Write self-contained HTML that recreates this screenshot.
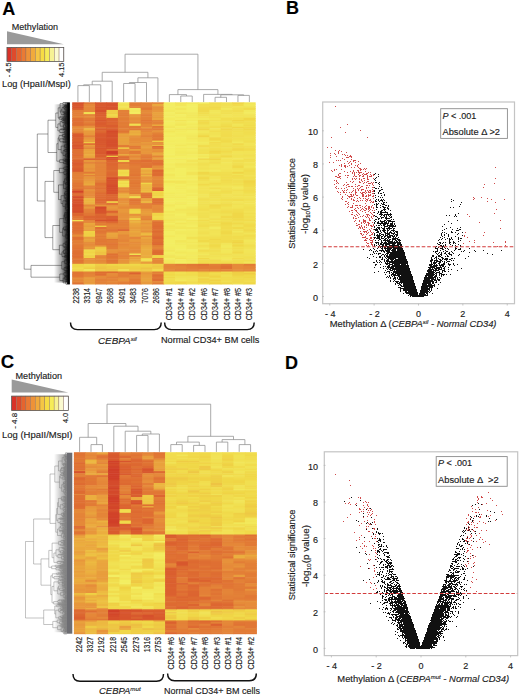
<!DOCTYPE html>
<html><head><meta charset="utf-8"><style>
html,body{margin:0;padding:0;background:#fff;}
svg{display:block;font-family:"Liberation Sans", sans-serif;}
text{stroke:#1a1a1a;stroke-width:0.14px;}

</style></head><body>
<svg width="520" height="696" viewBox="0 0 520 696">
<rect width="520" height="696" fill="#fff"/>
<text x="2.2" y="15.2" font-size="18" font-weight="bold" fill="#000">A</text>
<text x="286" y="13.9" font-size="18" font-weight="bold" fill="#000">B</text>
<text x="0.8" y="367.7" font-size="18.5" font-weight="bold" fill="#000">C</text>
<text x="284.9" y="369" font-size="18" font-weight="bold" fill="#000">D</text>
<text x="11.75" y="29.6" font-size="9.1" fill="#222" textLength="46.3" lengthAdjust="spacingAndGlyphs">Methylation</text>
<polygon points="7,31.3 7,44.3 63.8,44.3" fill="#9a9a9a"/>
<rect x="7" y="47.4" width="4.73" height="14" fill="#d93228" stroke="#8a6a5a" stroke-width="0.4"/>
<rect x="11.73" y="47.4" width="4.73" height="14" fill="#df4a2c" stroke="#8a6a5a" stroke-width="0.4"/>
<rect x="16.47" y="47.4" width="4.73" height="14" fill="#e6642e" stroke="#8a6a5a" stroke-width="0.4"/>
<rect x="21.2" y="47.4" width="4.73" height="14" fill="#ea7a34" stroke="#8a6a5a" stroke-width="0.4"/>
<rect x="25.93" y="47.4" width="4.73" height="14" fill="#ee9238" stroke="#8a6a5a" stroke-width="0.4"/>
<rect x="30.67" y="47.4" width="4.73" height="14" fill="#f1aa3c" stroke="#8a6a5a" stroke-width="0.4"/>
<rect x="35.4" y="47.4" width="4.73" height="14" fill="#f5c644" stroke="#8a6a5a" stroke-width="0.4"/>
<rect x="40.13" y="47.4" width="4.73" height="14" fill="#f7dc44" stroke="#8a6a5a" stroke-width="0.4"/>
<rect x="44.87" y="47.4" width="4.73" height="14" fill="#f6ec58" stroke="#8a6a5a" stroke-width="0.4"/>
<rect x="49.6" y="47.4" width="4.73" height="14" fill="#f7f294" stroke="#8a6a5a" stroke-width="0.4"/>
<rect x="54.33" y="47.4" width="4.73" height="14" fill="#fbfad0" stroke="#8a6a5a" stroke-width="0.4"/>
<rect x="59.07" y="47.4" width="4.73" height="14" fill="#ffffff" stroke="#8a6a5a" stroke-width="0.4"/>
<rect x="7" y="47.4" width="56.8" height="14" fill="none" stroke="#555" stroke-width="0.7"/>
<text x="11.4" y="62.5" font-size="7.8" text-anchor="end" fill="#222" transform="rotate(-90 11.4 62.5)" textLength="14.8" lengthAdjust="spacingAndGlyphs">- 4.5</text>
<text x="64.4" y="62.5" font-size="7.8" text-anchor="end" fill="#222" transform="rotate(-90 64.4 62.5)" textLength="14.5" lengthAdjust="spacingAndGlyphs">4.15</text>
<text x="2" y="86.7" font-size="9.3" fill="#222" textLength="68.8" lengthAdjust="spacingAndGlyphs">Log (HpaII/MspI)</text>
<text x="15.5" y="378.5" font-size="9.1" fill="#222" textLength="46.5" lengthAdjust="spacingAndGlyphs">Methylation</text>
<polygon points="11.7,379.5 11.7,392.6 68.3,392.6" fill="#9a9a9a"/>
<rect x="11.7" y="396.1" width="4.72" height="14.4" fill="#d93228" stroke="#8a6a5a" stroke-width="0.4"/>
<rect x="16.42" y="396.1" width="4.72" height="14.4" fill="#df4a2c" stroke="#8a6a5a" stroke-width="0.4"/>
<rect x="21.13" y="396.1" width="4.72" height="14.4" fill="#e6642e" stroke="#8a6a5a" stroke-width="0.4"/>
<rect x="25.85" y="396.1" width="4.72" height="14.4" fill="#ea7a34" stroke="#8a6a5a" stroke-width="0.4"/>
<rect x="30.57" y="396.1" width="4.72" height="14.4" fill="#ee9238" stroke="#8a6a5a" stroke-width="0.4"/>
<rect x="35.28" y="396.1" width="4.72" height="14.4" fill="#f1aa3c" stroke="#8a6a5a" stroke-width="0.4"/>
<rect x="40" y="396.1" width="4.72" height="14.4" fill="#f5c644" stroke="#8a6a5a" stroke-width="0.4"/>
<rect x="44.72" y="396.1" width="4.72" height="14.4" fill="#f7dc44" stroke="#8a6a5a" stroke-width="0.4"/>
<rect x="49.43" y="396.1" width="4.72" height="14.4" fill="#f6ec58" stroke="#8a6a5a" stroke-width="0.4"/>
<rect x="54.15" y="396.1" width="4.72" height="14.4" fill="#f7f294" stroke="#8a6a5a" stroke-width="0.4"/>
<rect x="58.87" y="396.1" width="4.72" height="14.4" fill="#fbfad0" stroke="#8a6a5a" stroke-width="0.4"/>
<rect x="63.58" y="396.1" width="4.72" height="14.4" fill="#ffffff" stroke="#8a6a5a" stroke-width="0.4"/>
<rect x="11.7" y="396.1" width="56.6" height="14.4" fill="none" stroke="#555" stroke-width="0.7"/>
<text x="16.6" y="412.8" font-size="7.8" text-anchor="end" fill="#222" transform="rotate(-90 16.6 412.8)" textLength="16" lengthAdjust="spacingAndGlyphs">- 4.8</text>
<text x="68.3" y="412.8" font-size="7.8" text-anchor="end" fill="#222" transform="rotate(-90 68.3 412.8)" textLength="10.3" lengthAdjust="spacingAndGlyphs">4.0</text>
<text x="2" y="438" font-size="9.5" fill="#222" textLength="70.5" lengthAdjust="spacingAndGlyphs">Log (HpaII/MspI)</text>
<g class="ha"><g transform="translate(72.2 0)"><rect y="102.3" width="12.03" height="2.2" fill="#d6502c"/><rect y="103.9" width="12.03" height="2.9" fill="#d8572d"/><rect y="106.2" width="12.03" height="2.4" fill="#d7552d"/><rect y="108" width="12.03" height="2.5" fill="#da5e2f"/><rect y="109.9" width="12.03" height="2.8" fill="#e37e37"/><rect y="112.1" width="12.03" height="2.6" fill="#e37f37"/><rect y="114.1" width="12.03" height="2.7" fill="#e37f37"/><rect y="116.2" width="12.03" height="2.4" fill="#e48438"/><rect y="117.9" width="12.03" height="2.7" fill="#df7133"/><rect y="120" width="12.03" height="1.8" fill="#df6e33"/><rect y="121.2" width="12.03" height="3" fill="#df6e33"/><rect y="123.6" width="12.03" height="1.7" fill="#de6e32"/><rect y="124.6" width="12.03" height="1.7" fill="#de6b32"/><rect y="125.8" width="12.03" height="1.9" fill="#e48538"/><rect y="127" width="12.03" height="1.7" fill="#e68b3a"/><rect y="128.2" width="12.03" height="2.7" fill="#e58839"/><rect y="130.3" width="12.03" height="2.2" fill="#e68a3a"/><rect y="131.9" width="12.03" height="2.1" fill="#e38137"/><rect y="133.4" width="12.03" height="2.6" fill="#da5c2e"/><rect y="135.4" width="12.03" height="2.5" fill="#d95b2e"/><rect y="137.3" width="12.03" height="2.9" fill="#db602f"/><rect y="139.5" width="12.03" height="1.7" fill="#dc6530"/><rect y="140.6" width="12.03" height="1.9" fill="#da5f2f"/><rect y="142" width="12.03" height="1.9" fill="#d95a2e"/><rect y="143.2" width="12.03" height="2.4" fill="#da5e2f"/><rect y="145" width="12.03" height="1.6" fill="#d7552d"/><rect y="146" width="12.03" height="1.9" fill="#d8582e"/><rect y="147.4" width="12.03" height="2.1" fill="#d7542d"/><rect y="148.9" width="12.03" height="2.5" fill="#df7133"/><rect y="150.8" width="12.03" height="2.2" fill="#df7133"/><rect y="152.4" width="12.03" height="2.3" fill="#df7133"/><rect y="154.1" width="12.03" height="2.2" fill="#de6b32"/><rect y="155.7" width="12.03" height="1.9" fill="#e07334"/><rect y="156.9" width="12.03" height="1.9" fill="#e07334"/><rect y="158.3" width="12.03" height="2.3" fill="#df6f33"/><rect y="160" width="12.03" height="2.7" fill="#dc6330"/><rect y="162.1" width="12.03" height="2" fill="#da5c2e"/><rect y="163.5" width="12.03" height="2.6" fill="#da5d2f"/><rect y="165.5" width="12.03" height="3" fill="#dc6430"/><rect y="167.9" width="12.03" height="2.3" fill="#da5e2f"/><rect y="169.6" width="12.03" height="2.8" fill="#d95a2e"/><rect y="171.8" width="12.03" height="2.5" fill="#e27d36"/><rect y="173.7" width="12.03" height="1.8" fill="#e38137"/><rect y="174.8" width="12.03" height="2.1" fill="#e38037"/><rect y="176.3" width="12.03" height="1.7" fill="#e27e36"/><rect y="177.4" width="12.03" height="2.4" fill="#e38137"/><rect y="179.2" width="12.03" height="2.1" fill="#e38137"/><rect y="180.6" width="12.03" height="2.7" fill="#e27e36"/><rect y="182.7" width="12.03" height="1.7" fill="#e17635"/><rect y="183.9" width="12.03" height="2.2" fill="#e17835"/><rect y="185.5" width="12.03" height="2.4" fill="#e07534"/><rect y="187.3" width="12.03" height="2.6" fill="#e17735"/><rect y="189.3" width="12.03" height="2.3" fill="#db612f"/><rect y="191" width="12.03" height="2.2" fill="#d24429"/><rect y="192.6" width="12.03" height="2.1" fill="#de6a32"/><rect y="194.1" width="12.03" height="2.7" fill="#dd6a31"/><rect y="196.2" width="12.03" height="2.6" fill="#d54d2b"/><rect y="198.2" width="12.03" height="1.9" fill="#db612f"/><rect y="199.5" width="12.03" height="2.3" fill="#d6512c"/><rect y="201.2" width="12.03" height="2.4" fill="#d7542d"/><rect y="203.1" width="12.03" height="2.1" fill="#d6512c"/><rect y="204.6" width="12.03" height="2.5" fill="#d44c2b"/><rect y="206.5" width="12.03" height="2.9" fill="#d6512c"/><rect y="208.7" width="12.03" height="2.6" fill="#d6512c"/><rect y="210.7" width="12.03" height="2.6" fill="#d44b2b"/><rect y="212.8" width="12.03" height="1.6" fill="#dd6a31"/><rect y="213.8" width="12.03" height="2.6" fill="#dc6330"/><rect y="215.8" width="12.03" height="2.9" fill="#e07434"/><rect y="218.1" width="12.03" height="2.5" fill="#e27a36"/><rect y="220" width="12.03" height="1.9" fill="#f2e355"/><rect y="221.3" width="12.03" height="2.1" fill="#e07534"/><rect y="222.8" width="12.03" height="2.2" fill="#de6e32"/><rect y="224.4" width="12.03" height="1.8" fill="#df6f33"/><rect y="225.6" width="12.03" height="1.9" fill="#e07334"/><rect y="227" width="12.03" height="2.7" fill="#df6f33"/><rect y="229.1" width="12.03" height="2.5" fill="#de6d32"/><rect y="231" width="12.03" height="2.1" fill="#df7133"/><rect y="232.5" width="12.03" height="2.5" fill="#e17635"/><rect y="234.5" width="12.03" height="1.7" fill="#e68d3a"/><rect y="235.6" width="12.03" height="1.8" fill="#e7903b"/><rect y="236.7" width="12.03" height="2.7" fill="#df7033"/><rect y="238.9" width="12.03" height="1.7" fill="#e07234"/><rect y="240" width="12.03" height="2.5" fill="#e37f37"/><rect y="241.9" width="12.03" height="2" fill="#e27d36"/><rect y="243.3" width="12.03" height="2.1" fill="#e37f37"/><rect y="244.8" width="12.03" height="2.4" fill="#e17935"/><rect y="246.6" width="12.03" height="1.7" fill="#e17935"/><rect y="247.7" width="12.03" height="2.2" fill="#e07534"/><rect y="249.4" width="12.03" height="2.9" fill="#e07234"/><rect y="251.7" width="12.03" height="2.4" fill="#df6f33"/><rect y="253.5" width="12.03" height="2.2" fill="#df7133"/><rect y="255.1" width="12.03" height="2" fill="#de6d32"/><rect y="256.5" width="12.03" height="2.1" fill="#df7033"/><rect y="258" width="12.03" height="1.7" fill="#e17935"/><rect y="259.2" width="12.03" height="2.9" fill="#e07434"/><rect y="261.5" width="12.03" height="2.9" fill="#e17835"/><rect y="263.8" width="12.03" height="2.5" fill="#f0d848"/><rect y="265.7" width="12.03" height="2.4" fill="#f0d748"/><rect y="267.5" width="12.03" height="2.3" fill="#f1dd4e"/><rect y="269.2" width="12.03" height="1.7" fill="#f0d546"/><rect y="270.3" width="12.03" height="1.8" fill="#f0d94a"/><rect y="271.5" width="12.03" height="1.8" fill="#e17735"/><rect y="272.7" width="12.03" height="2.3" fill="#e07534"/><rect y="274.4" width="12.03" height="1.9" fill="#e17735"/><rect y="275.6" width="12.03" height="1.7" fill="#e17635"/><rect y="276.8" width="12.03" height="2.1" fill="#e48438"/><rect y="278.3" width="12.03" height="1.9" fill="#e68e3a"/><rect y="279.5" width="12.03" height="2.4" fill="#e48638"/><rect y="281.3" width="12.03" height="1.8" fill="#e58739"/><rect y="282.6" width="12.03" height="1.9" fill="#df7233"/></g>
<g transform="translate(83.63 0)"><rect y="102.3" width="12.03" height="2.2" fill="#e07534"/><rect y="103.9" width="12.03" height="2.9" fill="#e58739"/><rect y="106.2" width="12.03" height="2.4" fill="#e58839"/><rect y="108" width="12.03" height="2.5" fill="#e58739"/><rect y="109.9" width="12.03" height="2.8" fill="#e58739"/><rect y="112.1" width="12.03" height="2.6" fill="#f1e052"/><rect y="114.1" width="12.03" height="2.7" fill="#e48438"/><rect y="116.2" width="12.03" height="2.4" fill="#e68c3a"/><rect y="117.9" width="12.03" height="2.7" fill="#e27b36"/><rect y="120" width="12.03" height="1.8" fill="#e17835"/><rect y="121.2" width="12.03" height="3" fill="#e37f37"/><rect y="123.6" width="12.03" height="1.7" fill="#e07434"/><rect y="124.6" width="12.03" height="1.7" fill="#e17835"/><rect y="125.8" width="12.03" height="1.9" fill="#e78f3b"/><rect y="127" width="12.03" height="1.7" fill="#e7943b"/><rect y="128.2" width="12.03" height="2.7" fill="#ecb540"/><rect y="130.3" width="12.03" height="2.2" fill="#e89a3c"/><rect y="131.9" width="12.03" height="2.1" fill="#e89a3c"/><rect y="133.4" width="12.03" height="2.6" fill="#e8963c"/><rect y="135.4" width="12.03" height="2.5" fill="#e38037"/><rect y="137.3" width="12.03" height="2.9" fill="#e7953b"/><rect y="139.5" width="12.03" height="1.7" fill="#e9a03d"/><rect y="140.6" width="12.03" height="1.9" fill="#e99e3d"/><rect y="142" width="12.03" height="1.9" fill="#efc944"/><rect y="143.2" width="12.03" height="2.4" fill="#e07234"/><rect y="145" width="12.03" height="1.6" fill="#e99e3d"/><rect y="146" width="12.03" height="1.9" fill="#e7943b"/><rect y="147.4" width="12.03" height="2.1" fill="#e48538"/><rect y="148.9" width="12.03" height="2.5" fill="#e9a23d"/><rect y="150.8" width="12.03" height="2.2" fill="#eaa73e"/><rect y="152.4" width="12.03" height="2.3" fill="#e9a33d"/><rect y="154.1" width="12.03" height="2.2" fill="#ebab3f"/><rect y="155.7" width="12.03" height="1.9" fill="#eaa53e"/><rect y="156.9" width="12.03" height="1.9" fill="#e9a13d"/><rect y="158.3" width="12.03" height="2.3" fill="#dc6430"/><rect y="160" width="12.03" height="2.7" fill="#e8973c"/><rect y="162.1" width="12.03" height="2" fill="#e38037"/><rect y="163.5" width="12.03" height="2.6" fill="#e8973c"/><rect y="165.5" width="12.03" height="3" fill="#e8993c"/><rect y="167.9" width="12.03" height="2.3" fill="#e7923b"/><rect y="169.6" width="12.03" height="2.8" fill="#e8973c"/><rect y="171.8" width="12.03" height="2.5" fill="#e27a36"/><rect y="173.7" width="12.03" height="1.8" fill="#eaa73e"/><rect y="174.8" width="12.03" height="2.1" fill="#e38137"/><rect y="176.3" width="12.03" height="1.7" fill="#e7953b"/><rect y="177.4" width="12.03" height="2.4" fill="#e7963b"/><rect y="179.2" width="12.03" height="2.1" fill="#e8963c"/><rect y="180.6" width="12.03" height="2.7" fill="#e9a13d"/><rect y="182.7" width="12.03" height="1.7" fill="#eaa53e"/><rect y="183.9" width="12.03" height="2.2" fill="#eaa93e"/><rect y="185.5" width="12.03" height="2.4" fill="#e48238"/><rect y="187.3" width="12.03" height="2.6" fill="#e37e37"/><rect y="189.3" width="12.03" height="2.3" fill="#e7933b"/><rect y="191" width="12.03" height="2.2" fill="#e68b3a"/><rect y="192.6" width="12.03" height="2.1" fill="#e68b3a"/><rect y="194.1" width="12.03" height="2.7" fill="#e68a3a"/><rect y="196.2" width="12.03" height="2.6" fill="#e7913b"/><rect y="198.2" width="12.03" height="1.9" fill="#edba41"/><rect y="199.5" width="12.03" height="2.3" fill="#ecb340"/><rect y="201.2" width="12.03" height="2.4" fill="#ecb340"/><rect y="203.1" width="12.03" height="2.1" fill="#ebac3f"/><rect y="204.6" width="12.03" height="2.5" fill="#e58739"/><rect y="206.5" width="12.03" height="2.9" fill="#e8993c"/><rect y="208.7" width="12.03" height="2.6" fill="#e48238"/><rect y="210.7" width="12.03" height="2.6" fill="#e38037"/><rect y="212.8" width="12.03" height="1.6" fill="#e17835"/><rect y="213.8" width="12.03" height="2.6" fill="#e17635"/><rect y="215.8" width="12.03" height="2.9" fill="#dc6530"/><rect y="218.1" width="12.03" height="2.5" fill="#dd6831"/><rect y="220" width="12.03" height="1.9" fill="#e48438"/><rect y="221.3" width="12.03" height="2.1" fill="#e48438"/><rect y="222.8" width="12.03" height="2.2" fill="#eaa73e"/><rect y="224.4" width="12.03" height="1.8" fill="#e9a33d"/><rect y="225.6" width="12.03" height="1.9" fill="#e89c3c"/><rect y="227" width="12.03" height="2.7" fill="#eaa43e"/><rect y="229.1" width="12.03" height="2.5" fill="#e99f3d"/><rect y="231" width="12.03" height="2.1" fill="#f0d345"/><rect y="232.5" width="12.03" height="2.5" fill="#efcf45"/><rect y="234.5" width="12.03" height="1.7" fill="#efcf45"/><rect y="235.6" width="12.03" height="1.8" fill="#efd145"/><rect y="236.7" width="12.03" height="2.7" fill="#e89b3c"/><rect y="238.9" width="12.03" height="1.7" fill="#eaa53e"/><rect y="240" width="12.03" height="2.5" fill="#e9a13d"/><rect y="241.9" width="12.03" height="2" fill="#e68f3a"/><rect y="243.3" width="12.03" height="2.1" fill="#e68b3a"/><rect y="244.8" width="12.03" height="2.4" fill="#e68e3a"/><rect y="246.6" width="12.03" height="1.7" fill="#e89c3c"/><rect y="247.7" width="12.03" height="2.2" fill="#e7963b"/><rect y="249.4" width="12.03" height="2.9" fill="#f0d94a"/><rect y="251.7" width="12.03" height="2.4" fill="#f0d446"/><rect y="253.5" width="12.03" height="2.2" fill="#f1db4c"/><rect y="255.1" width="12.03" height="2" fill="#efcf45"/><rect y="256.5" width="12.03" height="2.1" fill="#f0d345"/><rect y="258" width="12.03" height="1.7" fill="#e7903b"/><rect y="259.2" width="12.03" height="2.9" fill="#e68f3a"/><rect y="261.5" width="12.03" height="2.9" fill="#e7923b"/><rect y="263.8" width="12.03" height="2.5" fill="#f1dd4f"/><rect y="265.7" width="12.03" height="2.4" fill="#f0d949"/><rect y="267.5" width="12.03" height="2.3" fill="#efd045"/><rect y="269.2" width="12.03" height="1.7" fill="#f2e85b"/><rect y="270.3" width="12.03" height="1.8" fill="#f1e153"/><rect y="271.5" width="12.03" height="1.8" fill="#e48338"/><rect y="272.7" width="12.03" height="2.3" fill="#e38037"/><rect y="274.4" width="12.03" height="1.9" fill="#e58639"/><rect y="275.6" width="12.03" height="1.7" fill="#e48338"/><rect y="276.8" width="12.03" height="2.1" fill="#e8993c"/><rect y="278.3" width="12.03" height="1.9" fill="#e89b3c"/><rect y="279.5" width="12.03" height="2.4" fill="#e89b3c"/><rect y="281.3" width="12.03" height="1.8" fill="#e8963c"/><rect y="282.6" width="12.03" height="1.9" fill="#e99d3d"/></g>
<g transform="translate(95.06 0)"><rect y="102.3" width="12.03" height="2.2" fill="#d8562d"/><rect y="103.9" width="12.03" height="2.9" fill="#d95a2e"/><rect y="106.2" width="12.03" height="2.4" fill="#d7552d"/><rect y="108" width="12.03" height="2.5" fill="#d95a2e"/><rect y="109.9" width="12.03" height="2.8" fill="#d6502c"/><rect y="112.1" width="12.03" height="2.6" fill="#da5f2f"/><rect y="114.1" width="12.03" height="2.7" fill="#db602f"/><rect y="116.2" width="12.03" height="2.4" fill="#dc6430"/><rect y="117.9" width="12.03" height="2.7" fill="#db612f"/><rect y="120" width="12.03" height="1.8" fill="#d8582e"/><rect y="121.2" width="12.03" height="3" fill="#da5d2f"/><rect y="123.6" width="12.03" height="1.7" fill="#d95b2e"/><rect y="124.6" width="12.03" height="1.7" fill="#db602f"/><rect y="125.8" width="12.03" height="1.9" fill="#da5f2f"/><rect y="127" width="12.03" height="1.7" fill="#df7033"/><rect y="128.2" width="12.03" height="2.7" fill="#da5f2f"/><rect y="130.3" width="12.03" height="2.2" fill="#dd6931"/><rect y="131.9" width="12.03" height="2.1" fill="#dc6430"/><rect y="133.4" width="12.03" height="2.6" fill="#d95a2e"/><rect y="135.4" width="12.03" height="2.5" fill="#d95a2e"/><rect y="137.3" width="12.03" height="2.9" fill="#d8592e"/><rect y="139.5" width="12.03" height="1.7" fill="#d7562d"/><rect y="140.6" width="12.03" height="1.9" fill="#d8582e"/><rect y="142" width="12.03" height="1.9" fill="#d8572d"/><rect y="143.2" width="12.03" height="2.4" fill="#d8572d"/><rect y="145" width="12.03" height="1.6" fill="#da5c2e"/><rect y="146" width="12.03" height="1.9" fill="#d95b2e"/><rect y="147.4" width="12.03" height="2.1" fill="#d8572d"/><rect y="148.9" width="12.03" height="2.5" fill="#d95b2e"/><rect y="150.8" width="12.03" height="2.2" fill="#d95a2e"/><rect y="152.4" width="12.03" height="2.3" fill="#d8582d"/><rect y="154.1" width="12.03" height="2.2" fill="#db6230"/><rect y="155.7" width="12.03" height="1.9" fill="#da5f2f"/><rect y="156.9" width="12.03" height="1.9" fill="#de6c32"/><rect y="158.3" width="12.03" height="2.3" fill="#dc6630"/><rect y="160" width="12.03" height="2.7" fill="#e68b3a"/><rect y="162.1" width="12.03" height="2" fill="#e27b36"/><rect y="163.5" width="12.03" height="2.6" fill="#e48538"/><rect y="165.5" width="12.03" height="3" fill="#e48338"/><rect y="167.9" width="12.03" height="2.3" fill="#e48438"/><rect y="169.6" width="12.03" height="2.8" fill="#e48338"/><rect y="171.8" width="12.03" height="2.5" fill="#e48338"/><rect y="173.7" width="12.03" height="1.8" fill="#e48538"/><rect y="174.8" width="12.03" height="2.1" fill="#e38137"/><rect y="176.3" width="12.03" height="1.7" fill="#e58639"/><rect y="177.4" width="12.03" height="2.4" fill="#e58739"/><rect y="179.2" width="12.03" height="2.1" fill="#e38237"/><rect y="180.6" width="12.03" height="2.7" fill="#e37f37"/><rect y="182.7" width="12.03" height="1.7" fill="#df7033"/><rect y="183.9" width="12.03" height="2.2" fill="#df7033"/><rect y="185.5" width="12.03" height="2.4" fill="#e17735"/><rect y="187.3" width="12.03" height="2.6" fill="#df7033"/><rect y="189.3" width="12.03" height="2.3" fill="#e17735"/><rect y="191" width="12.03" height="2.2" fill="#e07634"/><rect y="192.6" width="12.03" height="2.1" fill="#de6d32"/><rect y="194.1" width="12.03" height="2.7" fill="#df6e33"/><rect y="196.2" width="12.03" height="2.6" fill="#de6b32"/><rect y="198.2" width="12.03" height="1.9" fill="#de6b32"/><rect y="199.5" width="12.03" height="2.3" fill="#dd6931"/><rect y="201.2" width="12.03" height="2.4" fill="#de6c32"/><rect y="203.1" width="12.03" height="2.1" fill="#e07334"/><rect y="204.6" width="12.03" height="2.5" fill="#e7953b"/><rect y="206.5" width="12.03" height="2.9" fill="#d44a2b"/><rect y="208.7" width="12.03" height="2.6" fill="#d7532c"/><rect y="210.7" width="12.03" height="2.6" fill="#d7532c"/><rect y="212.8" width="12.03" height="1.6" fill="#d8592e"/><rect y="213.8" width="12.03" height="2.6" fill="#dd6731"/><rect y="215.8" width="12.03" height="2.9" fill="#db622f"/><rect y="218.1" width="12.03" height="2.5" fill="#dc6330"/><rect y="220" width="12.03" height="1.9" fill="#d6512c"/><rect y="221.3" width="12.03" height="2.1" fill="#df7133"/><rect y="222.8" width="12.03" height="2.2" fill="#e37f37"/><rect y="224.4" width="12.03" height="1.8" fill="#e17935"/><rect y="225.6" width="12.03" height="1.9" fill="#efcb44"/><rect y="227" width="12.03" height="2.7" fill="#df6f33"/><rect y="229.1" width="12.03" height="2.5" fill="#e17a35"/><rect y="231" width="12.03" height="2.1" fill="#e07534"/><rect y="232.5" width="12.03" height="2.5" fill="#e27b36"/><rect y="234.5" width="12.03" height="1.7" fill="#e58939"/><rect y="235.6" width="12.03" height="1.8" fill="#e17935"/><rect y="236.7" width="12.03" height="2.7" fill="#e38137"/><rect y="238.9" width="12.03" height="1.7" fill="#e17a35"/><rect y="240" width="12.03" height="2.5" fill="#e17935"/><rect y="241.9" width="12.03" height="2" fill="#e27b36"/><rect y="243.3" width="12.03" height="2.1" fill="#e07534"/><rect y="244.8" width="12.03" height="2.4" fill="#e68c3a"/><rect y="246.6" width="12.03" height="1.7" fill="#eec643"/><rect y="247.7" width="12.03" height="2.2" fill="#efcb44"/><rect y="249.4" width="12.03" height="2.9" fill="#efcc44"/><rect y="251.7" width="12.03" height="2.4" fill="#eec242"/><rect y="253.5" width="12.03" height="2.2" fill="#eec443"/><rect y="255.1" width="12.03" height="2" fill="#e58839"/><rect y="256.5" width="12.03" height="2.1" fill="#e48338"/><rect y="258" width="12.03" height="1.7" fill="#e68a3a"/><rect y="259.2" width="12.03" height="2.9" fill="#e58839"/><rect y="261.5" width="12.03" height="2.9" fill="#e68e3a"/><rect y="263.8" width="12.03" height="2.5" fill="#efd045"/><rect y="265.7" width="12.03" height="2.4" fill="#eec944"/><rect y="267.5" width="12.03" height="2.3" fill="#eec443"/><rect y="269.2" width="12.03" height="1.7" fill="#eec843"/><rect y="270.3" width="12.03" height="1.8" fill="#eec743"/><rect y="271.5" width="12.03" height="1.8" fill="#dd6a31"/><rect y="272.7" width="12.03" height="2.3" fill="#e07334"/><rect y="274.4" width="12.03" height="1.9" fill="#de6d32"/><rect y="275.6" width="12.03" height="1.7" fill="#e68b3a"/><rect y="276.8" width="12.03" height="2.1" fill="#e68b3a"/><rect y="278.3" width="12.03" height="1.9" fill="#e48338"/><rect y="279.5" width="12.03" height="2.4" fill="#e38037"/><rect y="281.3" width="12.03" height="1.8" fill="#e38037"/><rect y="282.6" width="12.03" height="1.9" fill="#e48438"/></g>
<g transform="translate(106.49 0)"><rect y="102.3" width="12.03" height="2.2" fill="#d7562d"/><rect y="103.9" width="12.03" height="2.9" fill="#d7542d"/><rect y="106.2" width="12.03" height="2.4" fill="#d7552d"/><rect y="108" width="12.03" height="2.5" fill="#d7532d"/><rect y="109.9" width="12.03" height="2.8" fill="#efce45"/><rect y="112.1" width="12.03" height="2.6" fill="#efcb44"/><rect y="114.1" width="12.03" height="2.7" fill="#f0d849"/><rect y="116.2" width="12.03" height="2.4" fill="#efcd44"/><rect y="117.9" width="12.03" height="2.7" fill="#dc6330"/><rect y="120" width="12.03" height="1.8" fill="#dc6530"/><rect y="121.2" width="12.03" height="3" fill="#dc6330"/><rect y="123.6" width="12.03" height="1.7" fill="#de6b32"/><rect y="124.6" width="12.03" height="1.7" fill="#da5e2f"/><rect y="125.8" width="12.03" height="1.9" fill="#da5d2e"/><rect y="127" width="12.03" height="1.7" fill="#dc6530"/><rect y="128.2" width="12.03" height="2.7" fill="#da5e2f"/><rect y="130.3" width="12.03" height="2.2" fill="#d44a2a"/><rect y="131.9" width="12.03" height="2.1" fill="#d54e2b"/><rect y="133.4" width="12.03" height="2.6" fill="#d6522c"/><rect y="135.4" width="12.03" height="2.5" fill="#d54f2c"/><rect y="137.3" width="12.03" height="2.9" fill="#d7552d"/><rect y="139.5" width="12.03" height="1.7" fill="#d6502c"/><rect y="140.6" width="12.03" height="1.9" fill="#d54f2c"/><rect y="142" width="12.03" height="1.9" fill="#d54e2b"/><rect y="143.2" width="12.03" height="2.4" fill="#d54e2b"/><rect y="145" width="12.03" height="1.6" fill="#d54f2b"/><rect y="146" width="12.03" height="1.9" fill="#d6512c"/><rect y="147.4" width="12.03" height="2.1" fill="#d7532c"/><rect y="148.9" width="12.03" height="2.5" fill="#e07234"/><rect y="150.8" width="12.03" height="2.2" fill="#d03e28"/><rect y="152.4" width="12.03" height="2.3" fill="#d03e28"/><rect y="154.1" width="12.03" height="2.2" fill="#d6512c"/><rect y="155.7" width="12.03" height="1.9" fill="#f0d446"/><rect y="156.9" width="12.03" height="1.9" fill="#d44c2b"/><rect y="158.3" width="12.03" height="2.3" fill="#d7532c"/><rect y="160" width="12.03" height="2.7" fill="#dc6530"/><rect y="162.1" width="12.03" height="2" fill="#dd6831"/><rect y="163.5" width="12.03" height="2.6" fill="#dd6631"/><rect y="165.5" width="12.03" height="3" fill="#dd6a31"/><rect y="167.9" width="12.03" height="2.3" fill="#dd6a31"/><rect y="169.6" width="12.03" height="2.8" fill="#df6f33"/><rect y="171.8" width="12.03" height="2.5" fill="#dd6931"/><rect y="173.7" width="12.03" height="1.8" fill="#dd6731"/><rect y="174.8" width="12.03" height="2.1" fill="#dd6931"/><rect y="176.3" width="12.03" height="1.7" fill="#dd6731"/><rect y="177.4" width="12.03" height="2.4" fill="#d44c2b"/><rect y="179.2" width="12.03" height="2.1" fill="#d6512c"/><rect y="180.6" width="12.03" height="2.7" fill="#d7542d"/><rect y="182.7" width="12.03" height="1.7" fill="#d7552d"/><rect y="183.9" width="12.03" height="2.2" fill="#d6502c"/><rect y="185.5" width="12.03" height="2.4" fill="#d44b2b"/><rect y="187.3" width="12.03" height="2.6" fill="#d54e2b"/><rect y="189.3" width="12.03" height="2.3" fill="#d54d2b"/><rect y="191" width="12.03" height="2.2" fill="#d6522c"/><rect y="192.6" width="12.03" height="2.1" fill="#d6512c"/><rect y="194.1" width="12.03" height="2.7" fill="#dc6530"/><rect y="196.2" width="12.03" height="2.6" fill="#dd6731"/><rect y="198.2" width="12.03" height="1.9" fill="#dc6330"/><rect y="199.5" width="12.03" height="2.3" fill="#dc6430"/><rect y="201.2" width="12.03" height="2.4" fill="#efca44"/><rect y="203.1" width="12.03" height="2.1" fill="#dd6731"/><rect y="204.6" width="12.03" height="2.5" fill="#e7903b"/><rect y="206.5" width="12.03" height="2.9" fill="#e8993c"/><rect y="208.7" width="12.03" height="2.6" fill="#e7913b"/><rect y="210.7" width="12.03" height="2.6" fill="#dc6330"/><rect y="212.8" width="12.03" height="1.6" fill="#e38037"/><rect y="213.8" width="12.03" height="2.6" fill="#e58639"/><rect y="215.8" width="12.03" height="2.9" fill="#da5f2f"/><rect y="218.1" width="12.03" height="2.5" fill="#d95a2e"/><rect y="220" width="12.03" height="1.9" fill="#d7532c"/><rect y="221.3" width="12.03" height="2.1" fill="#dc6630"/><rect y="222.8" width="12.03" height="2.2" fill="#e17835"/><rect y="224.4" width="12.03" height="1.8" fill="#e48238"/><rect y="225.6" width="12.03" height="1.9" fill="#e48238"/><rect y="227" width="12.03" height="2.7" fill="#e27e36"/><rect y="229.1" width="12.03" height="2.5" fill="#e07434"/><rect y="231" width="12.03" height="2.1" fill="#e27d36"/><rect y="232.5" width="12.03" height="2.5" fill="#eaa63e"/><rect y="234.5" width="12.03" height="1.7" fill="#e9a13d"/><rect y="235.6" width="12.03" height="1.8" fill="#eaa53e"/><rect y="236.7" width="12.03" height="2.7" fill="#e89c3c"/><rect y="238.9" width="12.03" height="1.7" fill="#e07634"/><rect y="240" width="12.03" height="2.5" fill="#e27d36"/><rect y="241.9" width="12.03" height="2" fill="#e27c36"/><rect y="243.3" width="12.03" height="2.1" fill="#e17635"/><rect y="244.8" width="12.03" height="2.4" fill="#e27a36"/><rect y="246.6" width="12.03" height="1.7" fill="#e27d36"/><rect y="247.7" width="12.03" height="2.2" fill="#e27d36"/><rect y="249.4" width="12.03" height="2.9" fill="#e7933b"/><rect y="251.7" width="12.03" height="2.4" fill="#e7903b"/><rect y="253.5" width="12.03" height="2.2" fill="#df7133"/><rect y="255.1" width="12.03" height="2" fill="#e07434"/><rect y="256.5" width="12.03" height="2.1" fill="#e07534"/><rect y="258" width="12.03" height="1.7" fill="#e17a35"/><rect y="259.2" width="12.03" height="2.9" fill="#e07534"/><rect y="261.5" width="12.03" height="2.9" fill="#e17a35"/><rect y="263.8" width="12.03" height="2.5" fill="#f0d848"/><rect y="265.7" width="12.03" height="2.4" fill="#efcd44"/><rect y="267.5" width="12.03" height="2.3" fill="#efcd44"/><rect y="269.2" width="12.03" height="1.7" fill="#eec443"/><rect y="270.3" width="12.03" height="1.8" fill="#efcb44"/><rect y="271.5" width="12.03" height="1.8" fill="#db602f"/><rect y="272.7" width="12.03" height="2.3" fill="#e68c3a"/><rect y="274.4" width="12.03" height="1.9" fill="#e68d3a"/><rect y="275.6" width="12.03" height="1.7" fill="#e58839"/><rect y="276.8" width="12.03" height="2.1" fill="#e38137"/><rect y="278.3" width="12.03" height="1.9" fill="#e58739"/><rect y="279.5" width="12.03" height="2.4" fill="#e48338"/><rect y="281.3" width="12.03" height="1.8" fill="#e68b3a"/><rect y="282.6" width="12.03" height="1.9" fill="#e48338"/></g>
<g transform="translate(117.92 0)"><rect y="102.3" width="12.03" height="2.2" fill="#f2e558"/><rect y="103.9" width="12.03" height="2.9" fill="#f1e153"/><rect y="106.2" width="12.03" height="2.4" fill="#f2e356"/><rect y="108" width="12.03" height="2.5" fill="#f1dc4d"/><rect y="109.9" width="12.03" height="2.8" fill="#e38137"/><rect y="112.1" width="12.03" height="2.6" fill="#e37f37"/><rect y="114.1" width="12.03" height="2.7" fill="#e27d36"/><rect y="116.2" width="12.03" height="2.4" fill="#e38237"/><rect y="117.9" width="12.03" height="2.7" fill="#e27d36"/><rect y="120" width="12.03" height="1.8" fill="#e38037"/><rect y="121.2" width="12.03" height="3" fill="#e27c36"/><rect y="123.6" width="12.03" height="1.7" fill="#e27d36"/><rect y="124.6" width="12.03" height="1.7" fill="#e37f37"/><rect y="125.8" width="12.03" height="1.9" fill="#e17a35"/><rect y="127" width="12.03" height="1.7" fill="#e27b36"/><rect y="128.2" width="12.03" height="2.7" fill="#e38037"/><rect y="130.3" width="12.03" height="2.2" fill="#e07534"/><rect y="131.9" width="12.03" height="2.1" fill="#e27d36"/><rect y="133.4" width="12.03" height="2.6" fill="#e9a23d"/><rect y="135.4" width="12.03" height="2.5" fill="#e99d3d"/><rect y="137.3" width="12.03" height="2.9" fill="#e9a13d"/><rect y="139.5" width="12.03" height="1.7" fill="#e9a33d"/><rect y="140.6" width="12.03" height="1.9" fill="#e9a03d"/><rect y="142" width="12.03" height="1.9" fill="#e9a13d"/><rect y="143.2" width="12.03" height="2.4" fill="#e99f3d"/><rect y="145" width="12.03" height="1.6" fill="#e27d36"/><rect y="146" width="12.03" height="1.9" fill="#e27b36"/><rect y="147.4" width="12.03" height="2.1" fill="#efcd44"/><rect y="148.9" width="12.03" height="2.5" fill="#e58839"/><rect y="150.8" width="12.03" height="2.2" fill="#e58839"/><rect y="152.4" width="12.03" height="2.3" fill="#e48538"/><rect y="154.1" width="12.03" height="2.2" fill="#eaa83e"/><rect y="155.7" width="12.03" height="1.9" fill="#e17835"/><rect y="156.9" width="12.03" height="1.9" fill="#df6f33"/><rect y="158.3" width="12.03" height="2.3" fill="#df6e33"/><rect y="160" width="12.03" height="2.7" fill="#f0d848"/><rect y="162.1" width="12.03" height="2" fill="#df7033"/><rect y="163.5" width="12.03" height="2.6" fill="#e58839"/><rect y="165.5" width="12.03" height="3" fill="#e58639"/><rect y="167.9" width="12.03" height="2.3" fill="#e58839"/><rect y="169.6" width="12.03" height="2.8" fill="#f1dd4e"/><rect y="171.8" width="12.03" height="2.5" fill="#f0d848"/><rect y="173.7" width="12.03" height="1.8" fill="#f1db4c"/><rect y="174.8" width="12.03" height="2.1" fill="#f1de4f"/><rect y="176.3" width="12.03" height="1.7" fill="#e27e36"/><rect y="177.4" width="12.03" height="2.4" fill="#e07534"/><rect y="179.2" width="12.03" height="2.1" fill="#eaa93e"/><rect y="180.6" width="12.03" height="2.7" fill="#f1e152"/><rect y="182.7" width="12.03" height="1.7" fill="#f1da4b"/><rect y="183.9" width="12.03" height="2.2" fill="#f1e153"/><rect y="185.5" width="12.03" height="2.4" fill="#f1dd4e"/><rect y="187.3" width="12.03" height="2.6" fill="#e68e3a"/><rect y="189.3" width="12.03" height="2.3" fill="#e7903b"/><rect y="191" width="12.03" height="2.2" fill="#e58939"/><rect y="192.6" width="12.03" height="2.1" fill="#eaa43e"/><rect y="194.1" width="12.03" height="2.7" fill="#ebb03f"/><rect y="196.2" width="12.03" height="2.6" fill="#ebaf3f"/><rect y="198.2" width="12.03" height="1.9" fill="#e68c3a"/><rect y="199.5" width="12.03" height="2.3" fill="#e7903b"/><rect y="201.2" width="12.03" height="2.4" fill="#e7933b"/><rect y="203.1" width="12.03" height="2.1" fill="#e89a3c"/><rect y="204.6" width="12.03" height="2.5" fill="#e7943b"/><rect y="206.5" width="12.03" height="2.9" fill="#e58a39"/><rect y="208.7" width="12.03" height="2.6" fill="#e8983c"/><rect y="210.7" width="12.03" height="2.6" fill="#e8983c"/><rect y="212.8" width="12.03" height="1.6" fill="#e7933b"/><rect y="213.8" width="12.03" height="2.6" fill="#e7903b"/><rect y="215.8" width="12.03" height="2.9" fill="#e7913b"/><rect y="218.1" width="12.03" height="2.5" fill="#e7933b"/><rect y="220" width="12.03" height="1.9" fill="#e38037"/><rect y="221.3" width="12.03" height="2.1" fill="#e37f37"/><rect y="222.8" width="12.03" height="2.2" fill="#e38237"/><rect y="224.4" width="12.03" height="1.8" fill="#e37f37"/><rect y="225.6" width="12.03" height="1.9" fill="#e48338"/><rect y="227" width="12.03" height="2.7" fill="#e37e37"/><rect y="229.1" width="12.03" height="2.5" fill="#de6a32"/><rect y="231" width="12.03" height="2.1" fill="#e8973c"/><rect y="232.5" width="12.03" height="2.5" fill="#e8993c"/><rect y="234.5" width="12.03" height="1.7" fill="#e58a39"/><rect y="235.6" width="12.03" height="1.8" fill="#e68b3a"/><rect y="236.7" width="12.03" height="2.7" fill="#e68b3a"/><rect y="238.9" width="12.03" height="1.7" fill="#e58839"/><rect y="240" width="12.03" height="2.5" fill="#e48538"/><rect y="241.9" width="12.03" height="2" fill="#e7903b"/><rect y="243.3" width="12.03" height="2.1" fill="#e58839"/><rect y="244.8" width="12.03" height="2.4" fill="#e68a3a"/><rect y="246.6" width="12.03" height="1.7" fill="#e68e3a"/><rect y="247.7" width="12.03" height="2.2" fill="#e68f3a"/><rect y="249.4" width="12.03" height="2.9" fill="#e7903b"/><rect y="251.7" width="12.03" height="2.4" fill="#e48438"/><rect y="253.5" width="12.03" height="2.2" fill="#e58939"/><rect y="255.1" width="12.03" height="2" fill="#e37f37"/><rect y="256.5" width="12.03" height="2.1" fill="#e58639"/><rect y="258" width="12.03" height="1.7" fill="#e48538"/><rect y="259.2" width="12.03" height="2.9" fill="#e7923b"/><rect y="261.5" width="12.03" height="2.9" fill="#e7953b"/><rect y="263.8" width="12.03" height="2.5" fill="#f0d848"/><rect y="265.7" width="12.03" height="2.4" fill="#efd145"/><rect y="267.5" width="12.03" height="2.3" fill="#efcc44"/><rect y="269.2" width="12.03" height="1.7" fill="#f2e254"/><rect y="270.3" width="12.03" height="1.8" fill="#f1dc4d"/><rect y="271.5" width="12.03" height="1.8" fill="#e17935"/><rect y="272.7" width="12.03" height="2.3" fill="#e27b36"/><rect y="274.4" width="12.03" height="1.9" fill="#e37e37"/><rect y="275.6" width="12.03" height="1.7" fill="#e27c36"/><rect y="276.8" width="12.03" height="2.1" fill="#e58639"/><rect y="278.3" width="12.03" height="1.9" fill="#e68f3a"/><rect y="279.5" width="12.03" height="2.4" fill="#e7923b"/><rect y="281.3" width="12.03" height="1.8" fill="#e48238"/><rect y="282.6" width="12.03" height="1.9" fill="#e27d36"/></g>
<g transform="translate(129.35 0)"><rect y="102.3" width="12.03" height="2.2" fill="#e27d36"/><rect y="103.9" width="12.03" height="2.9" fill="#e27d36"/><rect y="106.2" width="12.03" height="2.4" fill="#e58639"/><rect y="108" width="12.03" height="2.5" fill="#f3eb5e"/><rect y="109.9" width="12.03" height="2.8" fill="#f2e95c"/><rect y="112.1" width="12.03" height="2.6" fill="#f3eb5e"/><rect y="114.1" width="12.03" height="2.7" fill="#e8983c"/><rect y="116.2" width="12.03" height="2.4" fill="#e7953b"/><rect y="117.9" width="12.03" height="2.7" fill="#e68e3a"/><rect y="120" width="12.03" height="1.8" fill="#e7923b"/><rect y="121.2" width="12.03" height="3" fill="#e68b3a"/><rect y="123.6" width="12.03" height="1.7" fill="#f1dd4e"/><rect y="124.6" width="12.03" height="1.7" fill="#f2e355"/><rect y="125.8" width="12.03" height="1.9" fill="#e27c36"/><rect y="127" width="12.03" height="1.7" fill="#e27b36"/><rect y="128.2" width="12.03" height="2.7" fill="#e27c36"/><rect y="130.3" width="12.03" height="2.2" fill="#ebae3f"/><rect y="131.9" width="12.03" height="2.1" fill="#eaaa3e"/><rect y="133.4" width="12.03" height="2.6" fill="#ebb03f"/><rect y="135.4" width="12.03" height="2.5" fill="#e7933b"/><rect y="137.3" width="12.03" height="2.9" fill="#e68e3a"/><rect y="139.5" width="12.03" height="1.7" fill="#e68b3a"/><rect y="140.6" width="12.03" height="1.9" fill="#e7913b"/><rect y="142" width="12.03" height="1.9" fill="#e68e3a"/><rect y="143.2" width="12.03" height="2.4" fill="#e7943b"/><rect y="145" width="12.03" height="1.6" fill="#e7903b"/><rect y="146" width="12.03" height="1.9" fill="#e17935"/><rect y="147.4" width="12.03" height="2.1" fill="#e17835"/><rect y="148.9" width="12.03" height="2.5" fill="#e99d3d"/><rect y="150.8" width="12.03" height="2.2" fill="#e17935"/><rect y="152.4" width="12.03" height="2.3" fill="#e27b36"/><rect y="154.1" width="12.03" height="2.2" fill="#e8973c"/><rect y="155.7" width="12.03" height="1.9" fill="#e58739"/><rect y="156.9" width="12.03" height="1.9" fill="#e68f3a"/><rect y="158.3" width="12.03" height="2.3" fill="#e68e3a"/><rect y="160" width="12.03" height="2.7" fill="#e07434"/><rect y="162.1" width="12.03" height="2" fill="#e07334"/><rect y="163.5" width="12.03" height="2.6" fill="#e17935"/><rect y="165.5" width="12.03" height="3" fill="#e37e37"/><rect y="167.9" width="12.03" height="2.3" fill="#e27c36"/><rect y="169.6" width="12.03" height="2.8" fill="#e27b36"/><rect y="171.8" width="12.03" height="2.5" fill="#e27b36"/><rect y="173.7" width="12.03" height="1.8" fill="#e17835"/><rect y="174.8" width="12.03" height="2.1" fill="#e07534"/><rect y="176.3" width="12.03" height="1.7" fill="#e37f37"/><rect y="177.4" width="12.03" height="2.4" fill="#e27b36"/><rect y="179.2" width="12.03" height="2.1" fill="#e27d36"/><rect y="180.6" width="12.03" height="2.7" fill="#e27b36"/><rect y="182.7" width="12.03" height="1.7" fill="#e07634"/><rect y="183.9" width="12.03" height="2.2" fill="#e37e37"/><rect y="185.5" width="12.03" height="2.4" fill="#e17a35"/><rect y="187.3" width="12.03" height="2.6" fill="#e27d36"/><rect y="189.3" width="12.03" height="2.3" fill="#e37f37"/><rect y="191" width="12.03" height="2.2" fill="#e38237"/><rect y="192.6" width="12.03" height="2.1" fill="#e27d36"/><rect y="194.1" width="12.03" height="2.7" fill="#eaa73e"/><rect y="196.2" width="12.03" height="2.6" fill="#f1dd4f"/><rect y="198.2" width="12.03" height="1.9" fill="#e27e36"/><rect y="199.5" width="12.03" height="2.3" fill="#e07434"/><rect y="201.2" width="12.03" height="2.4" fill="#e27a36"/><rect y="203.1" width="12.03" height="2.1" fill="#e17735"/><rect y="204.6" width="12.03" height="2.5" fill="#e58739"/><rect y="206.5" width="12.03" height="2.9" fill="#e58739"/><rect y="208.7" width="12.03" height="2.6" fill="#efd145"/><rect y="210.7" width="12.03" height="2.6" fill="#f0d646"/><rect y="212.8" width="12.03" height="1.6" fill="#f0d446"/><rect y="213.8" width="12.03" height="2.6" fill="#e7913b"/><rect y="215.8" width="12.03" height="2.9" fill="#eaa43e"/><rect y="218.1" width="12.03" height="2.5" fill="#efcf45"/><rect y="220" width="12.03" height="1.9" fill="#ebab3f"/><rect y="221.3" width="12.03" height="2.1" fill="#ecb540"/><rect y="222.8" width="12.03" height="2.2" fill="#eaa63e"/><rect y="224.4" width="12.03" height="1.8" fill="#e9a33d"/><rect y="225.6" width="12.03" height="1.9" fill="#e9a13d"/><rect y="227" width="12.03" height="2.7" fill="#e89c3c"/><rect y="229.1" width="12.03" height="2.5" fill="#e9a13d"/><rect y="231" width="12.03" height="2.1" fill="#eaa93e"/><rect y="232.5" width="12.03" height="2.5" fill="#e9a13d"/><rect y="234.5" width="12.03" height="1.7" fill="#e9a23d"/><rect y="235.6" width="12.03" height="1.8" fill="#eaa73e"/><rect y="236.7" width="12.03" height="2.7" fill="#e58639"/><rect y="238.9" width="12.03" height="1.7" fill="#e7953b"/><rect y="240" width="12.03" height="2.5" fill="#e8963c"/><rect y="241.9" width="12.03" height="2" fill="#e68c3a"/><rect y="243.3" width="12.03" height="2.1" fill="#e78f3b"/><rect y="244.8" width="12.03" height="2.4" fill="#e7913b"/><rect y="246.6" width="12.03" height="1.7" fill="#e68d3a"/><rect y="247.7" width="12.03" height="2.2" fill="#e68c3a"/><rect y="249.4" width="12.03" height="2.9" fill="#e68b3a"/><rect y="251.7" width="12.03" height="2.4" fill="#e78f3b"/><rect y="253.5" width="12.03" height="2.2" fill="#f1e153"/><rect y="255.1" width="12.03" height="2" fill="#e07334"/><rect y="256.5" width="12.03" height="2.1" fill="#eaa53e"/><rect y="258" width="12.03" height="1.7" fill="#e99d3d"/><rect y="259.2" width="12.03" height="2.9" fill="#eaa63e"/><rect y="261.5" width="12.03" height="2.9" fill="#ecb240"/><rect y="263.8" width="12.03" height="2.5" fill="#f0d949"/><rect y="265.7" width="12.03" height="2.4" fill="#efd045"/><rect y="267.5" width="12.03" height="2.3" fill="#efcc44"/><rect y="269.2" width="12.03" height="1.7" fill="#efca44"/><rect y="270.3" width="12.03" height="1.8" fill="#efd045"/><rect y="271.5" width="12.03" height="1.8" fill="#e27d36"/><rect y="272.7" width="12.03" height="2.3" fill="#db6230"/><rect y="274.4" width="12.03" height="1.9" fill="#e58739"/><rect y="275.6" width="12.03" height="1.7" fill="#e38137"/><rect y="276.8" width="12.03" height="2.1" fill="#e48338"/><rect y="278.3" width="12.03" height="1.9" fill="#e17a35"/><rect y="279.5" width="12.03" height="2.4" fill="#e17a35"/><rect y="281.3" width="12.03" height="1.8" fill="#e17735"/><rect y="282.6" width="12.03" height="1.9" fill="#e07534"/></g>
<g transform="translate(140.78 0)"><rect y="102.3" width="12.03" height="2.2" fill="#e38137"/><rect y="103.9" width="12.03" height="2.9" fill="#e48238"/><rect y="106.2" width="12.03" height="2.4" fill="#e27e36"/><rect y="108" width="12.03" height="2.5" fill="#e17835"/><rect y="109.9" width="12.03" height="2.8" fill="#e58a39"/><rect y="112.1" width="12.03" height="2.6" fill="#e58a39"/><rect y="114.1" width="12.03" height="2.7" fill="#e37f37"/><rect y="116.2" width="12.03" height="2.4" fill="#e48338"/><rect y="117.9" width="12.03" height="2.7" fill="#e38137"/><rect y="120" width="12.03" height="1.8" fill="#e17735"/><rect y="121.2" width="12.03" height="3" fill="#e27c36"/><rect y="123.6" width="12.03" height="1.7" fill="#e48638"/><rect y="124.6" width="12.03" height="1.7" fill="#e58839"/><rect y="125.8" width="12.03" height="1.9" fill="#e58639"/><rect y="127" width="12.03" height="1.7" fill="#e8963c"/><rect y="128.2" width="12.03" height="2.7" fill="#e37f37"/><rect y="130.3" width="12.03" height="2.2" fill="#e58639"/><rect y="131.9" width="12.03" height="2.1" fill="#e68e3a"/><rect y="133.4" width="12.03" height="2.6" fill="#e68b3a"/><rect y="135.4" width="12.03" height="2.5" fill="#e38237"/><rect y="137.3" width="12.03" height="2.9" fill="#e68c3a"/><rect y="139.5" width="12.03" height="1.7" fill="#e7903b"/><rect y="140.6" width="12.03" height="1.9" fill="#e68c3a"/><rect y="142" width="12.03" height="1.9" fill="#e89b3c"/><rect y="143.2" width="12.03" height="2.4" fill="#e7943b"/><rect y="145" width="12.03" height="1.6" fill="#e89b3c"/><rect y="146" width="12.03" height="1.9" fill="#e99f3d"/><rect y="147.4" width="12.03" height="2.1" fill="#e89c3c"/><rect y="148.9" width="12.03" height="2.5" fill="#e7953b"/><rect y="150.8" width="12.03" height="2.2" fill="#e8983c"/><rect y="152.4" width="12.03" height="2.3" fill="#e8963c"/><rect y="154.1" width="12.03" height="2.2" fill="#e38237"/><rect y="155.7" width="12.03" height="1.9" fill="#e37f37"/><rect y="156.9" width="12.03" height="1.9" fill="#e27a36"/><rect y="158.3" width="12.03" height="2.3" fill="#e27e36"/><rect y="160" width="12.03" height="2.7" fill="#df6e33"/><rect y="162.1" width="12.03" height="2" fill="#e17635"/><rect y="163.5" width="12.03" height="2.6" fill="#e07534"/><rect y="165.5" width="12.03" height="3" fill="#e07334"/><rect y="167.9" width="12.03" height="2.3" fill="#edba41"/><rect y="169.6" width="12.03" height="2.8" fill="#eaa93e"/><rect y="171.8" width="12.03" height="2.5" fill="#ebb03f"/><rect y="173.7" width="12.03" height="1.8" fill="#e8973c"/><rect y="174.8" width="12.03" height="2.1" fill="#ecb240"/><rect y="176.3" width="12.03" height="1.7" fill="#e8973c"/><rect y="177.4" width="12.03" height="2.4" fill="#e8973c"/><rect y="179.2" width="12.03" height="2.1" fill="#e8973c"/><rect y="180.6" width="12.03" height="2.7" fill="#e7943b"/><rect y="182.7" width="12.03" height="1.7" fill="#f0d949"/><rect y="183.9" width="12.03" height="2.2" fill="#edbc41"/><rect y="185.5" width="12.03" height="2.4" fill="#edb941"/><rect y="187.3" width="12.03" height="2.6" fill="#ecb640"/><rect y="189.3" width="12.03" height="2.3" fill="#edb841"/><rect y="191" width="12.03" height="2.2" fill="#edbf42"/><rect y="192.6" width="12.03" height="2.1" fill="#e17835"/><rect y="194.1" width="12.03" height="2.7" fill="#e07234"/><rect y="196.2" width="12.03" height="2.6" fill="#e07434"/><rect y="198.2" width="12.03" height="1.9" fill="#eaa43e"/><rect y="199.5" width="12.03" height="2.3" fill="#e9a33d"/><rect y="201.2" width="12.03" height="2.4" fill="#ecb540"/><rect y="203.1" width="12.03" height="2.1" fill="#e37f37"/><rect y="204.6" width="12.03" height="2.5" fill="#e38237"/><rect y="206.5" width="12.03" height="2.9" fill="#e38037"/><rect y="208.7" width="12.03" height="2.6" fill="#e8973c"/><rect y="210.7" width="12.03" height="2.6" fill="#e99d3d"/><rect y="212.8" width="12.03" height="1.6" fill="#e9a23d"/><rect y="213.8" width="12.03" height="2.6" fill="#e89b3c"/><rect y="215.8" width="12.03" height="2.9" fill="#e58839"/><rect y="218.1" width="12.03" height="2.5" fill="#e38237"/><rect y="220" width="12.03" height="1.9" fill="#e8973c"/><rect y="221.3" width="12.03" height="2.1" fill="#e9a03d"/><rect y="222.8" width="12.03" height="2.2" fill="#e7933b"/><rect y="224.4" width="12.03" height="1.8" fill="#e9a03d"/><rect y="225.6" width="12.03" height="1.9" fill="#e8993c"/><rect y="227" width="12.03" height="2.7" fill="#e8963c"/><rect y="229.1" width="12.03" height="2.5" fill="#e8983c"/><rect y="231" width="12.03" height="2.1" fill="#e7913b"/><rect y="232.5" width="12.03" height="2.5" fill="#ecb640"/><rect y="234.5" width="12.03" height="1.7" fill="#edbd42"/><rect y="235.6" width="12.03" height="1.8" fill="#e58a39"/><rect y="236.7" width="12.03" height="2.7" fill="#eaa63e"/><rect y="238.9" width="12.03" height="1.7" fill="#e89d3c"/><rect y="240" width="12.03" height="2.5" fill="#e99d3d"/><rect y="241.9" width="12.03" height="2" fill="#e89a3c"/><rect y="243.3" width="12.03" height="2.1" fill="#e89a3c"/><rect y="244.8" width="12.03" height="2.4" fill="#eaa53e"/><rect y="246.6" width="12.03" height="1.7" fill="#ebaa3f"/><rect y="247.7" width="12.03" height="2.2" fill="#ebac3f"/><rect y="249.4" width="12.03" height="2.9" fill="#ebad3f"/><rect y="251.7" width="12.03" height="2.4" fill="#ebab3f"/><rect y="253.5" width="12.03" height="2.2" fill="#ebab3f"/><rect y="255.1" width="12.03" height="2" fill="#ebac3f"/><rect y="256.5" width="12.03" height="2.1" fill="#ebac3f"/><rect y="258" width="12.03" height="1.7" fill="#f0d949"/><rect y="259.2" width="12.03" height="2.9" fill="#f1df51"/><rect y="261.5" width="12.03" height="2.9" fill="#e99d3d"/><rect y="263.8" width="12.03" height="2.5" fill="#f0d546"/><rect y="265.7" width="12.03" height="2.4" fill="#efd145"/><rect y="267.5" width="12.03" height="2.3" fill="#eec343"/><rect y="269.2" width="12.03" height="1.7" fill="#eec743"/><rect y="270.3" width="12.03" height="1.8" fill="#efca44"/><rect y="271.5" width="12.03" height="1.8" fill="#e99f3d"/><rect y="272.7" width="12.03" height="2.3" fill="#e7953b"/><rect y="274.4" width="12.03" height="1.9" fill="#e99d3d"/><rect y="275.6" width="12.03" height="1.7" fill="#e99e3d"/><rect y="276.8" width="12.03" height="2.1" fill="#e9a03d"/><rect y="278.3" width="12.03" height="1.9" fill="#e9a23d"/><rect y="279.5" width="12.03" height="2.4" fill="#eaa43e"/><rect y="281.3" width="12.03" height="1.8" fill="#e89c3c"/><rect y="282.6" width="12.03" height="1.9" fill="#e8993c"/></g>
<g transform="translate(152.21 0)"><rect y="102.3" width="12.03" height="2.2" fill="#e48438"/><rect y="103.9" width="12.03" height="2.9" fill="#eaa83e"/><rect y="106.2" width="12.03" height="2.4" fill="#e78f3b"/><rect y="108" width="12.03" height="2.5" fill="#e7913b"/><rect y="109.9" width="12.03" height="2.8" fill="#e8963c"/><rect y="112.1" width="12.03" height="2.6" fill="#e9a23d"/><rect y="114.1" width="12.03" height="2.7" fill="#e9a03d"/><rect y="116.2" width="12.03" height="2.4" fill="#e89c3c"/><rect y="117.9" width="12.03" height="2.7" fill="#eaa43e"/><rect y="120" width="12.03" height="1.8" fill="#e48438"/><rect y="121.2" width="12.03" height="3" fill="#e38237"/><rect y="123.6" width="12.03" height="1.7" fill="#e48638"/><rect y="124.6" width="12.03" height="1.7" fill="#ecb540"/><rect y="125.8" width="12.03" height="1.9" fill="#e17735"/><rect y="127" width="12.03" height="1.7" fill="#e27c36"/><rect y="128.2" width="12.03" height="2.7" fill="#e27b36"/><rect y="130.3" width="12.03" height="2.2" fill="#e7953b"/><rect y="131.9" width="12.03" height="2.1" fill="#e58939"/><rect y="133.4" width="12.03" height="2.6" fill="#e27d36"/><rect y="135.4" width="12.03" height="2.5" fill="#e17835"/><rect y="137.3" width="12.03" height="2.9" fill="#e27b36"/><rect y="139.5" width="12.03" height="1.7" fill="#e17735"/><rect y="140.6" width="12.03" height="1.9" fill="#efcb44"/><rect y="142" width="12.03" height="1.9" fill="#e68f3a"/><rect y="143.2" width="12.03" height="2.4" fill="#e7923b"/><rect y="145" width="12.03" height="1.6" fill="#ecb640"/><rect y="146" width="12.03" height="1.9" fill="#de6c32"/><rect y="147.4" width="12.03" height="2.1" fill="#e07334"/><rect y="148.9" width="12.03" height="2.5" fill="#e7913b"/><rect y="150.8" width="12.03" height="2.2" fill="#e68d3a"/><rect y="152.4" width="12.03" height="2.3" fill="#eaa73e"/><rect y="154.1" width="12.03" height="2.2" fill="#eaa43e"/><rect y="155.7" width="12.03" height="1.9" fill="#e48338"/><rect y="156.9" width="12.03" height="1.9" fill="#e8983c"/><rect y="158.3" width="12.03" height="2.3" fill="#e89a3c"/><rect y="160" width="12.03" height="2.7" fill="#e07434"/><rect y="162.1" width="12.03" height="2" fill="#df6f33"/><rect y="163.5" width="12.03" height="2.6" fill="#e07234"/><rect y="165.5" width="12.03" height="3" fill="#e68e3a"/><rect y="167.9" width="12.03" height="2.3" fill="#e8963c"/><rect y="169.6" width="12.03" height="2.8" fill="#dd6831"/><rect y="171.8" width="12.03" height="2.5" fill="#df6f33"/><rect y="173.7" width="12.03" height="1.8" fill="#de6b32"/><rect y="174.8" width="12.03" height="2.1" fill="#de6d32"/><rect y="176.3" width="12.03" height="1.7" fill="#e58639"/><rect y="177.4" width="12.03" height="2.4" fill="#e58839"/><rect y="179.2" width="12.03" height="2.1" fill="#e58639"/><rect y="180.6" width="12.03" height="2.7" fill="#e48538"/><rect y="182.7" width="12.03" height="1.7" fill="#e58839"/><rect y="183.9" width="12.03" height="2.2" fill="#e37f37"/><rect y="185.5" width="12.03" height="2.4" fill="#e48438"/><rect y="187.3" width="12.03" height="2.6" fill="#dd6731"/><rect y="189.3" width="12.03" height="2.3" fill="#db612f"/><rect y="191" width="12.03" height="2.2" fill="#f0d747"/><rect y="192.6" width="12.03" height="2.1" fill="#f0d345"/><rect y="194.1" width="12.03" height="2.7" fill="#f0d245"/><rect y="196.2" width="12.03" height="2.6" fill="#f1da4b"/><rect y="198.2" width="12.03" height="1.9" fill="#de6d32"/><rect y="199.5" width="12.03" height="2.3" fill="#df7033"/><rect y="201.2" width="12.03" height="2.4" fill="#de6e32"/><rect y="203.1" width="12.03" height="2.1" fill="#df6e33"/><rect y="204.6" width="12.03" height="2.5" fill="#e68a3a"/><rect y="206.5" width="12.03" height="2.9" fill="#e68a3a"/><rect y="208.7" width="12.03" height="2.6" fill="#e58839"/><rect y="210.7" width="12.03" height="2.6" fill="#e68c3a"/><rect y="212.8" width="12.03" height="1.6" fill="#f0d646"/><rect y="213.8" width="12.03" height="2.6" fill="#f0d346"/><rect y="215.8" width="12.03" height="2.9" fill="#f1db4c"/><rect y="218.1" width="12.03" height="2.5" fill="#f0d646"/><rect y="220" width="12.03" height="1.9" fill="#e68b3a"/><rect y="221.3" width="12.03" height="2.1" fill="#df6f33"/><rect y="222.8" width="12.03" height="2.2" fill="#df7233"/><rect y="224.4" width="12.03" height="1.8" fill="#df7033"/><rect y="225.6" width="12.03" height="1.9" fill="#de6c32"/><rect y="227" width="12.03" height="2.7" fill="#df6e33"/><rect y="229.1" width="12.03" height="2.5" fill="#df7233"/><rect y="231" width="12.03" height="2.1" fill="#dd6a31"/><rect y="232.5" width="12.03" height="2.5" fill="#e07234"/><rect y="234.5" width="12.03" height="1.7" fill="#df7233"/><rect y="235.6" width="12.03" height="1.8" fill="#de6e32"/><rect y="236.7" width="12.03" height="2.7" fill="#dd6731"/><rect y="238.9" width="12.03" height="1.7" fill="#df7133"/><rect y="240" width="12.03" height="2.5" fill="#df7033"/><rect y="241.9" width="12.03" height="2" fill="#de6b32"/><rect y="243.3" width="12.03" height="2.1" fill="#dc6530"/><rect y="244.8" width="12.03" height="2.4" fill="#e27e36"/><rect y="246.6" width="12.03" height="1.7" fill="#e58739"/><rect y="247.7" width="12.03" height="2.2" fill="#e48438"/><rect y="249.4" width="12.03" height="2.9" fill="#df6f33"/><rect y="251.7" width="12.03" height="2.4" fill="#dd6a31"/><rect y="253.5" width="12.03" height="2.2" fill="#df7133"/><rect y="255.1" width="12.03" height="2" fill="#f0d646"/><rect y="256.5" width="12.03" height="2.1" fill="#f0d546"/><rect y="258" width="12.03" height="1.7" fill="#e48438"/><rect y="259.2" width="12.03" height="2.9" fill="#e58739"/><rect y="261.5" width="12.03" height="2.9" fill="#e58739"/><rect y="263.8" width="12.03" height="2.5" fill="#efd045"/><rect y="265.7" width="12.03" height="2.4" fill="#eec844"/><rect y="267.5" width="12.03" height="2.3" fill="#efcd44"/><rect y="269.2" width="12.03" height="1.7" fill="#f1db4c"/><rect y="270.3" width="12.03" height="1.8" fill="#f1da4b"/><rect y="271.5" width="12.03" height="1.8" fill="#e27c36"/><rect y="272.7" width="12.03" height="2.3" fill="#e48538"/><rect y="274.4" width="12.03" height="1.9" fill="#de6d32"/><rect y="275.6" width="12.03" height="1.7" fill="#e07234"/><rect y="276.8" width="12.03" height="2.1" fill="#e17635"/><rect y="278.3" width="12.03" height="1.9" fill="#df6f33"/><rect y="279.5" width="12.03" height="2.4" fill="#de6e32"/><rect y="281.3" width="12.03" height="1.8" fill="#e7903b"/><rect y="282.6" width="12.03" height="1.9" fill="#e27c36"/></g>
<g transform="translate(163.64 0)"><rect y="102.3" width="12.03" height="2.2" fill="#f3ed60"/><rect y="103.9" width="12.03" height="2.9" fill="#f3ed61"/><rect y="106.2" width="12.03" height="2.4" fill="#f3ec60"/><rect y="108" width="12.03" height="2.5" fill="#f3ed60"/><rect y="109.9" width="12.03" height="2.8" fill="#f2ea5d"/><rect y="112.1" width="12.03" height="2.6" fill="#f3ee62"/><rect y="114.1" width="12.03" height="2.7" fill="#f3eb5f"/><rect y="116.2" width="12.03" height="2.4" fill="#f3ee62"/><rect y="117.9" width="12.03" height="2.7" fill="#f3eb5e"/><rect y="120" width="12.03" height="1.8" fill="#f3ec60"/><rect y="121.2" width="12.03" height="3" fill="#f3ed61"/><rect y="123.6" width="12.03" height="1.7" fill="#f3ee62"/><rect y="124.6" width="12.03" height="1.7" fill="#f3eb5e"/><rect y="125.8" width="12.03" height="1.9" fill="#f2e85b"/><rect y="127" width="12.03" height="1.7" fill="#f2e75a"/><rect y="128.2" width="12.03" height="2.7" fill="#f3eb5e"/><rect y="130.3" width="12.03" height="2.2" fill="#f2e75a"/><rect y="131.9" width="12.03" height="2.1" fill="#f3eb5e"/><rect y="133.4" width="12.03" height="2.6" fill="#f3ee62"/><rect y="135.4" width="12.03" height="2.5" fill="#f3eb5e"/><rect y="137.3" width="12.03" height="2.9" fill="#f3ee62"/><rect y="139.5" width="12.03" height="1.7" fill="#f3ee62"/><rect y="140.6" width="12.03" height="1.9" fill="#f3ec5f"/><rect y="142" width="12.03" height="1.9" fill="#f3ee62"/><rect y="143.2" width="12.03" height="2.4" fill="#f3ec60"/><rect y="145" width="12.03" height="1.6" fill="#f3ee62"/><rect y="146" width="12.03" height="1.9" fill="#f3ee62"/><rect y="147.4" width="12.03" height="2.1" fill="#f3ed61"/><rect y="148.9" width="12.03" height="2.5" fill="#f3ee62"/><rect y="150.8" width="12.03" height="2.2" fill="#f3ee62"/><rect y="152.4" width="12.03" height="2.3" fill="#f3ee62"/><rect y="154.1" width="12.03" height="2.2" fill="#f3ee62"/><rect y="155.7" width="12.03" height="1.9" fill="#f3eb5e"/><rect y="156.9" width="12.03" height="1.9" fill="#f3ee62"/><rect y="158.3" width="12.03" height="2.3" fill="#f3ec60"/><rect y="160" width="12.03" height="2.7" fill="#f3ee62"/><rect y="162.1" width="12.03" height="2" fill="#f3ee62"/><rect y="163.5" width="12.03" height="2.6" fill="#f3eb5e"/><rect y="165.5" width="12.03" height="3" fill="#f3ed61"/><rect y="167.9" width="12.03" height="2.3" fill="#f2e95c"/><rect y="169.6" width="12.03" height="2.8" fill="#f3eb5f"/><rect y="171.8" width="12.03" height="2.5" fill="#f3ee62"/><rect y="173.7" width="12.03" height="1.8" fill="#f2e85b"/><rect y="174.8" width="12.03" height="2.1" fill="#f2e75a"/><rect y="176.3" width="12.03" height="1.7" fill="#f2ea5d"/><rect y="177.4" width="12.03" height="2.4" fill="#f3eb5f"/><rect y="179.2" width="12.03" height="2.1" fill="#f3ee62"/><rect y="180.6" width="12.03" height="2.7" fill="#f2e356"/><rect y="182.7" width="12.03" height="1.7" fill="#f3ec5f"/><rect y="183.9" width="12.03" height="2.2" fill="#f3ec5f"/><rect y="185.5" width="12.03" height="2.4" fill="#f3ee62"/><rect y="187.3" width="12.03" height="2.6" fill="#f3ee62"/><rect y="189.3" width="12.03" height="2.3" fill="#f3ee62"/><rect y="191" width="12.03" height="2.2" fill="#f3ee62"/><rect y="192.6" width="12.03" height="2.1" fill="#f2ea5d"/><rect y="194.1" width="12.03" height="2.7" fill="#f3eb5f"/><rect y="196.2" width="12.03" height="2.6" fill="#f3ea5e"/><rect y="198.2" width="12.03" height="1.9" fill="#f3ee62"/><rect y="199.5" width="12.03" height="2.3" fill="#f3ee62"/><rect y="201.2" width="12.03" height="2.4" fill="#f3ee62"/><rect y="203.1" width="12.03" height="2.1" fill="#f3eb5f"/><rect y="204.6" width="12.03" height="2.5" fill="#f2e85b"/><rect y="206.5" width="12.03" height="2.9" fill="#f3ec60"/><rect y="208.7" width="12.03" height="2.6" fill="#f3ee62"/><rect y="210.7" width="12.03" height="2.6" fill="#f2e659"/><rect y="212.8" width="12.03" height="1.6" fill="#f3ed60"/><rect y="213.8" width="12.03" height="2.6" fill="#f2e85c"/><rect y="215.8" width="12.03" height="2.9" fill="#f3ea5e"/><rect y="218.1" width="12.03" height="2.5" fill="#f2e85b"/><rect y="220" width="12.03" height="1.9" fill="#f2e658"/><rect y="221.3" width="12.03" height="2.1" fill="#f2e85b"/><rect y="222.8" width="12.03" height="2.2" fill="#f3ee62"/><rect y="224.4" width="12.03" height="1.8" fill="#f3ea5d"/><rect y="225.6" width="12.03" height="1.9" fill="#f2e659"/><rect y="227" width="12.03" height="2.7" fill="#f2e85b"/><rect y="229.1" width="12.03" height="2.5" fill="#f2e95c"/><rect y="231" width="12.03" height="2.1" fill="#f3ee62"/><rect y="232.5" width="12.03" height="2.5" fill="#f3ee62"/><rect y="234.5" width="12.03" height="1.7" fill="#f3ee62"/><rect y="235.6" width="12.03" height="1.8" fill="#f2e75a"/><rect y="236.7" width="12.03" height="2.7" fill="#f3ed60"/><rect y="238.9" width="12.03" height="1.7" fill="#f3ee62"/><rect y="240" width="12.03" height="2.5" fill="#f3ee62"/><rect y="241.9" width="12.03" height="2" fill="#f3ee62"/><rect y="243.3" width="12.03" height="2.1" fill="#f3ee62"/><rect y="244.8" width="12.03" height="2.4" fill="#f3ee62"/><rect y="246.6" width="12.03" height="1.7" fill="#f3ec60"/><rect y="247.7" width="12.03" height="2.2" fill="#f3eb5f"/><rect y="249.4" width="12.03" height="2.9" fill="#f2e85b"/><rect y="251.7" width="12.03" height="2.4" fill="#f3ee62"/><rect y="253.5" width="12.03" height="2.2" fill="#f3eb5f"/><rect y="255.1" width="12.03" height="2" fill="#f2e558"/><rect y="256.5" width="12.03" height="2.1" fill="#f2e75a"/><rect y="258" width="12.03" height="1.7" fill="#f3ee62"/><rect y="259.2" width="12.03" height="2.9" fill="#f2e85b"/><rect y="261.5" width="12.03" height="2.9" fill="#f2e659"/><rect y="263.8" width="12.03" height="2.5" fill="#e58739"/><rect y="265.7" width="12.03" height="2.4" fill="#e48438"/><rect y="267.5" width="12.03" height="2.3" fill="#e58739"/><rect y="269.2" width="12.03" height="1.7" fill="#e58739"/><rect y="270.3" width="12.03" height="1.8" fill="#e48338"/><rect y="271.5" width="12.03" height="1.8" fill="#f1da4b"/><rect y="272.7" width="12.03" height="2.3" fill="#f1db4c"/><rect y="274.4" width="12.03" height="1.9" fill="#f0d646"/><rect y="275.6" width="12.03" height="1.7" fill="#f1e051"/><rect y="276.8" width="12.03" height="2.1" fill="#f0d848"/><rect y="278.3" width="12.03" height="1.9" fill="#f1df50"/><rect y="279.5" width="12.03" height="2.4" fill="#f1dd4e"/><rect y="281.3" width="12.03" height="1.8" fill="#f1da4b"/><rect y="282.6" width="12.03" height="1.9" fill="#f0d94a"/></g>
<g transform="translate(175.07 0)"><rect y="102.3" width="12.03" height="2.2" fill="#f2e456"/><rect y="103.9" width="12.03" height="2.9" fill="#f2e659"/><rect y="106.2" width="12.03" height="2.4" fill="#f3ed60"/><rect y="108" width="12.03" height="2.5" fill="#f2e75a"/><rect y="109.9" width="12.03" height="2.8" fill="#f3ec60"/><rect y="112.1" width="12.03" height="2.6" fill="#f2e759"/><rect y="114.1" width="12.03" height="2.7" fill="#f3ee62"/><rect y="116.2" width="12.03" height="2.4" fill="#f3ea5e"/><rect y="117.9" width="12.03" height="2.7" fill="#f3ed61"/><rect y="120" width="12.03" height="1.8" fill="#f2e456"/><rect y="121.2" width="12.03" height="3" fill="#f3ea5e"/><rect y="123.6" width="12.03" height="1.7" fill="#f2e75a"/><rect y="124.6" width="12.03" height="1.7" fill="#f2e658"/><rect y="125.8" width="12.03" height="1.9" fill="#f3ee62"/><rect y="127" width="12.03" height="1.7" fill="#f3ec5f"/><rect y="128.2" width="12.03" height="2.7" fill="#f2e75a"/><rect y="130.3" width="12.03" height="2.2" fill="#f3eb5e"/><rect y="131.9" width="12.03" height="2.1" fill="#f3ed61"/><rect y="133.4" width="12.03" height="2.6" fill="#f3eb5e"/><rect y="135.4" width="12.03" height="2.5" fill="#f3ec60"/><rect y="137.3" width="12.03" height="2.9" fill="#f3ee62"/><rect y="139.5" width="12.03" height="1.7" fill="#f3ed61"/><rect y="140.6" width="12.03" height="1.9" fill="#f3ed61"/><rect y="142" width="12.03" height="1.9" fill="#f3ee62"/><rect y="143.2" width="12.03" height="2.4" fill="#f3eb5f"/><rect y="145" width="12.03" height="1.6" fill="#f2e85b"/><rect y="146" width="12.03" height="1.9" fill="#f3ed61"/><rect y="147.4" width="12.03" height="2.1" fill="#f3ea5d"/><rect y="148.9" width="12.03" height="2.5" fill="#f3eb5e"/><rect y="150.8" width="12.03" height="2.2" fill="#f2e95c"/><rect y="152.4" width="12.03" height="2.3" fill="#f2e95c"/><rect y="154.1" width="12.03" height="2.2" fill="#f2e85b"/><rect y="155.7" width="12.03" height="1.9" fill="#f3ee62"/><rect y="156.9" width="12.03" height="1.9" fill="#f3ee62"/><rect y="158.3" width="12.03" height="2.3" fill="#f3ea5e"/><rect y="160" width="12.03" height="2.7" fill="#f3ed61"/><rect y="162.1" width="12.03" height="2" fill="#f3eb5f"/><rect y="163.5" width="12.03" height="2.6" fill="#f2e659"/><rect y="165.5" width="12.03" height="3" fill="#f2e95c"/><rect y="167.9" width="12.03" height="2.3" fill="#f3ee62"/><rect y="169.6" width="12.03" height="2.8" fill="#f3ee62"/><rect y="171.8" width="12.03" height="2.5" fill="#f3ee62"/><rect y="173.7" width="12.03" height="1.8" fill="#f3ee62"/><rect y="174.8" width="12.03" height="2.1" fill="#f3ed61"/><rect y="176.3" width="12.03" height="1.7" fill="#f3ee62"/><rect y="177.4" width="12.03" height="2.4" fill="#f3ec5f"/><rect y="179.2" width="12.03" height="2.1" fill="#f3ee62"/><rect y="180.6" width="12.03" height="2.7" fill="#f2e457"/><rect y="182.7" width="12.03" height="1.7" fill="#f2e75a"/><rect y="183.9" width="12.03" height="2.2" fill="#f3ee62"/><rect y="185.5" width="12.03" height="2.4" fill="#f3eb5f"/><rect y="187.3" width="12.03" height="2.6" fill="#f3eb5e"/><rect y="189.3" width="12.03" height="2.3" fill="#f3ed61"/><rect y="191" width="12.03" height="2.2" fill="#f3ee62"/><rect y="192.6" width="12.03" height="2.1" fill="#f3ec60"/><rect y="194.1" width="12.03" height="2.7" fill="#f3ed61"/><rect y="196.2" width="12.03" height="2.6" fill="#f3ea5e"/><rect y="198.2" width="12.03" height="1.9" fill="#f3ed60"/><rect y="199.5" width="12.03" height="2.3" fill="#f3ee62"/><rect y="201.2" width="12.03" height="2.4" fill="#f3eb5f"/><rect y="203.1" width="12.03" height="2.1" fill="#f2e85b"/><rect y="204.6" width="12.03" height="2.5" fill="#f3ee62"/><rect y="206.5" width="12.03" height="2.9" fill="#f3ed61"/><rect y="208.7" width="12.03" height="2.6" fill="#f2e659"/><rect y="210.7" width="12.03" height="2.6" fill="#f2e95c"/><rect y="212.8" width="12.03" height="1.6" fill="#f3eb5e"/><rect y="213.8" width="12.03" height="2.6" fill="#f3ee62"/><rect y="215.8" width="12.03" height="2.9" fill="#f3eb5f"/><rect y="218.1" width="12.03" height="2.5" fill="#f2e85b"/><rect y="220" width="12.03" height="1.9" fill="#f2e95c"/><rect y="221.3" width="12.03" height="2.1" fill="#f3ed61"/><rect y="222.8" width="12.03" height="2.2" fill="#f2e558"/><rect y="224.4" width="12.03" height="1.8" fill="#f3ed60"/><rect y="225.6" width="12.03" height="1.9" fill="#f2e95c"/><rect y="227" width="12.03" height="2.7" fill="#f2e75a"/><rect y="229.1" width="12.03" height="2.5" fill="#f3ed61"/><rect y="231" width="12.03" height="2.1" fill="#f2ea5d"/><rect y="232.5" width="12.03" height="2.5" fill="#f2e95c"/><rect y="234.5" width="12.03" height="1.7" fill="#f3ee62"/><rect y="235.6" width="12.03" height="1.8" fill="#f3ec5f"/><rect y="236.7" width="12.03" height="2.7" fill="#f3ed61"/><rect y="238.9" width="12.03" height="1.7" fill="#f3ee62"/><rect y="240" width="12.03" height="2.5" fill="#f2e75a"/><rect y="241.9" width="12.03" height="2" fill="#f2e95c"/><rect y="243.3" width="12.03" height="2.1" fill="#f2ea5d"/><rect y="244.8" width="12.03" height="2.4" fill="#f3ed61"/><rect y="246.6" width="12.03" height="1.7" fill="#f3ee62"/><rect y="247.7" width="12.03" height="2.2" fill="#f3ee62"/><rect y="249.4" width="12.03" height="2.9" fill="#f3ed61"/><rect y="251.7" width="12.03" height="2.4" fill="#f2e85b"/><rect y="253.5" width="12.03" height="2.2" fill="#f3ed61"/><rect y="255.1" width="12.03" height="2" fill="#f3ea5e"/><rect y="256.5" width="12.03" height="2.1" fill="#f2e85b"/><rect y="258" width="12.03" height="1.7" fill="#f2e457"/><rect y="259.2" width="12.03" height="2.9" fill="#f3eb5f"/><rect y="261.5" width="12.03" height="2.9" fill="#f3ee62"/><rect y="263.8" width="12.03" height="2.5" fill="#e27d36"/><rect y="265.7" width="12.03" height="2.4" fill="#e48438"/><rect y="267.5" width="12.03" height="2.3" fill="#e48538"/><rect y="269.2" width="12.03" height="1.7" fill="#e27d36"/><rect y="270.3" width="12.03" height="1.8" fill="#e37f37"/><rect y="271.5" width="12.03" height="1.8" fill="#f1df51"/><rect y="272.7" width="12.03" height="2.3" fill="#f1e051"/><rect y="274.4" width="12.03" height="1.9" fill="#f1db4b"/><rect y="275.6" width="12.03" height="1.7" fill="#f1e153"/><rect y="276.8" width="12.03" height="2.1" fill="#f1e254"/><rect y="278.3" width="12.03" height="1.9" fill="#f2e356"/><rect y="279.5" width="12.03" height="2.4" fill="#f2e95c"/><rect y="281.3" width="12.03" height="1.8" fill="#f0d849"/><rect y="282.6" width="12.03" height="1.9" fill="#f0d848"/></g>
<g transform="translate(186.5 0)"><rect y="102.3" width="12.03" height="2.2" fill="#f2e75a"/><rect y="103.9" width="12.03" height="2.9" fill="#f3ee62"/><rect y="106.2" width="12.03" height="2.4" fill="#f3ee62"/><rect y="108" width="12.03" height="2.5" fill="#f3ee62"/><rect y="109.9" width="12.03" height="2.8" fill="#f3ee62"/><rect y="112.1" width="12.03" height="2.6" fill="#f2e95d"/><rect y="114.1" width="12.03" height="2.7" fill="#f2e85b"/><rect y="116.2" width="12.03" height="2.4" fill="#f2e85a"/><rect y="117.9" width="12.03" height="2.7" fill="#f3ec60"/><rect y="120" width="12.03" height="1.8" fill="#f2ea5d"/><rect y="121.2" width="12.03" height="3" fill="#f3ee62"/><rect y="123.6" width="12.03" height="1.7" fill="#f2e85b"/><rect y="124.6" width="12.03" height="1.7" fill="#f3ed61"/><rect y="125.8" width="12.03" height="1.9" fill="#f3ea5e"/><rect y="127" width="12.03" height="1.7" fill="#f2e95c"/><rect y="128.2" width="12.03" height="2.7" fill="#f2e75a"/><rect y="130.3" width="12.03" height="2.2" fill="#f3ee62"/><rect y="131.9" width="12.03" height="2.1" fill="#f3ee62"/><rect y="133.4" width="12.03" height="2.6" fill="#f3eb5e"/><rect y="135.4" width="12.03" height="2.5" fill="#f2e85b"/><rect y="137.3" width="12.03" height="2.9" fill="#f2e75a"/><rect y="139.5" width="12.03" height="1.7" fill="#f3eb5f"/><rect y="140.6" width="12.03" height="1.9" fill="#f3eb5e"/><rect y="142" width="12.03" height="1.9" fill="#f3ee62"/><rect y="143.2" width="12.03" height="2.4" fill="#f2e95c"/><rect y="145" width="12.03" height="1.6" fill="#f3ec60"/><rect y="146" width="12.03" height="1.9" fill="#f3ee62"/><rect y="147.4" width="12.03" height="2.1" fill="#f2ea5d"/><rect y="148.9" width="12.03" height="2.5" fill="#f3ed61"/><rect y="150.8" width="12.03" height="2.2" fill="#f3ea5e"/><rect y="152.4" width="12.03" height="2.3" fill="#f2e85c"/><rect y="154.1" width="12.03" height="2.2" fill="#f3ec60"/><rect y="155.7" width="12.03" height="1.9" fill="#f3ec60"/><rect y="156.9" width="12.03" height="1.9" fill="#f3ee62"/><rect y="158.3" width="12.03" height="2.3" fill="#f3eb5f"/><rect y="160" width="12.03" height="2.7" fill="#f2e558"/><rect y="162.1" width="12.03" height="2" fill="#f2e95c"/><rect y="163.5" width="12.03" height="2.6" fill="#f2e558"/><rect y="165.5" width="12.03" height="3" fill="#f2e95c"/><rect y="167.9" width="12.03" height="2.3" fill="#f2ea5d"/><rect y="169.6" width="12.03" height="2.8" fill="#f3ec5f"/><rect y="171.8" width="12.03" height="2.5" fill="#f2e457"/><rect y="173.7" width="12.03" height="1.8" fill="#f2e355"/><rect y="174.8" width="12.03" height="2.1" fill="#f3eb5f"/><rect y="176.3" width="12.03" height="1.7" fill="#f3eb5f"/><rect y="177.4" width="12.03" height="2.4" fill="#f3ec60"/><rect y="179.2" width="12.03" height="2.1" fill="#f3ed61"/><rect y="180.6" width="12.03" height="2.7" fill="#f2e95c"/><rect y="182.7" width="12.03" height="1.7" fill="#f3ec60"/><rect y="183.9" width="12.03" height="2.2" fill="#f2ea5d"/><rect y="185.5" width="12.03" height="2.4" fill="#f3ee62"/><rect y="187.3" width="12.03" height="2.6" fill="#f3ee62"/><rect y="189.3" width="12.03" height="2.3" fill="#f2ea5d"/><rect y="191" width="12.03" height="2.2" fill="#f2ea5d"/><rect y="192.6" width="12.03" height="2.1" fill="#f3ee62"/><rect y="194.1" width="12.03" height="2.7" fill="#f2ea5d"/><rect y="196.2" width="12.03" height="2.6" fill="#f3ee62"/><rect y="198.2" width="12.03" height="1.9" fill="#f3ee62"/><rect y="199.5" width="12.03" height="2.3" fill="#f3ed61"/><rect y="201.2" width="12.03" height="2.4" fill="#f3ee62"/><rect y="203.1" width="12.03" height="2.1" fill="#f3ee62"/><rect y="204.6" width="12.03" height="2.5" fill="#f3ee62"/><rect y="206.5" width="12.03" height="2.9" fill="#f2e85c"/><rect y="208.7" width="12.03" height="2.6" fill="#f2e558"/><rect y="210.7" width="12.03" height="2.6" fill="#f2e75a"/><rect y="212.8" width="12.03" height="1.6" fill="#f2e457"/><rect y="213.8" width="12.03" height="2.6" fill="#f2e658"/><rect y="215.8" width="12.03" height="2.9" fill="#f3eb5e"/><rect y="218.1" width="12.03" height="2.5" fill="#f3ee62"/><rect y="220" width="12.03" height="1.9" fill="#f2e658"/><rect y="221.3" width="12.03" height="2.1" fill="#f2e95c"/><rect y="222.8" width="12.03" height="2.2" fill="#f2e95c"/><rect y="224.4" width="12.03" height="1.8" fill="#f3ec60"/><rect y="225.6" width="12.03" height="1.9" fill="#f3ed61"/><rect y="227" width="12.03" height="2.7" fill="#f2e75a"/><rect y="229.1" width="12.03" height="2.5" fill="#f3eb5f"/><rect y="231" width="12.03" height="2.1" fill="#f2ea5d"/><rect y="232.5" width="12.03" height="2.5" fill="#f2e95c"/><rect y="234.5" width="12.03" height="1.7" fill="#f2ea5d"/><rect y="235.6" width="12.03" height="1.8" fill="#f3eb5f"/><rect y="236.7" width="12.03" height="2.7" fill="#f1e153"/><rect y="238.9" width="12.03" height="1.7" fill="#f2e85b"/><rect y="240" width="12.03" height="2.5" fill="#f3ea5e"/><rect y="241.9" width="12.03" height="2" fill="#f2e75a"/><rect y="243.3" width="12.03" height="2.1" fill="#f3ea5d"/><rect y="244.8" width="12.03" height="2.4" fill="#f2e75a"/><rect y="246.6" width="12.03" height="1.7" fill="#f2e85b"/><rect y="247.7" width="12.03" height="2.2" fill="#f2e85c"/><rect y="249.4" width="12.03" height="2.9" fill="#f3ee62"/><rect y="251.7" width="12.03" height="2.4" fill="#f3ea5d"/><rect y="253.5" width="12.03" height="2.2" fill="#f3ea5e"/><rect y="255.1" width="12.03" height="2" fill="#f2e95c"/><rect y="256.5" width="12.03" height="2.1" fill="#f3eb5f"/><rect y="258" width="12.03" height="1.7" fill="#f2e95c"/><rect y="259.2" width="12.03" height="2.9" fill="#f2e75a"/><rect y="261.5" width="12.03" height="2.9" fill="#f3eb5e"/><rect y="263.8" width="12.03" height="2.5" fill="#e17935"/><rect y="265.7" width="12.03" height="2.4" fill="#e27c36"/><rect y="267.5" width="12.03" height="2.3" fill="#e37f37"/><rect y="269.2" width="12.03" height="1.7" fill="#e37e37"/><rect y="270.3" width="12.03" height="1.8" fill="#e37e37"/><rect y="271.5" width="12.03" height="1.8" fill="#f1da4b"/><rect y="272.7" width="12.03" height="2.3" fill="#f1dc4d"/><rect y="274.4" width="12.03" height="1.9" fill="#f1db4c"/><rect y="275.6" width="12.03" height="1.7" fill="#f1e254"/><rect y="276.8" width="12.03" height="2.1" fill="#f1e254"/><rect y="278.3" width="12.03" height="1.9" fill="#f2e254"/><rect y="279.5" width="12.03" height="2.4" fill="#f2e355"/><rect y="281.3" width="12.03" height="1.8" fill="#f1dc4e"/><rect y="282.6" width="12.03" height="1.9" fill="#f1df51"/></g>
<g transform="translate(197.93 0)"><rect y="102.3" width="12.03" height="2.2" fill="#f3ea5e"/><rect y="103.9" width="12.03" height="2.9" fill="#f1de4f"/><rect y="106.2" width="12.03" height="2.4" fill="#f1db4c"/><rect y="108" width="12.03" height="2.5" fill="#f1da4b"/><rect y="109.9" width="12.03" height="2.8" fill="#f0d94a"/><rect y="112.1" width="12.03" height="2.6" fill="#f1dd4e"/><rect y="114.1" width="12.03" height="2.7" fill="#f1e153"/><rect y="116.2" width="12.03" height="2.4" fill="#f2e457"/><rect y="117.9" width="12.03" height="2.7" fill="#f2e95c"/><rect y="120" width="12.03" height="1.8" fill="#f1db4c"/><rect y="121.2" width="12.03" height="3" fill="#f1da4b"/><rect y="123.6" width="12.03" height="1.7" fill="#f1dd4e"/><rect y="124.6" width="12.03" height="1.7" fill="#f2e355"/><rect y="125.8" width="12.03" height="1.9" fill="#f1e153"/><rect y="127" width="12.03" height="1.7" fill="#f1dd4e"/><rect y="128.2" width="12.03" height="2.7" fill="#f0d849"/><rect y="130.3" width="12.03" height="2.2" fill="#f2e659"/><rect y="131.9" width="12.03" height="2.1" fill="#f2e658"/><rect y="133.4" width="12.03" height="2.6" fill="#f1e051"/><rect y="135.4" width="12.03" height="2.5" fill="#f0d646"/><rect y="137.3" width="12.03" height="2.9" fill="#f2e456"/><rect y="139.5" width="12.03" height="1.7" fill="#f2e557"/><rect y="140.6" width="12.03" height="1.9" fill="#f2e659"/><rect y="142" width="12.03" height="1.9" fill="#f2ea5d"/><rect y="143.2" width="12.03" height="2.4" fill="#f2e659"/><rect y="145" width="12.03" height="1.6" fill="#f1dd4e"/><rect y="146" width="12.03" height="1.9" fill="#f1dc4d"/><rect y="147.4" width="12.03" height="2.1" fill="#f2e356"/><rect y="148.9" width="12.03" height="2.5" fill="#f1e052"/><rect y="150.8" width="12.03" height="2.2" fill="#f1e051"/><rect y="152.4" width="12.03" height="2.3" fill="#f1de50"/><rect y="154.1" width="12.03" height="2.2" fill="#f2e95c"/><rect y="155.7" width="12.03" height="1.9" fill="#f2e659"/><rect y="156.9" width="12.03" height="1.9" fill="#f3eb5e"/><rect y="158.3" width="12.03" height="2.3" fill="#f0d94a"/><rect y="160" width="12.03" height="2.7" fill="#f2e558"/><rect y="162.1" width="12.03" height="2" fill="#f1e052"/><rect y="163.5" width="12.03" height="2.6" fill="#f1df51"/><rect y="165.5" width="12.03" height="3" fill="#f2e355"/><rect y="167.9" width="12.03" height="2.3" fill="#f1e153"/><rect y="169.6" width="12.03" height="2.8" fill="#f2e659"/><rect y="171.8" width="12.03" height="2.5" fill="#f0d748"/><rect y="173.7" width="12.03" height="1.8" fill="#f1da4b"/><rect y="174.8" width="12.03" height="2.1" fill="#f1e153"/><rect y="176.3" width="12.03" height="1.7" fill="#f1dc4d"/><rect y="177.4" width="12.03" height="2.4" fill="#f0d94a"/><rect y="179.2" width="12.03" height="2.1" fill="#f1dc4d"/><rect y="180.6" width="12.03" height="2.7" fill="#f2e355"/><rect y="182.7" width="12.03" height="1.7" fill="#f2e355"/><rect y="183.9" width="12.03" height="2.2" fill="#f1da4b"/><rect y="185.5" width="12.03" height="2.4" fill="#f2e355"/><rect y="187.3" width="12.03" height="2.6" fill="#f2e254"/><rect y="189.3" width="12.03" height="2.3" fill="#f2e355"/><rect y="191" width="12.03" height="2.2" fill="#f2e254"/><rect y="192.6" width="12.03" height="2.1" fill="#f2e355"/><rect y="194.1" width="12.03" height="2.7" fill="#f2e659"/><rect y="196.2" width="12.03" height="2.6" fill="#f2e457"/><rect y="198.2" width="12.03" height="1.9" fill="#f1dd4e"/><rect y="199.5" width="12.03" height="2.3" fill="#f1e052"/><rect y="201.2" width="12.03" height="2.4" fill="#f1e254"/><rect y="203.1" width="12.03" height="2.1" fill="#f1e052"/><rect y="204.6" width="12.03" height="2.5" fill="#f1e253"/><rect y="206.5" width="12.03" height="2.9" fill="#f1e051"/><rect y="208.7" width="12.03" height="2.6" fill="#f1dd4e"/><rect y="210.7" width="12.03" height="2.6" fill="#f2e254"/><rect y="212.8" width="12.03" height="1.6" fill="#f1e052"/><rect y="213.8" width="12.03" height="2.6" fill="#f1e052"/><rect y="215.8" width="12.03" height="2.9" fill="#f1df51"/><rect y="218.1" width="12.03" height="2.5" fill="#f2e355"/><rect y="220" width="12.03" height="1.9" fill="#f1dc4d"/><rect y="221.3" width="12.03" height="2.1" fill="#f1e153"/><rect y="222.8" width="12.03" height="2.2" fill="#f1e051"/><rect y="224.4" width="12.03" height="1.8" fill="#f1de4f"/><rect y="225.6" width="12.03" height="1.9" fill="#f1dd4e"/><rect y="227" width="12.03" height="2.7" fill="#f1e254"/><rect y="229.1" width="12.03" height="2.5" fill="#f2e355"/><rect y="231" width="12.03" height="2.1" fill="#f1e153"/><rect y="232.5" width="12.03" height="2.5" fill="#f1df51"/><rect y="234.5" width="12.03" height="1.7" fill="#f2e558"/><rect y="235.6" width="12.03" height="1.8" fill="#f2e355"/><rect y="236.7" width="12.03" height="2.7" fill="#f1de4f"/><rect y="238.9" width="12.03" height="1.7" fill="#f1df50"/><rect y="240" width="12.03" height="2.5" fill="#f0da4a"/><rect y="241.9" width="12.03" height="2" fill="#f1e153"/><rect y="243.3" width="12.03" height="2.1" fill="#f2e658"/><rect y="244.8" width="12.03" height="2.4" fill="#f1df51"/><rect y="246.6" width="12.03" height="1.7" fill="#f2e355"/><rect y="247.7" width="12.03" height="2.2" fill="#f2e85b"/><rect y="249.4" width="12.03" height="2.9" fill="#f1dc4d"/><rect y="251.7" width="12.03" height="2.4" fill="#f2e355"/><rect y="253.5" width="12.03" height="2.2" fill="#f2e85b"/><rect y="255.1" width="12.03" height="2" fill="#f1df51"/><rect y="256.5" width="12.03" height="2.1" fill="#f2e456"/><rect y="258" width="12.03" height="1.7" fill="#f0d949"/><rect y="259.2" width="12.03" height="2.9" fill="#f1dc4e"/><rect y="261.5" width="12.03" height="2.9" fill="#f1db4c"/><rect y="263.8" width="12.03" height="2.5" fill="#e07334"/><rect y="265.7" width="12.03" height="2.4" fill="#e17935"/><rect y="267.5" width="12.03" height="2.3" fill="#e27b36"/><rect y="269.2" width="12.03" height="1.7" fill="#e48438"/><rect y="270.3" width="12.03" height="1.8" fill="#e38237"/><rect y="271.5" width="12.03" height="1.8" fill="#eec944"/><rect y="272.7" width="12.03" height="2.3" fill="#f0d345"/><rect y="274.4" width="12.03" height="1.9" fill="#f0d345"/><rect y="275.6" width="12.03" height="1.7" fill="#f0d345"/><rect y="276.8" width="12.03" height="2.1" fill="#f1de4f"/><rect y="278.3" width="12.03" height="1.9" fill="#efd245"/><rect y="279.5" width="12.03" height="2.4" fill="#f0d646"/><rect y="281.3" width="12.03" height="1.8" fill="#efd045"/><rect y="282.6" width="12.03" height="1.9" fill="#f1de4f"/></g>
<g transform="translate(209.36 0)"><rect y="102.3" width="12.03" height="2.2" fill="#f1db4c"/><rect y="103.9" width="12.03" height="2.9" fill="#f1dd4e"/><rect y="106.2" width="12.03" height="2.4" fill="#f0d949"/><rect y="108" width="12.03" height="2.5" fill="#f1db4b"/><rect y="109.9" width="12.03" height="2.8" fill="#f2e659"/><rect y="112.1" width="12.03" height="2.6" fill="#f2e658"/><rect y="114.1" width="12.03" height="2.7" fill="#f2e254"/><rect y="116.2" width="12.03" height="2.4" fill="#f1e153"/><rect y="117.9" width="12.03" height="2.7" fill="#f2e658"/><rect y="120" width="12.03" height="1.8" fill="#f1e052"/><rect y="121.2" width="12.03" height="3" fill="#f2e456"/><rect y="123.6" width="12.03" height="1.7" fill="#f2e456"/><rect y="124.6" width="12.03" height="1.7" fill="#f2e457"/><rect y="125.8" width="12.03" height="1.9" fill="#f1df50"/><rect y="127" width="12.03" height="1.7" fill="#f1de4f"/><rect y="128.2" width="12.03" height="2.7" fill="#f2e456"/><rect y="130.3" width="12.03" height="2.2" fill="#f1dd4e"/><rect y="131.9" width="12.03" height="2.1" fill="#f1e254"/><rect y="133.4" width="12.03" height="2.6" fill="#f1e254"/><rect y="135.4" width="12.03" height="2.5" fill="#f2e557"/><rect y="137.3" width="12.03" height="2.9" fill="#f0d849"/><rect y="139.5" width="12.03" height="1.7" fill="#f0d849"/><rect y="140.6" width="12.03" height="1.9" fill="#f2e456"/><rect y="142" width="12.03" height="1.9" fill="#f1da4b"/><rect y="143.2" width="12.03" height="2.4" fill="#f1dd4f"/><rect y="145" width="12.03" height="1.6" fill="#f1de4f"/><rect y="146" width="12.03" height="1.9" fill="#f1df50"/><rect y="147.4" width="12.03" height="2.1" fill="#f1de50"/><rect y="148.9" width="12.03" height="2.5" fill="#f1dd4e"/><rect y="150.8" width="12.03" height="2.2" fill="#f0d646"/><rect y="152.4" width="12.03" height="2.3" fill="#f0da4a"/><rect y="154.1" width="12.03" height="2.2" fill="#f1e254"/><rect y="155.7" width="12.03" height="1.9" fill="#f1df51"/><rect y="156.9" width="12.03" height="1.9" fill="#f1dd4e"/><rect y="158.3" width="12.03" height="2.3" fill="#f0d546"/><rect y="160" width="12.03" height="2.7" fill="#f1e153"/><rect y="162.1" width="12.03" height="2" fill="#f1dc4d"/><rect y="163.5" width="12.03" height="2.6" fill="#f2e456"/><rect y="165.5" width="12.03" height="3" fill="#f2e659"/><rect y="167.9" width="12.03" height="2.3" fill="#f2e355"/><rect y="169.6" width="12.03" height="2.8" fill="#f2e95c"/><rect y="171.8" width="12.03" height="2.5" fill="#f1de4f"/><rect y="173.7" width="12.03" height="1.8" fill="#f1dc4d"/><rect y="174.8" width="12.03" height="2.1" fill="#f1de50"/><rect y="176.3" width="12.03" height="1.7" fill="#f2e355"/><rect y="177.4" width="12.03" height="2.4" fill="#f2e355"/><rect y="179.2" width="12.03" height="2.1" fill="#f2e558"/><rect y="180.6" width="12.03" height="2.7" fill="#f2e355"/><rect y="182.7" width="12.03" height="1.7" fill="#f1dc4d"/><rect y="183.9" width="12.03" height="2.2" fill="#f1df50"/><rect y="185.5" width="12.03" height="2.4" fill="#f2e658"/><rect y="187.3" width="12.03" height="2.6" fill="#f1dd4f"/><rect y="189.3" width="12.03" height="2.3" fill="#f2e658"/><rect y="191" width="12.03" height="2.2" fill="#f1e153"/><rect y="192.6" width="12.03" height="2.1" fill="#f1de4f"/><rect y="194.1" width="12.03" height="2.7" fill="#f1df50"/><rect y="196.2" width="12.03" height="2.6" fill="#f1e052"/><rect y="198.2" width="12.03" height="1.9" fill="#f1e254"/><rect y="199.5" width="12.03" height="2.3" fill="#f1e153"/><rect y="201.2" width="12.03" height="2.4" fill="#f2e456"/><rect y="203.1" width="12.03" height="2.1" fill="#f1e254"/><rect y="204.6" width="12.03" height="2.5" fill="#f0d849"/><rect y="206.5" width="12.03" height="2.9" fill="#f1db4c"/><rect y="208.7" width="12.03" height="2.6" fill="#f2e254"/><rect y="210.7" width="12.03" height="2.6" fill="#f1df51"/><rect y="212.8" width="12.03" height="1.6" fill="#f1e153"/><rect y="213.8" width="12.03" height="2.6" fill="#f2e254"/><rect y="215.8" width="12.03" height="2.9" fill="#f2e457"/><rect y="218.1" width="12.03" height="2.5" fill="#f1de50"/><rect y="220" width="12.03" height="1.9" fill="#f2e456"/><rect y="221.3" width="12.03" height="2.1" fill="#f1dc4d"/><rect y="222.8" width="12.03" height="2.2" fill="#f2e356"/><rect y="224.4" width="12.03" height="1.8" fill="#f1dd4f"/><rect y="225.6" width="12.03" height="1.9" fill="#f2e457"/><rect y="227" width="12.03" height="2.7" fill="#f3ea5e"/><rect y="229.1" width="12.03" height="2.5" fill="#f1e254"/><rect y="231" width="12.03" height="2.1" fill="#f2e355"/><rect y="232.5" width="12.03" height="2.5" fill="#f2e456"/><rect y="234.5" width="12.03" height="1.7" fill="#f2e355"/><rect y="235.6" width="12.03" height="1.8" fill="#f1e153"/><rect y="236.7" width="12.03" height="2.7" fill="#f1de4f"/><rect y="238.9" width="12.03" height="1.7" fill="#f0d748"/><rect y="240" width="12.03" height="2.5" fill="#f1dc4d"/><rect y="241.9" width="12.03" height="2" fill="#f1dc4d"/><rect y="243.3" width="12.03" height="2.1" fill="#f1dc4d"/><rect y="244.8" width="12.03" height="2.4" fill="#f0d949"/><rect y="246.6" width="12.03" height="1.7" fill="#f1dd4e"/><rect y="247.7" width="12.03" height="2.2" fill="#f1df51"/><rect y="249.4" width="12.03" height="2.9" fill="#f1de50"/><rect y="251.7" width="12.03" height="2.4" fill="#f1e254"/><rect y="253.5" width="12.03" height="2.2" fill="#f1e052"/><rect y="255.1" width="12.03" height="2" fill="#f1e153"/><rect y="256.5" width="12.03" height="2.1" fill="#f2e457"/><rect y="258" width="12.03" height="1.7" fill="#f2e557"/><rect y="259.2" width="12.03" height="2.9" fill="#f1db4c"/><rect y="261.5" width="12.03" height="2.9" fill="#f1dd4e"/><rect y="263.8" width="12.03" height="2.5" fill="#e38037"/><rect y="265.7" width="12.03" height="2.4" fill="#e27b36"/><rect y="267.5" width="12.03" height="2.3" fill="#e27c36"/><rect y="269.2" width="12.03" height="1.7" fill="#e48438"/><rect y="270.3" width="12.03" height="1.8" fill="#e27c36"/><rect y="271.5" width="12.03" height="1.8" fill="#f0d245"/><rect y="272.7" width="12.03" height="2.3" fill="#f1dc4d"/><rect y="274.4" width="12.03" height="1.9" fill="#f1da4b"/><rect y="275.6" width="12.03" height="1.7" fill="#efd245"/><rect y="276.8" width="12.03" height="2.1" fill="#f0d747"/><rect y="278.3" width="12.03" height="1.9" fill="#f1df50"/><rect y="279.5" width="12.03" height="2.4" fill="#efd145"/><rect y="281.3" width="12.03" height="1.8" fill="#f0d949"/><rect y="282.6" width="12.03" height="1.9" fill="#f0d345"/></g>
<g transform="translate(220.79 0)"><rect y="102.3" width="12.03" height="2.2" fill="#f1e052"/><rect y="103.9" width="12.03" height="2.9" fill="#f1e052"/><rect y="106.2" width="12.03" height="2.4" fill="#f1e254"/><rect y="108" width="12.03" height="2.5" fill="#f2e85b"/><rect y="109.9" width="12.03" height="2.8" fill="#f1e052"/><rect y="112.1" width="12.03" height="2.6" fill="#f1e052"/><rect y="114.1" width="12.03" height="2.7" fill="#f2e558"/><rect y="116.2" width="12.03" height="2.4" fill="#f2e456"/><rect y="117.9" width="12.03" height="2.7" fill="#f1de4f"/><rect y="120" width="12.03" height="1.8" fill="#f1df50"/><rect y="121.2" width="12.03" height="3" fill="#f1e153"/><rect y="123.6" width="12.03" height="1.7" fill="#f1de4f"/><rect y="124.6" width="12.03" height="1.7" fill="#f1dd4e"/><rect y="125.8" width="12.03" height="1.9" fill="#f0d949"/><rect y="127" width="12.03" height="1.7" fill="#f1de50"/><rect y="128.2" width="12.03" height="2.7" fill="#f0d849"/><rect y="130.3" width="12.03" height="2.2" fill="#f1dd4f"/><rect y="131.9" width="12.03" height="2.1" fill="#f1dd4e"/><rect y="133.4" width="12.03" height="2.6" fill="#f1dc4d"/><rect y="135.4" width="12.03" height="2.5" fill="#f1dc4d"/><rect y="137.3" width="12.03" height="2.9" fill="#f1de4f"/><rect y="139.5" width="12.03" height="1.7" fill="#f1dc4d"/><rect y="140.6" width="12.03" height="1.9" fill="#f0da4a"/><rect y="142" width="12.03" height="1.9" fill="#f1dd4e"/><rect y="143.2" width="12.03" height="2.4" fill="#f1e153"/><rect y="145" width="12.03" height="1.6" fill="#f1e052"/><rect y="146" width="12.03" height="1.9" fill="#f1de50"/><rect y="147.4" width="12.03" height="2.1" fill="#f1e153"/><rect y="148.9" width="12.03" height="2.5" fill="#f1df50"/><rect y="150.8" width="12.03" height="2.2" fill="#f1da4b"/><rect y="152.4" width="12.03" height="2.3" fill="#f1e052"/><rect y="154.1" width="12.03" height="2.2" fill="#f1df51"/><rect y="155.7" width="12.03" height="1.9" fill="#f0d849"/><rect y="156.9" width="12.03" height="1.9" fill="#f1e052"/><rect y="158.3" width="12.03" height="2.3" fill="#f2e456"/><rect y="160" width="12.03" height="2.7" fill="#f2e356"/><rect y="162.1" width="12.03" height="2" fill="#f2e75a"/><rect y="163.5" width="12.03" height="2.6" fill="#f2e557"/><rect y="165.5" width="12.03" height="3" fill="#f2e457"/><rect y="167.9" width="12.03" height="2.3" fill="#f2e558"/><rect y="169.6" width="12.03" height="2.8" fill="#f2e355"/><rect y="171.8" width="12.03" height="2.5" fill="#f1de4f"/><rect y="173.7" width="12.03" height="1.8" fill="#f1de4f"/><rect y="174.8" width="12.03" height="2.1" fill="#f1dd4e"/><rect y="176.3" width="12.03" height="1.7" fill="#f1dc4d"/><rect y="177.4" width="12.03" height="2.4" fill="#f1de4f"/><rect y="179.2" width="12.03" height="2.1" fill="#f1da4b"/><rect y="180.6" width="12.03" height="2.7" fill="#f1dd4e"/><rect y="182.7" width="12.03" height="1.7" fill="#f1df51"/><rect y="183.9" width="12.03" height="2.2" fill="#f1e051"/><rect y="185.5" width="12.03" height="2.4" fill="#f2e557"/><rect y="187.3" width="12.03" height="2.6" fill="#f1e153"/><rect y="189.3" width="12.03" height="2.3" fill="#f1df50"/><rect y="191" width="12.03" height="2.2" fill="#f1dc4e"/><rect y="192.6" width="12.03" height="2.1" fill="#f1e051"/><rect y="194.1" width="12.03" height="2.7" fill="#f2e356"/><rect y="196.2" width="12.03" height="2.6" fill="#f1e254"/><rect y="198.2" width="12.03" height="1.9" fill="#f1de4f"/><rect y="199.5" width="12.03" height="2.3" fill="#f1de4f"/><rect y="201.2" width="12.03" height="2.4" fill="#f1e153"/><rect y="203.1" width="12.03" height="2.1" fill="#f1dc4d"/><rect y="204.6" width="12.03" height="2.5" fill="#f1dc4d"/><rect y="206.5" width="12.03" height="2.9" fill="#f1e253"/><rect y="208.7" width="12.03" height="2.6" fill="#f1df51"/><rect y="210.7" width="12.03" height="2.6" fill="#f1db4c"/><rect y="212.8" width="12.03" height="1.6" fill="#f1de50"/><rect y="213.8" width="12.03" height="2.6" fill="#f1e153"/><rect y="215.8" width="12.03" height="2.9" fill="#f0d94a"/><rect y="218.1" width="12.03" height="2.5" fill="#f1dd4e"/><rect y="220" width="12.03" height="1.9" fill="#f1e052"/><rect y="221.3" width="12.03" height="2.1" fill="#f1db4c"/><rect y="222.8" width="12.03" height="2.2" fill="#f0d747"/><rect y="224.4" width="12.03" height="1.8" fill="#f1db4b"/><rect y="225.6" width="12.03" height="1.9" fill="#f1dc4d"/><rect y="227" width="12.03" height="2.7" fill="#f1db4c"/><rect y="229.1" width="12.03" height="2.5" fill="#f1dc4c"/><rect y="231" width="12.03" height="2.1" fill="#f0d949"/><rect y="232.5" width="12.03" height="2.5" fill="#f0d848"/><rect y="234.5" width="12.03" height="1.7" fill="#f1e052"/><rect y="235.6" width="12.03" height="1.8" fill="#f1db4c"/><rect y="236.7" width="12.03" height="2.7" fill="#f1dc4d"/><rect y="238.9" width="12.03" height="1.7" fill="#f1dc4d"/><rect y="240" width="12.03" height="2.5" fill="#f1da4b"/><rect y="241.9" width="12.03" height="2" fill="#f1dc4d"/><rect y="243.3" width="12.03" height="2.1" fill="#f2e557"/><rect y="244.8" width="12.03" height="2.4" fill="#f2e85b"/><rect y="246.6" width="12.03" height="1.7" fill="#f3ea5e"/><rect y="247.7" width="12.03" height="2.2" fill="#f2e457"/><rect y="249.4" width="12.03" height="2.9" fill="#f2e759"/><rect y="251.7" width="12.03" height="2.4" fill="#f2e658"/><rect y="253.5" width="12.03" height="2.2" fill="#f1df51"/><rect y="255.1" width="12.03" height="2" fill="#f1e153"/><rect y="256.5" width="12.03" height="2.1" fill="#f2e658"/><rect y="258" width="12.03" height="1.7" fill="#f2e759"/><rect y="259.2" width="12.03" height="2.9" fill="#f2e355"/><rect y="261.5" width="12.03" height="2.9" fill="#f1dc4e"/><rect y="263.8" width="12.03" height="2.5" fill="#e17835"/><rect y="265.7" width="12.03" height="2.4" fill="#df7133"/><rect y="267.5" width="12.03" height="2.3" fill="#df7233"/><rect y="269.2" width="12.03" height="1.7" fill="#e68b3a"/><rect y="270.3" width="12.03" height="1.8" fill="#e27a36"/><rect y="271.5" width="12.03" height="1.8" fill="#f1df51"/><rect y="272.7" width="12.03" height="2.3" fill="#f0d949"/><rect y="274.4" width="12.03" height="1.9" fill="#f1de50"/><rect y="275.6" width="12.03" height="1.7" fill="#f1e052"/><rect y="276.8" width="12.03" height="2.1" fill="#f1dc4c"/><rect y="278.3" width="12.03" height="1.9" fill="#f1da4b"/><rect y="279.5" width="12.03" height="2.4" fill="#f1dd4e"/><rect y="281.3" width="12.03" height="1.8" fill="#f1de50"/><rect y="282.6" width="12.03" height="1.9" fill="#f0d848"/></g>
<g transform="translate(232.22 0)"><rect y="102.3" width="12.03" height="2.2" fill="#f0d446"/><rect y="103.9" width="12.03" height="2.9" fill="#f1db4c"/><rect y="106.2" width="12.03" height="2.4" fill="#f2e355"/><rect y="108" width="12.03" height="2.5" fill="#f1e052"/><rect y="109.9" width="12.03" height="2.8" fill="#f1dd4f"/><rect y="112.1" width="12.03" height="2.6" fill="#f2e254"/><rect y="114.1" width="12.03" height="2.7" fill="#f2e355"/><rect y="116.2" width="12.03" height="2.4" fill="#f2e254"/><rect y="117.9" width="12.03" height="2.7" fill="#f1df50"/><rect y="120" width="12.03" height="1.8" fill="#f0d646"/><rect y="121.2" width="12.03" height="3" fill="#f1dc4d"/><rect y="123.6" width="12.03" height="1.7" fill="#f2e558"/><rect y="124.6" width="12.03" height="1.7" fill="#f2e557"/><rect y="125.8" width="12.03" height="1.9" fill="#f1e152"/><rect y="127" width="12.03" height="1.7" fill="#f0d747"/><rect y="128.2" width="12.03" height="2.7" fill="#f1dd4f"/><rect y="130.3" width="12.03" height="2.2" fill="#f1df50"/><rect y="131.9" width="12.03" height="2.1" fill="#f1e153"/><rect y="133.4" width="12.03" height="2.6" fill="#f1e052"/><rect y="135.4" width="12.03" height="2.5" fill="#f1de50"/><rect y="137.3" width="12.03" height="2.9" fill="#f1e051"/><rect y="139.5" width="12.03" height="1.7" fill="#f1e152"/><rect y="140.6" width="12.03" height="1.9" fill="#f2e456"/><rect y="142" width="12.03" height="1.9" fill="#f2e85b"/><rect y="143.2" width="12.03" height="2.4" fill="#f1da4b"/><rect y="145" width="12.03" height="1.6" fill="#f1e051"/><rect y="146" width="12.03" height="1.9" fill="#f1de4f"/><rect y="147.4" width="12.03" height="2.1" fill="#f1db4c"/><rect y="148.9" width="12.03" height="2.5" fill="#f0d849"/><rect y="150.8" width="12.03" height="2.2" fill="#f2e355"/><rect y="152.4" width="12.03" height="2.3" fill="#f2e456"/><rect y="154.1" width="12.03" height="2.2" fill="#f1e254"/><rect y="155.7" width="12.03" height="1.9" fill="#f1e254"/><rect y="156.9" width="12.03" height="1.9" fill="#f2e355"/><rect y="158.3" width="12.03" height="2.3" fill="#f2e558"/><rect y="160" width="12.03" height="2.7" fill="#f1de4f"/><rect y="162.1" width="12.03" height="2" fill="#f1e153"/><rect y="163.5" width="12.03" height="2.6" fill="#f1de50"/><rect y="165.5" width="12.03" height="3" fill="#f0d848"/><rect y="167.9" width="12.03" height="2.3" fill="#f1e152"/><rect y="169.6" width="12.03" height="2.8" fill="#f2e456"/><rect y="171.8" width="12.03" height="2.5" fill="#f0d546"/><rect y="173.7" width="12.03" height="1.8" fill="#f2e557"/><rect y="174.8" width="12.03" height="2.1" fill="#f1db4c"/><rect y="176.3" width="12.03" height="1.7" fill="#f1db4c"/><rect y="177.4" width="12.03" height="2.4" fill="#f1de4f"/><rect y="179.2" width="12.03" height="2.1" fill="#f1e052"/><rect y="180.6" width="12.03" height="2.7" fill="#f1dd4f"/><rect y="182.7" width="12.03" height="1.7" fill="#f1e153"/><rect y="183.9" width="12.03" height="2.2" fill="#f1de4f"/><rect y="185.5" width="12.03" height="2.4" fill="#f2e658"/><rect y="187.3" width="12.03" height="2.6" fill="#f2e75a"/><rect y="189.3" width="12.03" height="2.3" fill="#f1de50"/><rect y="191" width="12.03" height="2.2" fill="#f2e355"/><rect y="192.6" width="12.03" height="2.1" fill="#f2e457"/><rect y="194.1" width="12.03" height="2.7" fill="#f1e153"/><rect y="196.2" width="12.03" height="2.6" fill="#f2e355"/><rect y="198.2" width="12.03" height="1.9" fill="#f1de4f"/><rect y="199.5" width="12.03" height="2.3" fill="#f1dc4d"/><rect y="201.2" width="12.03" height="2.4" fill="#f2e558"/><rect y="203.1" width="12.03" height="2.1" fill="#f1e052"/><rect y="204.6" width="12.03" height="2.5" fill="#f2e456"/><rect y="206.5" width="12.03" height="2.9" fill="#f2e355"/><rect y="208.7" width="12.03" height="2.6" fill="#f1dd4e"/><rect y="210.7" width="12.03" height="2.6" fill="#f1db4c"/><rect y="212.8" width="12.03" height="1.6" fill="#f0d848"/><rect y="213.8" width="12.03" height="2.6" fill="#f0d748"/><rect y="215.8" width="12.03" height="2.9" fill="#f0d747"/><rect y="218.1" width="12.03" height="2.5" fill="#f0da4a"/><rect y="220" width="12.03" height="1.9" fill="#f1dc4d"/><rect y="221.3" width="12.03" height="2.1" fill="#f1df51"/><rect y="222.8" width="12.03" height="2.2" fill="#f0d94a"/><rect y="224.4" width="12.03" height="1.8" fill="#f2e255"/><rect y="225.6" width="12.03" height="1.9" fill="#f1e254"/><rect y="227" width="12.03" height="2.7" fill="#f0da4a"/><rect y="229.1" width="12.03" height="2.5" fill="#f1e153"/><rect y="231" width="12.03" height="2.1" fill="#f2e75a"/><rect y="232.5" width="12.03" height="2.5" fill="#f1df51"/><rect y="234.5" width="12.03" height="1.7" fill="#f2e355"/><rect y="235.6" width="12.03" height="1.8" fill="#f1dc4d"/><rect y="236.7" width="12.03" height="2.7" fill="#f1dc4d"/><rect y="238.9" width="12.03" height="1.7" fill="#f1df51"/><rect y="240" width="12.03" height="2.5" fill="#f0d848"/><rect y="241.9" width="12.03" height="2" fill="#f0d345"/><rect y="243.3" width="12.03" height="2.1" fill="#f1dc4d"/><rect y="244.8" width="12.03" height="2.4" fill="#f0d747"/><rect y="246.6" width="12.03" height="1.7" fill="#f1e153"/><rect y="247.7" width="12.03" height="2.2" fill="#f1dd4e"/><rect y="249.4" width="12.03" height="2.9" fill="#f1df50"/><rect y="251.7" width="12.03" height="2.4" fill="#f0d949"/><rect y="253.5" width="12.03" height="2.2" fill="#f1e254"/><rect y="255.1" width="12.03" height="2" fill="#f1e051"/><rect y="256.5" width="12.03" height="2.1" fill="#f2e254"/><rect y="258" width="12.03" height="1.7" fill="#f1db4c"/><rect y="259.2" width="12.03" height="2.9" fill="#f1de4f"/><rect y="261.5" width="12.03" height="2.9" fill="#f1de4f"/><rect y="263.8" width="12.03" height="2.5" fill="#e68a3a"/><rect y="265.7" width="12.03" height="2.4" fill="#e68a3a"/><rect y="267.5" width="12.03" height="2.3" fill="#e68a3a"/><rect y="269.2" width="12.03" height="1.7" fill="#e68c3a"/><rect y="270.3" width="12.03" height="1.8" fill="#e58939"/><rect y="271.5" width="12.03" height="1.8" fill="#efcd44"/><rect y="272.7" width="12.03" height="2.3" fill="#efd045"/><rect y="274.4" width="12.03" height="1.9" fill="#efd245"/><rect y="275.6" width="12.03" height="1.7" fill="#f0d849"/><rect y="276.8" width="12.03" height="2.1" fill="#f0da4a"/><rect y="278.3" width="12.03" height="1.9" fill="#f0da4a"/><rect y="279.5" width="12.03" height="2.4" fill="#f1da4b"/><rect y="281.3" width="12.03" height="1.8" fill="#f0d848"/><rect y="282.6" width="12.03" height="1.9" fill="#f1df50"/></g>
<g transform="translate(243.65 0)"><rect y="102.3" width="12.03" height="2.2" fill="#f2e557"/><rect y="103.9" width="12.03" height="2.9" fill="#f2e85b"/><rect y="106.2" width="12.03" height="2.4" fill="#f1e253"/><rect y="108" width="12.03" height="2.5" fill="#f1db4c"/><rect y="109.9" width="12.03" height="2.8" fill="#f2e95c"/><rect y="112.1" width="12.03" height="2.6" fill="#f3ea5e"/><rect y="114.1" width="12.03" height="2.7" fill="#f2e457"/><rect y="116.2" width="12.03" height="2.4" fill="#f1e254"/><rect y="117.9" width="12.03" height="2.7" fill="#f0d747"/><rect y="120" width="12.03" height="1.8" fill="#f1db4b"/><rect y="121.2" width="12.03" height="3" fill="#f1de4f"/><rect y="123.6" width="12.03" height="1.7" fill="#f1e152"/><rect y="124.6" width="12.03" height="1.7" fill="#f1da4b"/><rect y="125.8" width="12.03" height="1.9" fill="#f1df50"/><rect y="127" width="12.03" height="1.7" fill="#f1da4b"/><rect y="128.2" width="12.03" height="2.7" fill="#f0d848"/><rect y="130.3" width="12.03" height="2.2" fill="#f1de50"/><rect y="131.9" width="12.03" height="2.1" fill="#f1dd4e"/><rect y="133.4" width="12.03" height="2.6" fill="#f1de4f"/><rect y="135.4" width="12.03" height="2.5" fill="#f1e153"/><rect y="137.3" width="12.03" height="2.9" fill="#f1e052"/><rect y="139.5" width="12.03" height="1.7" fill="#f1e153"/><rect y="140.6" width="12.03" height="1.9" fill="#f1de4f"/><rect y="142" width="12.03" height="1.9" fill="#f1e052"/><rect y="143.2" width="12.03" height="2.4" fill="#f2e456"/><rect y="145" width="12.03" height="1.6" fill="#f2e356"/><rect y="146" width="12.03" height="1.9" fill="#f1df51"/><rect y="147.4" width="12.03" height="2.1" fill="#f1dd4e"/><rect y="148.9" width="12.03" height="2.5" fill="#f1db4c"/><rect y="150.8" width="12.03" height="2.2" fill="#f2e355"/><rect y="152.4" width="12.03" height="2.3" fill="#f2e355"/><rect y="154.1" width="12.03" height="2.2" fill="#f1df51"/><rect y="155.7" width="12.03" height="1.9" fill="#f1e153"/><rect y="156.9" width="12.03" height="1.9" fill="#f2e356"/><rect y="158.3" width="12.03" height="2.3" fill="#f1de4f"/><rect y="160" width="12.03" height="2.7" fill="#f1df51"/><rect y="162.1" width="12.03" height="2" fill="#f2e558"/><rect y="163.5" width="12.03" height="2.6" fill="#f1e253"/><rect y="165.5" width="12.03" height="3" fill="#f2e659"/><rect y="167.9" width="12.03" height="2.3" fill="#f1e052"/><rect y="169.6" width="12.03" height="2.8" fill="#f1db4c"/><rect y="171.8" width="12.03" height="2.5" fill="#f1de4f"/><rect y="173.7" width="12.03" height="1.8" fill="#f1de50"/><rect y="174.8" width="12.03" height="2.1" fill="#f2e255"/><rect y="176.3" width="12.03" height="1.7" fill="#f1dd4e"/><rect y="177.4" width="12.03" height="2.4" fill="#f1de4f"/><rect y="179.2" width="12.03" height="2.1" fill="#f1db4c"/><rect y="180.6" width="12.03" height="2.7" fill="#f0d446"/><rect y="182.7" width="12.03" height="1.7" fill="#f0d949"/><rect y="183.9" width="12.03" height="2.2" fill="#f0d949"/><rect y="185.5" width="12.03" height="2.4" fill="#f1db4c"/><rect y="187.3" width="12.03" height="2.6" fill="#f1de4f"/><rect y="189.3" width="12.03" height="2.3" fill="#f1db4c"/><rect y="191" width="12.03" height="2.2" fill="#f1dc4c"/><rect y="192.6" width="12.03" height="2.1" fill="#f1e051"/><rect y="194.1" width="12.03" height="2.7" fill="#f1e051"/><rect y="196.2" width="12.03" height="2.6" fill="#f2e456"/><rect y="198.2" width="12.03" height="1.9" fill="#f1df50"/><rect y="199.5" width="12.03" height="2.3" fill="#f1e153"/><rect y="201.2" width="12.03" height="2.4" fill="#f2e355"/><rect y="203.1" width="12.03" height="2.1" fill="#f2e558"/><rect y="204.6" width="12.03" height="2.5" fill="#f1e254"/><rect y="206.5" width="12.03" height="2.9" fill="#f1df51"/><rect y="208.7" width="12.03" height="2.6" fill="#f1e052"/><rect y="210.7" width="12.03" height="2.6" fill="#f2e255"/><rect y="212.8" width="12.03" height="1.6" fill="#f1de4f"/><rect y="213.8" width="12.03" height="2.6" fill="#f1e153"/><rect y="215.8" width="12.03" height="2.9" fill="#f1de4f"/><rect y="218.1" width="12.03" height="2.5" fill="#f1de4f"/><rect y="220" width="12.03" height="1.9" fill="#f1dc4d"/><rect y="221.3" width="12.03" height="2.1" fill="#f1e254"/><rect y="222.8" width="12.03" height="2.2" fill="#f1de4f"/><rect y="224.4" width="12.03" height="1.8" fill="#f1da4b"/><rect y="225.6" width="12.03" height="1.9" fill="#f1da4b"/><rect y="227" width="12.03" height="2.7" fill="#f1de4f"/><rect y="229.1" width="12.03" height="2.5" fill="#f0d94a"/><rect y="231" width="12.03" height="2.1" fill="#f1dd4e"/><rect y="232.5" width="12.03" height="2.5" fill="#f2e456"/><rect y="234.5" width="12.03" height="1.7" fill="#f1dc4d"/><rect y="235.6" width="12.03" height="1.8" fill="#f1dc4d"/><rect y="236.7" width="12.03" height="2.7" fill="#f1df51"/><rect y="238.9" width="12.03" height="1.7" fill="#f2e355"/><rect y="240" width="12.03" height="2.5" fill="#f2e659"/><rect y="241.9" width="12.03" height="2" fill="#f2e457"/><rect y="243.3" width="12.03" height="2.1" fill="#f2e254"/><rect y="244.8" width="12.03" height="2.4" fill="#f1de4f"/><rect y="246.6" width="12.03" height="1.7" fill="#f1e153"/><rect y="247.7" width="12.03" height="2.2" fill="#f1e254"/><rect y="249.4" width="12.03" height="2.9" fill="#f2e557"/><rect y="251.7" width="12.03" height="2.4" fill="#f2e457"/><rect y="253.5" width="12.03" height="2.2" fill="#f2e254"/><rect y="255.1" width="12.03" height="2" fill="#f1e254"/><rect y="256.5" width="12.03" height="2.1" fill="#f1df51"/><rect y="258" width="12.03" height="1.7" fill="#f1e052"/><rect y="259.2" width="12.03" height="2.9" fill="#f1dd4e"/><rect y="261.5" width="12.03" height="2.9" fill="#f2e558"/><rect y="263.8" width="12.03" height="2.5" fill="#e27c36"/><rect y="265.7" width="12.03" height="2.4" fill="#e48538"/><rect y="267.5" width="12.03" height="2.3" fill="#e58639"/><rect y="269.2" width="12.03" height="1.7" fill="#e58739"/><rect y="270.3" width="12.03" height="1.8" fill="#e48538"/><rect y="271.5" width="12.03" height="1.8" fill="#f1dd4e"/><rect y="272.7" width="12.03" height="2.3" fill="#efcb44"/><rect y="274.4" width="12.03" height="1.9" fill="#f0d747"/><rect y="275.6" width="12.03" height="1.7" fill="#f0d94a"/><rect y="276.8" width="12.03" height="2.1" fill="#f0d747"/><rect y="278.3" width="12.03" height="1.9" fill="#f1db4c"/><rect y="279.5" width="12.03" height="2.4" fill="#f1dc4d"/><rect y="281.3" width="12.03" height="1.8" fill="#f1dc4d"/><rect y="282.6" width="12.03" height="1.9" fill="#f0d848"/></g></g>
<g class="hc"><g transform="translate(73.9 0)"><rect y="452.2" width="12" height="2.9" fill="#e07434"/><rect y="454.5" width="12" height="2" fill="#e07434"/><rect y="455.9" width="12" height="2.7" fill="#e17735"/><rect y="458.1" width="12" height="2" fill="#e07634"/><rect y="459.5" width="12" height="2" fill="#e17a35"/><rect y="460.9" width="12" height="1.9" fill="#e17935"/><rect y="462.2" width="12" height="2.3" fill="#de6d32"/><rect y="463.9" width="12" height="2.6" fill="#e07534"/><rect y="465.9" width="12" height="2.9" fill="#df7133"/><rect y="468.2" width="12" height="2.2" fill="#de6d32"/><rect y="469.8" width="12" height="2" fill="#e38137"/><rect y="471.1" width="12" height="2.6" fill="#d7542d"/><rect y="473.2" width="12" height="2.5" fill="#e38037"/><rect y="475.1" width="12" height="2.8" fill="#e37f37"/><rect y="477.2" width="12" height="2.9" fill="#dd6831"/><rect y="479.6" width="12" height="1.9" fill="#df6f33"/><rect y="480.9" width="12" height="2.7" fill="#df7233"/><rect y="483" width="12" height="2.8" fill="#de6c32"/><rect y="485.2" width="12" height="2.5" fill="#e17935"/><rect y="487.1" width="12" height="2.4" fill="#e17735"/><rect y="488.9" width="12" height="1.9" fill="#e17635"/><rect y="490.2" width="12" height="2.8" fill="#de6b32"/><rect y="492.5" width="12" height="2.3" fill="#de6e32"/><rect y="494.2" width="12" height="1.4" fill="#e48438"/><rect y="495" width="12" height="2.6" fill="#df7133"/><rect y="497" width="12" height="2.3" fill="#df7133"/><rect y="498.6" width="12" height="2.1" fill="#df6f33"/><rect y="500.1" width="12" height="2.7" fill="#df6f33"/><rect y="502.2" width="12" height="2.8" fill="#df7133"/><rect y="504.4" width="12" height="2.2" fill="#de6c32"/><rect y="506" width="12" height="2.1" fill="#de6c32"/><rect y="507.5" width="12" height="2.3" fill="#df7133"/><rect y="509.1" width="12" height="2.9" fill="#e58839"/><rect y="511.5" width="12" height="1.9" fill="#e68b3a"/><rect y="512.8" width="12" height="2.3" fill="#e48538"/><rect y="514.5" width="12" height="2.9" fill="#e48438"/><rect y="516.8" width="12" height="2.1" fill="#e48438"/><rect y="518.3" width="12" height="2.8" fill="#e48438"/><rect y="520.5" width="12" height="2.6" fill="#e58839"/><rect y="522.4" width="12" height="1.9" fill="#e58a39"/><rect y="523.8" width="12" height="2.9" fill="#e58839"/><rect y="526.1" width="12" height="1.7" fill="#dd6931"/><rect y="527.2" width="12" height="2" fill="#de6c32"/><rect y="528.6" width="12" height="2.2" fill="#e48638"/><rect y="530.2" width="12" height="1.8" fill="#e48538"/><rect y="531.4" width="12" height="3.7" fill="#e07434"/><rect y="534.5" width="12" height="2.1" fill="#e8983c"/><rect y="536" width="12" height="2.7" fill="#e9a33d"/><rect y="538.1" width="12" height="2.5" fill="#ebb03f"/><rect y="539.9" width="12" height="1.8" fill="#eaa73e"/><rect y="541.1" width="12" height="2.1" fill="#eaa93e"/><rect y="542.6" width="12" height="2.5" fill="#ebac3f"/><rect y="544.5" width="12" height="2.3" fill="#ebae3f"/><rect y="546.2" width="12" height="2.2" fill="#eaa93e"/><rect y="547.8" width="12" height="3" fill="#eaa83e"/><rect y="550.2" width="12" height="2" fill="#eaa63e"/><rect y="551.6" width="12" height="2.3" fill="#e99f3d"/><rect y="553.3" width="12" height="1.9" fill="#e9a23d"/><rect y="554.7" width="12" height="2.5" fill="#ebad3f"/><rect y="556.5" width="12" height="2.5" fill="#ecb240"/><rect y="558.4" width="12" height="1.7" fill="#ebac3f"/><rect y="559.5" width="12" height="2.5" fill="#e8963c"/><rect y="561.4" width="12" height="2.6" fill="#e99f3d"/><rect y="563.3" width="12" height="2.9" fill="#e99e3d"/><rect y="565.6" width="12" height="2.6" fill="#eaa53e"/><rect y="567.6" width="12" height="1.8" fill="#e9a23d"/><rect y="568.8" width="12" height="2.1" fill="#eaa53e"/><rect y="570.3" width="12" height="1.7" fill="#e9a23d"/><rect y="571.4" width="12" height="1.7" fill="#e89c3c"/><rect y="572.5" width="12" height="2.8" fill="#eaa53e"/><rect y="574.7" width="12" height="2.9" fill="#e9a03d"/><rect y="577.1" width="12" height="2.2" fill="#eaa43e"/><rect y="578.6" width="12" height="1.8" fill="#ebae3f"/><rect y="579.8" width="12" height="2.6" fill="#ebac3f"/><rect y="581.8" width="12" height="1.9" fill="#eaa83e"/><rect y="583.1" width="12" height="1.9" fill="#eaa83e"/><rect y="584.4" width="12" height="2.8" fill="#e8983c"/><rect y="586.6" width="12" height="2.8" fill="#e89a3c"/><rect y="588.8" width="12" height="2.6" fill="#e7953b"/><rect y="590.7" width="12" height="2.8" fill="#e8993c"/><rect y="593" width="12" height="2.5" fill="#edb941"/><rect y="594.9" width="12" height="2.3" fill="#ebab3f"/><rect y="596.6" width="12" height="1.7" fill="#e8963c"/><rect y="597.7" width="12" height="2.6" fill="#e8983c"/><rect y="599.7" width="12" height="2" fill="#e9a23d"/><rect y="601.1" width="12" height="2.2" fill="#e9a33d"/><rect y="602.7" width="12" height="1.8" fill="#e8983c"/><rect y="603.9" width="12" height="2.8" fill="#e8973c"/><rect y="606.1" width="12" height="2.8" fill="#e8973c"/><rect y="608.3" width="12" height="1.6" fill="#e8983c"/><rect y="609.3" width="12" height="2" fill="#dd6831"/><rect y="610.7" width="12" height="2.1" fill="#de6b32"/><rect y="612.2" width="12" height="1.7" fill="#dd6831"/><rect y="613.3" width="12" height="2.1" fill="#dd6931"/><rect y="614.8" width="12" height="2.5" fill="#dc6530"/><rect y="616.8" width="12" height="2.7" fill="#da5f2f"/><rect y="618.9" width="12" height="2.1" fill="#dd6931"/><rect y="620.4" width="12" height="2" fill="#e89c3c"/><rect y="621.8" width="12" height="2.5" fill="#e9a03d"/><rect y="623.7" width="12" height="2.7" fill="#e8993c"/><rect y="625.8" width="12" height="2.9" fill="#e99e3d"/><rect y="628.1" width="12" height="2.4" fill="#e9a03d"/><rect y="629.9" width="12" height="2.9" fill="#eaa43e"/><rect y="632.2" width="12" height="2" fill="#e7943b"/></g>
<g transform="translate(85.3 0)"><rect y="452.2" width="12" height="2.9" fill="#e68b3a"/><rect y="454.5" width="12" height="2" fill="#e48538"/><rect y="455.9" width="12" height="2.7" fill="#e58a39"/><rect y="458.1" width="12" height="2" fill="#e38237"/><rect y="459.5" width="12" height="2" fill="#ecb640"/><rect y="460.9" width="12" height="1.9" fill="#edb941"/><rect y="462.2" width="12" height="2.3" fill="#ecb340"/><rect y="463.9" width="12" height="2.6" fill="#e8963c"/><rect y="465.9" width="12" height="2.9" fill="#e68e3a"/><rect y="468.2" width="12" height="2.2" fill="#e89a3c"/><rect y="469.8" width="12" height="2" fill="#e8983c"/><rect y="471.1" width="12" height="2.6" fill="#e9a13d"/><rect y="473.2" width="12" height="2.5" fill="#eaa93e"/><rect y="475.1" width="12" height="2.8" fill="#e17a35"/><rect y="477.2" width="12" height="2.9" fill="#e17735"/><rect y="479.6" width="12" height="1.9" fill="#e17a35"/><rect y="480.9" width="12" height="2.7" fill="#e17635"/><rect y="483" width="12" height="2.8" fill="#e17635"/><rect y="485.2" width="12" height="2.5" fill="#e68a3a"/><rect y="487.1" width="12" height="2.4" fill="#e58a39"/><rect y="488.9" width="12" height="1.9" fill="#e38137"/><rect y="490.2" width="12" height="2.8" fill="#e38137"/><rect y="492.5" width="12" height="2.3" fill="#e37f37"/><rect y="494.2" width="12" height="1.4" fill="#e17935"/><rect y="495" width="12" height="2.6" fill="#ebae3f"/><rect y="497" width="12" height="2.3" fill="#ebae3f"/><rect y="498.6" width="12" height="2.1" fill="#ebb03f"/><rect y="500.1" width="12" height="2.7" fill="#e17835"/><rect y="502.2" width="12" height="2.8" fill="#e27d36"/><rect y="504.4" width="12" height="2.2" fill="#e27b36"/><rect y="506" width="12" height="2.1" fill="#e7943b"/><rect y="507.5" width="12" height="2.3" fill="#e89a3c"/><rect y="509.1" width="12" height="2.9" fill="#e8993c"/><rect y="511.5" width="12" height="1.9" fill="#e9a03d"/><rect y="512.8" width="12" height="2.3" fill="#e9a23d"/><rect y="514.5" width="12" height="2.9" fill="#e8993c"/><rect y="516.8" width="12" height="2.1" fill="#e68f3a"/><rect y="518.3" width="12" height="2.8" fill="#eaa53e"/><rect y="520.5" width="12" height="2.6" fill="#eaa63e"/><rect y="522.4" width="12" height="1.9" fill="#e9a03d"/><rect y="523.8" width="12" height="2.9" fill="#ebab3f"/><rect y="526.1" width="12" height="1.7" fill="#ebac3f"/><rect y="527.2" width="12" height="2" fill="#e9a13d"/><rect y="528.6" width="12" height="2.2" fill="#e89a3c"/><rect y="530.2" width="12" height="1.8" fill="#e8993c"/><rect y="531.4" width="12" height="3.7" fill="#e8973c"/><rect y="534.5" width="12" height="2.1" fill="#edbb41"/><rect y="536" width="12" height="2.7" fill="#edbc41"/><rect y="538.1" width="12" height="2.5" fill="#ebae3f"/><rect y="539.9" width="12" height="1.8" fill="#ecb640"/><rect y="541.1" width="12" height="2.1" fill="#eaa73e"/><rect y="542.6" width="12" height="2.5" fill="#ebae3f"/><rect y="544.5" width="12" height="2.3" fill="#eaa63e"/><rect y="546.2" width="12" height="2.2" fill="#eaa93e"/><rect y="547.8" width="12" height="3" fill="#ebab3f"/><rect y="550.2" width="12" height="2" fill="#edc042"/><rect y="551.6" width="12" height="2.3" fill="#ecb640"/><rect y="553.3" width="12" height="1.9" fill="#edc142"/><rect y="554.7" width="12" height="2.5" fill="#eec243"/><rect y="556.5" width="12" height="2.5" fill="#eaa83e"/><rect y="558.4" width="12" height="1.7" fill="#eaa83e"/><rect y="559.5" width="12" height="2.5" fill="#ecb140"/><rect y="561.4" width="12" height="2.6" fill="#edba41"/><rect y="563.3" width="12" height="2.9" fill="#ecb640"/><rect y="565.6" width="12" height="2.6" fill="#ebb03f"/><rect y="567.6" width="12" height="1.8" fill="#ebb13f"/><rect y="568.8" width="12" height="2.1" fill="#ebab3f"/><rect y="570.3" width="12" height="1.7" fill="#ebae3f"/><rect y="571.4" width="12" height="1.7" fill="#ecb340"/><rect y="572.5" width="12" height="2.8" fill="#ebac3f"/><rect y="574.7" width="12" height="2.9" fill="#eaa43e"/><rect y="577.1" width="12" height="2.2" fill="#ebac3f"/><rect y="578.6" width="12" height="1.8" fill="#eaa83e"/><rect y="579.8" width="12" height="2.6" fill="#e68e3a"/><rect y="581.8" width="12" height="1.9" fill="#eaa83e"/><rect y="583.1" width="12" height="1.9" fill="#eaa83e"/><rect y="584.4" width="12" height="2.8" fill="#e68d3a"/><rect y="586.6" width="12" height="2.8" fill="#e7953b"/><rect y="588.8" width="12" height="2.6" fill="#e8973c"/><rect y="590.7" width="12" height="2.8" fill="#e7933b"/><rect y="593" width="12" height="2.5" fill="#efd145"/><rect y="594.9" width="12" height="2.3" fill="#ecb841"/><rect y="596.6" width="12" height="1.7" fill="#ebad3f"/><rect y="597.7" width="12" height="2.6" fill="#edbb41"/><rect y="599.7" width="12" height="2" fill="#ebaf3f"/><rect y="601.1" width="12" height="2.2" fill="#edb941"/><rect y="602.7" width="12" height="1.8" fill="#e89c3c"/><rect y="603.9" width="12" height="2.8" fill="#e7953b"/><rect y="606.1" width="12" height="2.8" fill="#e8973c"/><rect y="608.3" width="12" height="1.6" fill="#ebb03f"/><rect y="609.3" width="12" height="2" fill="#e38137"/><rect y="610.7" width="12" height="2.1" fill="#df6f33"/><rect y="612.2" width="12" height="1.7" fill="#e37e37"/><rect y="613.3" width="12" height="2.1" fill="#e58939"/><rect y="614.8" width="12" height="2.5" fill="#e58739"/><rect y="616.8" width="12" height="2.7" fill="#e48338"/><rect y="618.9" width="12" height="2.1" fill="#e27b36"/><rect y="620.4" width="12" height="2" fill="#e99d3d"/><rect y="621.8" width="12" height="2.5" fill="#ecb340"/><rect y="623.7" width="12" height="2.7" fill="#ecb340"/><rect y="625.8" width="12" height="2.9" fill="#efcb44"/><rect y="628.1" width="12" height="2.4" fill="#edb941"/><rect y="629.9" width="12" height="2.9" fill="#edbb41"/><rect y="632.2" width="12" height="2" fill="#edbb41"/></g>
<g transform="translate(96.7 0)"><rect y="452.2" width="12" height="2.9" fill="#e9a13d"/><rect y="454.5" width="12" height="2" fill="#e27a36"/><rect y="455.9" width="12" height="2.7" fill="#e07334"/><rect y="458.1" width="12" height="2" fill="#e17735"/><rect y="459.5" width="12" height="2" fill="#e7903b"/><rect y="460.9" width="12" height="1.9" fill="#e68e3a"/><rect y="462.2" width="12" height="2.3" fill="#e48538"/><rect y="463.9" width="12" height="2.6" fill="#e89a3c"/><rect y="465.9" width="12" height="2.9" fill="#e7903b"/><rect y="468.2" width="12" height="2.2" fill="#e7933b"/><rect y="469.8" width="12" height="2" fill="#e58739"/><rect y="471.1" width="12" height="2.6" fill="#e27d36"/><rect y="473.2" width="12" height="2.5" fill="#eaa53e"/><rect y="475.1" width="12" height="2.8" fill="#e17635"/><rect y="477.2" width="12" height="2.9" fill="#e68d3a"/><rect y="479.6" width="12" height="1.9" fill="#e68a3a"/><rect y="480.9" width="12" height="2.7" fill="#e58739"/><rect y="483" width="12" height="2.8" fill="#e58639"/><rect y="485.2" width="12" height="2.5" fill="#e68b3a"/><rect y="487.1" width="12" height="2.4" fill="#e68e3a"/><rect y="488.9" width="12" height="1.9" fill="#e17a35"/><rect y="490.2" width="12" height="2.8" fill="#e38037"/><rect y="492.5" width="12" height="2.3" fill="#e48538"/><rect y="494.2" width="12" height="1.4" fill="#e58a39"/><rect y="495" width="12" height="2.6" fill="#e99d3d"/><rect y="497" width="12" height="2.3" fill="#e89b3c"/><rect y="498.6" width="12" height="2.1" fill="#e9a13d"/><rect y="500.1" width="12" height="2.7" fill="#e89c3c"/><rect y="502.2" width="12" height="2.8" fill="#eaa43e"/><rect y="504.4" width="12" height="2.2" fill="#e48338"/><rect y="506" width="12" height="2.1" fill="#e68b3a"/><rect y="507.5" width="12" height="2.3" fill="#e68f3a"/><rect y="509.1" width="12" height="2.9" fill="#e48338"/><rect y="511.5" width="12" height="1.9" fill="#e68d3a"/><rect y="512.8" width="12" height="2.3" fill="#e48438"/><rect y="514.5" width="12" height="2.9" fill="#e48538"/><rect y="516.8" width="12" height="2.1" fill="#e58839"/><rect y="518.3" width="12" height="2.8" fill="#e68d3a"/><rect y="520.5" width="12" height="2.6" fill="#ecb140"/><rect y="522.4" width="12" height="1.9" fill="#eaa53e"/><rect y="523.8" width="12" height="2.9" fill="#eaa73e"/><rect y="526.1" width="12" height="1.7" fill="#e68c3a"/><rect y="527.2" width="12" height="2" fill="#ebad3f"/><rect y="528.6" width="12" height="2.2" fill="#ebaf3f"/><rect y="530.2" width="12" height="1.8" fill="#ecb340"/><rect y="531.4" width="12" height="3.7" fill="#ebae3f"/><rect y="534.5" width="12" height="2.1" fill="#edc042"/><rect y="536" width="12" height="2.7" fill="#ecb740"/><rect y="538.1" width="12" height="2.5" fill="#ecb540"/><rect y="539.9" width="12" height="1.8" fill="#edba41"/><rect y="541.1" width="12" height="2.1" fill="#ecb440"/><rect y="542.6" width="12" height="2.5" fill="#edb941"/><rect y="544.5" width="12" height="2.3" fill="#edba41"/><rect y="546.2" width="12" height="2.2" fill="#edbe42"/><rect y="547.8" width="12" height="3" fill="#e99f3d"/><rect y="550.2" width="12" height="2" fill="#eaa43e"/><rect y="551.6" width="12" height="2.3" fill="#ecb340"/><rect y="553.3" width="12" height="1.9" fill="#eec142"/><rect y="554.7" width="12" height="2.5" fill="#ecb440"/><rect y="556.5" width="12" height="2.5" fill="#edbb41"/><rect y="558.4" width="12" height="1.7" fill="#eec443"/><rect y="559.5" width="12" height="2.5" fill="#eaa83e"/><rect y="561.4" width="12" height="2.6" fill="#eaa63e"/><rect y="563.3" width="12" height="2.9" fill="#eaa43e"/><rect y="565.6" width="12" height="2.6" fill="#eaa53e"/><rect y="567.6" width="12" height="1.8" fill="#e9a33d"/><rect y="568.8" width="12" height="2.1" fill="#eaa73e"/><rect y="570.3" width="12" height="1.7" fill="#e9a13d"/><rect y="571.4" width="12" height="1.7" fill="#e89c3c"/><rect y="572.5" width="12" height="2.8" fill="#e89d3c"/><rect y="574.7" width="12" height="2.9" fill="#e99d3d"/><rect y="577.1" width="12" height="2.2" fill="#e89c3c"/><rect y="578.6" width="12" height="1.8" fill="#e99e3d"/><rect y="579.8" width="12" height="2.6" fill="#e9a23d"/><rect y="581.8" width="12" height="1.9" fill="#ecb340"/><rect y="583.1" width="12" height="1.9" fill="#ecb841"/><rect y="584.4" width="12" height="2.8" fill="#ebaf3f"/><rect y="586.6" width="12" height="2.8" fill="#ebac3f"/><rect y="588.8" width="12" height="2.6" fill="#ebab3f"/><rect y="590.7" width="12" height="2.8" fill="#edba41"/><rect y="593" width="12" height="2.5" fill="#edc042"/><rect y="594.9" width="12" height="2.3" fill="#ebab3f"/><rect y="596.6" width="12" height="1.7" fill="#ecb740"/><rect y="597.7" width="12" height="2.6" fill="#edb941"/><rect y="599.7" width="12" height="2" fill="#edc042"/><rect y="601.1" width="12" height="2.2" fill="#edbf42"/><rect y="602.7" width="12" height="1.8" fill="#edbf42"/><rect y="603.9" width="12" height="2.8" fill="#ecb740"/><rect y="606.1" width="12" height="2.8" fill="#eec343"/><rect y="608.3" width="12" height="1.6" fill="#e58839"/><rect y="609.3" width="12" height="2" fill="#e37e37"/><rect y="610.7" width="12" height="2.1" fill="#e38037"/><rect y="612.2" width="12" height="1.7" fill="#e37f37"/><rect y="613.3" width="12" height="2.1" fill="#e37f37"/><rect y="614.8" width="12" height="2.5" fill="#e27c36"/><rect y="616.8" width="12" height="2.7" fill="#e58839"/><rect y="618.9" width="12" height="2.1" fill="#e17935"/><rect y="620.4" width="12" height="2" fill="#edbb41"/><rect y="621.8" width="12" height="2.5" fill="#ecb841"/><rect y="623.7" width="12" height="2.7" fill="#edb941"/><rect y="625.8" width="12" height="2.9" fill="#edc042"/><rect y="628.1" width="12" height="2.4" fill="#ecb240"/><rect y="629.9" width="12" height="2.9" fill="#e7943b"/><rect y="632.2" width="12" height="2" fill="#e89a3c"/></g>
<g transform="translate(108.1 0)"><rect y="452.2" width="12" height="2.9" fill="#da5e2f"/><rect y="454.5" width="12" height="2" fill="#d8582d"/><rect y="455.9" width="12" height="2.7" fill="#d8582e"/><rect y="458.1" width="12" height="2" fill="#d9592e"/><rect y="459.5" width="12" height="2" fill="#d8592e"/><rect y="460.9" width="12" height="1.9" fill="#d14028"/><rect y="462.2" width="12" height="2.3" fill="#d24529"/><rect y="463.9" width="12" height="2.6" fill="#d44a2b"/><rect y="465.9" width="12" height="2.9" fill="#d14329"/><rect y="468.2" width="12" height="2.2" fill="#d03e28"/><rect y="469.8" width="12" height="2" fill="#d03e28"/><rect y="471.1" width="12" height="2.6" fill="#d03f28"/><rect y="473.2" width="12" height="2.5" fill="#d03e28"/><rect y="475.1" width="12" height="2.8" fill="#d03e28"/><rect y="477.2" width="12" height="2.9" fill="#d03e28"/><rect y="479.6" width="12" height="1.9" fill="#d3482a"/><rect y="480.9" width="12" height="2.7" fill="#d44a2b"/><rect y="483" width="12" height="2.8" fill="#d44b2b"/><rect y="485.2" width="12" height="2.5" fill="#d44c2b"/><rect y="487.1" width="12" height="2.4" fill="#d14329"/><rect y="488.9" width="12" height="1.9" fill="#d54e2b"/><rect y="490.2" width="12" height="2.8" fill="#d3482a"/><rect y="492.5" width="12" height="2.3" fill="#d44b2b"/><rect y="494.2" width="12" height="1.4" fill="#d54d2b"/><rect y="495" width="12" height="2.6" fill="#d24529"/><rect y="497" width="12" height="2.3" fill="#d03f28"/><rect y="498.6" width="12" height="2.1" fill="#d14028"/><rect y="500.1" width="12" height="2.7" fill="#d03e28"/><rect y="502.2" width="12" height="2.8" fill="#d24429"/><rect y="504.4" width="12" height="2.2" fill="#d44b2b"/><rect y="506" width="12" height="2.1" fill="#d3462a"/><rect y="507.5" width="12" height="2.3" fill="#d24429"/><rect y="509.1" width="12" height="2.9" fill="#d6502c"/><rect y="511.5" width="12" height="1.9" fill="#d3462a"/><rect y="512.8" width="12" height="2.3" fill="#d14229"/><rect y="514.5" width="12" height="2.9" fill="#d24329"/><rect y="516.8" width="12" height="2.1" fill="#d14129"/><rect y="518.3" width="12" height="2.8" fill="#d14229"/><rect y="520.5" width="12" height="2.6" fill="#d03e28"/><rect y="522.4" width="12" height="1.9" fill="#d14129"/><rect y="523.8" width="12" height="2.9" fill="#d24529"/><rect y="526.1" width="12" height="1.7" fill="#d44b2b"/><rect y="527.2" width="12" height="2" fill="#dc6230"/><rect y="528.6" width="12" height="2.2" fill="#da5e2f"/><rect y="530.2" width="12" height="1.8" fill="#da5d2e"/><rect y="531.4" width="12" height="3.7" fill="#d95c2e"/><rect y="534.5" width="12" height="2.1" fill="#f0d245"/><rect y="536" width="12" height="2.7" fill="#f1db4c"/><rect y="538.1" width="12" height="2.5" fill="#f1da4b"/><rect y="539.9" width="12" height="1.8" fill="#f1de4f"/><rect y="541.1" width="12" height="2.1" fill="#f1df51"/><rect y="542.6" width="12" height="2.5" fill="#f2e557"/><rect y="544.5" width="12" height="2.3" fill="#f0da4b"/><rect y="546.2" width="12" height="2.2" fill="#f0d94a"/><rect y="547.8" width="12" height="3" fill="#f0d646"/><rect y="550.2" width="12" height="2" fill="#f1db4c"/><rect y="551.6" width="12" height="2.3" fill="#f0d949"/><rect y="553.3" width="12" height="1.9" fill="#f1dc4c"/><rect y="554.7" width="12" height="2.5" fill="#f0d848"/><rect y="556.5" width="12" height="2.5" fill="#f1da4b"/><rect y="558.4" width="12" height="1.7" fill="#f0d747"/><rect y="559.5" width="12" height="2.5" fill="#f1da4b"/><rect y="561.4" width="12" height="2.6" fill="#f1e051"/><rect y="563.3" width="12" height="2.9" fill="#f1e153"/><rect y="565.6" width="12" height="2.6" fill="#f1de4f"/><rect y="567.6" width="12" height="1.8" fill="#f1dc4d"/><rect y="568.8" width="12" height="2.1" fill="#f2e456"/><rect y="570.3" width="12" height="1.7" fill="#f2e557"/><rect y="571.4" width="12" height="1.7" fill="#f1e153"/><rect y="572.5" width="12" height="2.8" fill="#f0d849"/><rect y="574.7" width="12" height="2.9" fill="#f3ee62"/><rect y="577.1" width="12" height="2.2" fill="#f0d446"/><rect y="578.6" width="12" height="1.8" fill="#f1df51"/><rect y="579.8" width="12" height="2.6" fill="#f1dd4e"/><rect y="581.8" width="12" height="1.9" fill="#f2e356"/><rect y="583.1" width="12" height="1.9" fill="#f1dc4d"/><rect y="584.4" width="12" height="2.8" fill="#f0d94a"/><rect y="586.6" width="12" height="2.8" fill="#f2e254"/><rect y="588.8" width="12" height="2.6" fill="#f2e659"/><rect y="590.7" width="12" height="2.8" fill="#f1dc4d"/><rect y="593" width="12" height="2.5" fill="#f2e659"/><rect y="594.9" width="12" height="2.3" fill="#f1dc4d"/><rect y="596.6" width="12" height="1.7" fill="#f2e658"/><rect y="597.7" width="12" height="2.6" fill="#f2e75a"/><rect y="599.7" width="12" height="2" fill="#f2e557"/><rect y="601.1" width="12" height="2.2" fill="#f2e75a"/><rect y="602.7" width="12" height="1.8" fill="#efcd44"/><rect y="603.9" width="12" height="2.8" fill="#efd145"/><rect y="606.1" width="12" height="2.8" fill="#f0d646"/><rect y="608.3" width="12" height="1.6" fill="#f0d245"/><rect y="609.3" width="12" height="2" fill="#d24429"/><rect y="610.7" width="12" height="2.1" fill="#d14028"/><rect y="612.2" width="12" height="1.7" fill="#d4492a"/><rect y="613.3" width="12" height="2.1" fill="#d3472a"/><rect y="614.8" width="12" height="2.5" fill="#d44a2b"/><rect y="616.8" width="12" height="2.7" fill="#d64f2c"/><rect y="618.9" width="12" height="2.1" fill="#d54e2b"/><rect y="620.4" width="12" height="2" fill="#efcf45"/><rect y="621.8" width="12" height="2.5" fill="#f0d346"/><rect y="623.7" width="12" height="2.7" fill="#eec543"/><rect y="625.8" width="12" height="2.9" fill="#eec743"/><rect y="628.1" width="12" height="2.4" fill="#eec443"/><rect y="629.9" width="12" height="2.9" fill="#edc042"/><rect y="632.2" width="12" height="2" fill="#efd145"/></g>
<g transform="translate(119.5 0)"><rect y="452.2" width="12" height="2.9" fill="#e48338"/><rect y="454.5" width="12" height="2" fill="#e17935"/><rect y="455.9" width="12" height="2.7" fill="#dd6a31"/><rect y="458.1" width="12" height="2" fill="#e48238"/><rect y="459.5" width="12" height="2" fill="#e27b36"/><rect y="460.9" width="12" height="1.9" fill="#d7552d"/><rect y="462.2" width="12" height="2.3" fill="#df7033"/><rect y="463.9" width="12" height="2.6" fill="#dc6630"/><rect y="465.9" width="12" height="2.9" fill="#db612f"/><rect y="468.2" width="12" height="2.2" fill="#da5d2e"/><rect y="469.8" width="12" height="2" fill="#dc6430"/><rect y="471.1" width="12" height="2.6" fill="#db6230"/><rect y="473.2" width="12" height="2.5" fill="#d95c2e"/><rect y="475.1" width="12" height="2.8" fill="#e17735"/><rect y="477.2" width="12" height="2.9" fill="#e07234"/><rect y="479.6" width="12" height="1.9" fill="#de6a32"/><rect y="480.9" width="12" height="2.7" fill="#de6c32"/><rect y="483" width="12" height="2.8" fill="#dd6931"/><rect y="485.2" width="12" height="2.5" fill="#e37f37"/><rect y="487.1" width="12" height="2.4" fill="#e38137"/><rect y="488.9" width="12" height="1.9" fill="#e48438"/><rect y="490.2" width="12" height="2.8" fill="#e38037"/><rect y="492.5" width="12" height="2.3" fill="#e27d36"/><rect y="494.2" width="12" height="1.4" fill="#db5f2f"/><rect y="495" width="12" height="2.6" fill="#e68a3a"/><rect y="497" width="12" height="2.3" fill="#e58839"/><rect y="498.6" width="12" height="2.1" fill="#de6e32"/><rect y="500.1" width="12" height="2.7" fill="#df7133"/><rect y="502.2" width="12" height="2.8" fill="#e07334"/><rect y="504.4" width="12" height="2.2" fill="#dc6430"/><rect y="506" width="12" height="2.1" fill="#dd6631"/><rect y="507.5" width="12" height="2.3" fill="#dc6430"/><rect y="509.1" width="12" height="2.9" fill="#f1dc4d"/><rect y="511.5" width="12" height="1.9" fill="#f1df51"/><rect y="512.8" width="12" height="2.3" fill="#e07434"/><rect y="514.5" width="12" height="2.9" fill="#e07434"/><rect y="516.8" width="12" height="2.1" fill="#e27a36"/><rect y="518.3" width="12" height="2.8" fill="#e17635"/><rect y="520.5" width="12" height="2.6" fill="#f0d949"/><rect y="522.4" width="12" height="1.9" fill="#f1dc4d"/><rect y="523.8" width="12" height="2.9" fill="#da5f2f"/><rect y="526.1" width="12" height="1.7" fill="#da5f2f"/><rect y="527.2" width="12" height="2" fill="#da5e2f"/><rect y="528.6" width="12" height="2.2" fill="#dc6430"/><rect y="530.2" width="12" height="1.8" fill="#e07234"/><rect y="531.4" width="12" height="3.7" fill="#e38237"/><rect y="534.5" width="12" height="2.1" fill="#f3ed61"/><rect y="536" width="12" height="2.7" fill="#f2e75a"/><rect y="538.1" width="12" height="2.5" fill="#f1e052"/><rect y="539.9" width="12" height="1.8" fill="#f1e052"/><rect y="541.1" width="12" height="2.1" fill="#f2e457"/><rect y="542.6" width="12" height="2.5" fill="#f2e85a"/><rect y="544.5" width="12" height="2.3" fill="#f2e75a"/><rect y="546.2" width="12" height="2.2" fill="#f2e85b"/><rect y="547.8" width="12" height="3" fill="#f0da4a"/><rect y="550.2" width="12" height="2" fill="#efc944"/><rect y="551.6" width="12" height="2.3" fill="#f2e254"/><rect y="553.3" width="12" height="1.9" fill="#f0d446"/><rect y="554.7" width="12" height="2.5" fill="#f3ee62"/><rect y="556.5" width="12" height="2.5" fill="#f1df51"/><rect y="558.4" width="12" height="1.7" fill="#f2e254"/><rect y="559.5" width="12" height="2.5" fill="#f2e75a"/><rect y="561.4" width="12" height="2.6" fill="#f2e254"/><rect y="563.3" width="12" height="2.9" fill="#f2e558"/><rect y="565.6" width="12" height="2.6" fill="#f2e456"/><rect y="567.6" width="12" height="1.8" fill="#f2e456"/><rect y="568.8" width="12" height="2.1" fill="#f1da4b"/><rect y="570.3" width="12" height="1.7" fill="#f2e457"/><rect y="571.4" width="12" height="1.7" fill="#f1e254"/><rect y="572.5" width="12" height="2.8" fill="#f2e456"/><rect y="574.7" width="12" height="2.9" fill="#f2ea5d"/><rect y="577.1" width="12" height="2.2" fill="#f2e659"/><rect y="578.6" width="12" height="1.8" fill="#f2e75a"/><rect y="579.8" width="12" height="2.6" fill="#f3ee62"/><rect y="581.8" width="12" height="1.9" fill="#f3ee62"/><rect y="583.1" width="12" height="1.9" fill="#f3ee62"/><rect y="584.4" width="12" height="2.8" fill="#f1de4f"/><rect y="586.6" width="12" height="2.8" fill="#f0d245"/><rect y="588.8" width="12" height="2.6" fill="#f0d747"/><rect y="590.7" width="12" height="2.8" fill="#f1dc4d"/><rect y="593" width="12" height="2.5" fill="#f1de4f"/><rect y="594.9" width="12" height="2.3" fill="#f1da4b"/><rect y="596.6" width="12" height="1.7" fill="#f0d949"/><rect y="597.7" width="12" height="2.6" fill="#f0d94a"/><rect y="599.7" width="12" height="2" fill="#f0da4b"/><rect y="601.1" width="12" height="2.2" fill="#f2e557"/><rect y="602.7" width="12" height="1.8" fill="#f1df50"/><rect y="603.9" width="12" height="2.8" fill="#f2e457"/><rect y="606.1" width="12" height="2.8" fill="#f0d848"/><rect y="608.3" width="12" height="1.6" fill="#f0d949"/><rect y="609.3" width="12" height="2" fill="#d54f2c"/><rect y="610.7" width="12" height="2.1" fill="#d8572d"/><rect y="612.2" width="12" height="1.7" fill="#d6522c"/><rect y="613.3" width="12" height="2.1" fill="#d7552d"/><rect y="614.8" width="12" height="2.5" fill="#d7562d"/><rect y="616.8" width="12" height="2.7" fill="#d7542d"/><rect y="618.9" width="12" height="2.1" fill="#d8582d"/><rect y="620.4" width="12" height="2" fill="#efce45"/><rect y="621.8" width="12" height="2.5" fill="#eec843"/><rect y="623.7" width="12" height="2.7" fill="#eec343"/><rect y="625.8" width="12" height="2.9" fill="#e99e3d"/><rect y="628.1" width="12" height="2.4" fill="#eaa73e"/><rect y="629.9" width="12" height="2.9" fill="#f0d848"/><rect y="632.2" width="12" height="2" fill="#f0d446"/></g>
<g transform="translate(130.9 0)"><rect y="452.2" width="12" height="2.9" fill="#e27b36"/><rect y="454.5" width="12" height="2" fill="#e07334"/><rect y="455.9" width="12" height="2.7" fill="#e17835"/><rect y="458.1" width="12" height="2" fill="#de6c32"/><rect y="459.5" width="12" height="2" fill="#dd6731"/><rect y="460.9" width="12" height="1.9" fill="#dd6731"/><rect y="462.2" width="12" height="2.3" fill="#de6b32"/><rect y="463.9" width="12" height="2.6" fill="#dd6831"/><rect y="465.9" width="12" height="2.9" fill="#df7033"/><rect y="468.2" width="12" height="2.2" fill="#dc6630"/><rect y="469.8" width="12" height="2" fill="#df6f33"/><rect y="471.1" width="12" height="2.6" fill="#de6c32"/><rect y="473.2" width="12" height="2.5" fill="#dd6a31"/><rect y="475.1" width="12" height="2.8" fill="#dd6731"/><rect y="477.2" width="12" height="2.9" fill="#df7033"/><rect y="479.6" width="12" height="1.9" fill="#de6c32"/><rect y="480.9" width="12" height="2.7" fill="#df7133"/><rect y="483" width="12" height="2.8" fill="#de6c32"/><rect y="485.2" width="12" height="2.5" fill="#dc6530"/><rect y="487.1" width="12" height="2.4" fill="#de6b32"/><rect y="488.9" width="12" height="1.9" fill="#d8592e"/><rect y="490.2" width="12" height="2.8" fill="#d8582e"/><rect y="492.5" width="12" height="2.3" fill="#d95a2e"/><rect y="494.2" width="12" height="1.4" fill="#db612f"/><rect y="495" width="12" height="2.6" fill="#da5e2f"/><rect y="497" width="12" height="2.3" fill="#ebaa3f"/><rect y="498.6" width="12" height="2.1" fill="#ebaa3f"/><rect y="500.1" width="12" height="2.7" fill="#d8582e"/><rect y="502.2" width="12" height="2.8" fill="#d7532c"/><rect y="504.4" width="12" height="2.2" fill="#e17935"/><rect y="506" width="12" height="2.1" fill="#df7233"/><rect y="507.5" width="12" height="2.3" fill="#de6d32"/><rect y="509.1" width="12" height="2.9" fill="#df6e33"/><rect y="511.5" width="12" height="1.9" fill="#dd6931"/><rect y="512.8" width="12" height="2.3" fill="#df6f33"/><rect y="514.5" width="12" height="2.9" fill="#df6f33"/><rect y="516.8" width="12" height="2.1" fill="#de6c32"/><rect y="518.3" width="12" height="2.8" fill="#df6e33"/><rect y="520.5" width="12" height="2.6" fill="#df7033"/><rect y="522.4" width="12" height="1.9" fill="#e17735"/><rect y="523.8" width="12" height="2.9" fill="#df6f33"/><rect y="526.1" width="12" height="1.7" fill="#e07534"/><rect y="527.2" width="12" height="2" fill="#d95b2e"/><rect y="528.6" width="12" height="2.2" fill="#d7532c"/><rect y="530.2" width="12" height="1.8" fill="#d8582e"/><rect y="531.4" width="12" height="3.7" fill="#da5d2f"/><rect y="534.5" width="12" height="2.1" fill="#f0da4a"/><rect y="536" width="12" height="2.7" fill="#f0d949"/><rect y="538.1" width="12" height="2.5" fill="#f3ed61"/><rect y="539.9" width="12" height="1.8" fill="#f2e659"/><rect y="541.1" width="12" height="2.1" fill="#f2e457"/><rect y="542.6" width="12" height="2.5" fill="#f1db4c"/><rect y="544.5" width="12" height="2.3" fill="#eec844"/><rect y="546.2" width="12" height="2.2" fill="#f2e558"/><rect y="547.8" width="12" height="3" fill="#f2e456"/><rect y="550.2" width="12" height="2" fill="#f1db4c"/><rect y="551.6" width="12" height="2.3" fill="#f0d748"/><rect y="553.3" width="12" height="1.9" fill="#efd145"/><rect y="554.7" width="12" height="2.5" fill="#f2e456"/><rect y="556.5" width="12" height="2.5" fill="#f2e659"/><rect y="558.4" width="12" height="1.7" fill="#f1e152"/><rect y="559.5" width="12" height="2.5" fill="#f2e85a"/><rect y="561.4" width="12" height="2.6" fill="#f1df50"/><rect y="563.3" width="12" height="2.9" fill="#f2e85b"/><rect y="565.6" width="12" height="2.6" fill="#f1da4b"/><rect y="567.6" width="12" height="1.8" fill="#f1db4c"/><rect y="568.8" width="12" height="2.1" fill="#f2e95c"/><rect y="570.3" width="12" height="1.7" fill="#f3ee62"/><rect y="571.4" width="12" height="1.7" fill="#f2e659"/><rect y="572.5" width="12" height="2.8" fill="#efca44"/><rect y="574.7" width="12" height="2.9" fill="#efcf45"/><rect y="577.1" width="12" height="2.2" fill="#efcd44"/><rect y="578.6" width="12" height="1.8" fill="#f0d245"/><rect y="579.8" width="12" height="2.6" fill="#efca44"/><rect y="581.8" width="12" height="1.9" fill="#eec743"/><rect y="583.1" width="12" height="1.9" fill="#f0d446"/><rect y="584.4" width="12" height="2.8" fill="#f0d446"/><rect y="586.6" width="12" height="2.8" fill="#f3ee62"/><rect y="588.8" width="12" height="2.6" fill="#f2e557"/><rect y="590.7" width="12" height="2.8" fill="#f2e658"/><rect y="593" width="12" height="2.5" fill="#f1e052"/><rect y="594.9" width="12" height="2.3" fill="#f3ea5e"/><rect y="596.6" width="12" height="1.7" fill="#f2e558"/><rect y="597.7" width="12" height="2.6" fill="#f2e658"/><rect y="599.7" width="12" height="2" fill="#efd145"/><rect y="601.1" width="12" height="2.2" fill="#f0d949"/><rect y="602.7" width="12" height="1.8" fill="#f1dc4d"/><rect y="603.9" width="12" height="2.8" fill="#f1e254"/><rect y="606.1" width="12" height="2.8" fill="#f2e658"/><rect y="608.3" width="12" height="1.6" fill="#efcb44"/><rect y="609.3" width="12" height="2" fill="#d7532c"/><rect y="610.7" width="12" height="2.1" fill="#d8562d"/><rect y="612.2" width="12" height="1.7" fill="#dc6530"/><rect y="613.3" width="12" height="2.1" fill="#dd6631"/><rect y="614.8" width="12" height="2.5" fill="#d8592e"/><rect y="616.8" width="12" height="2.7" fill="#db6230"/><rect y="618.9" width="12" height="2.1" fill="#d7532c"/><rect y="620.4" width="12" height="2" fill="#f0d748"/><rect y="621.8" width="12" height="2.5" fill="#efd245"/><rect y="623.7" width="12" height="2.7" fill="#edc042"/><rect y="625.8" width="12" height="2.9" fill="#eec443"/><rect y="628.1" width="12" height="2.4" fill="#efcd44"/><rect y="629.9" width="12" height="2.9" fill="#efcf45"/><rect y="632.2" width="12" height="2" fill="#efcd44"/></g>
<g transform="translate(142.3 0)"><rect y="452.2" width="12" height="2.9" fill="#e48438"/><rect y="454.5" width="12" height="2" fill="#e68b3a"/><rect y="455.9" width="12" height="2.7" fill="#e99d3d"/><rect y="458.1" width="12" height="2" fill="#e89c3c"/><rect y="459.5" width="12" height="2" fill="#e17735"/><rect y="460.9" width="12" height="1.9" fill="#de6d32"/><rect y="462.2" width="12" height="2.3" fill="#e07434"/><rect y="463.9" width="12" height="2.6" fill="#df7133"/><rect y="465.9" width="12" height="2.9" fill="#dd6931"/><rect y="468.2" width="12" height="2.2" fill="#d7532c"/><rect y="469.8" width="12" height="2" fill="#d7552d"/><rect y="471.1" width="12" height="2.6" fill="#d8592e"/><rect y="473.2" width="12" height="2.5" fill="#e68b3a"/><rect y="475.1" width="12" height="2.8" fill="#e68e3a"/><rect y="477.2" width="12" height="2.9" fill="#e58739"/><rect y="479.6" width="12" height="1.9" fill="#e68d3a"/><rect y="480.9" width="12" height="2.7" fill="#e78f3b"/><rect y="483" width="12" height="2.8" fill="#e37e37"/><rect y="485.2" width="12" height="2.5" fill="#e58a39"/><rect y="487.1" width="12" height="2.4" fill="#e37e37"/><rect y="488.9" width="12" height="1.9" fill="#e17935"/><rect y="490.2" width="12" height="2.8" fill="#e17a35"/><rect y="492.5" width="12" height="2.3" fill="#e17735"/><rect y="494.2" width="12" height="1.4" fill="#e17935"/><rect y="495" width="12" height="2.6" fill="#efcb44"/><rect y="497" width="12" height="2.3" fill="#efca44"/><rect y="498.6" width="12" height="2.1" fill="#eec643"/><rect y="500.1" width="12" height="2.7" fill="#eec843"/><rect y="502.2" width="12" height="2.8" fill="#eec343"/><rect y="504.4" width="12" height="2.2" fill="#df6f33"/><rect y="506" width="12" height="2.1" fill="#eaa73e"/><rect y="507.5" width="12" height="2.3" fill="#de6d32"/><rect y="509.1" width="12" height="2.9" fill="#e07534"/><rect y="511.5" width="12" height="1.9" fill="#df6f33"/><rect y="512.8" width="12" height="2.3" fill="#df6f33"/><rect y="514.5" width="12" height="2.9" fill="#df6f33"/><rect y="516.8" width="12" height="2.1" fill="#e38037"/><rect y="518.3" width="12" height="2.8" fill="#dc6430"/><rect y="520.5" width="12" height="2.6" fill="#dd6631"/><rect y="522.4" width="12" height="1.9" fill="#dc6530"/><rect y="523.8" width="12" height="2.9" fill="#e17735"/><rect y="526.1" width="12" height="1.7" fill="#e27d36"/><rect y="527.2" width="12" height="2" fill="#e17935"/><rect y="528.6" width="12" height="2.2" fill="#e58a39"/><rect y="530.2" width="12" height="1.8" fill="#e48438"/><rect y="531.4" width="12" height="3.7" fill="#e07334"/><rect y="534.5" width="12" height="2.1" fill="#efcb44"/><rect y="536" width="12" height="2.7" fill="#f0d346"/><rect y="538.1" width="12" height="2.5" fill="#f0d245"/><rect y="539.9" width="12" height="1.8" fill="#efd145"/><rect y="541.1" width="12" height="2.1" fill="#f2e456"/><rect y="542.6" width="12" height="2.5" fill="#f2e355"/><rect y="544.5" width="12" height="2.3" fill="#f1df50"/><rect y="546.2" width="12" height="2.2" fill="#f1de4f"/><rect y="547.8" width="12" height="3" fill="#f0d94a"/><rect y="550.2" width="12" height="2" fill="#f0d546"/><rect y="551.6" width="12" height="2.3" fill="#f1e052"/><rect y="553.3" width="12" height="1.9" fill="#f2e456"/><rect y="554.7" width="12" height="2.5" fill="#f1e153"/><rect y="556.5" width="12" height="2.5" fill="#f2e659"/><rect y="558.4" width="12" height="1.7" fill="#efcd44"/><rect y="559.5" width="12" height="2.5" fill="#efc944"/><rect y="561.4" width="12" height="2.6" fill="#efcb44"/><rect y="563.3" width="12" height="2.9" fill="#efcd44"/><rect y="565.6" width="12" height="2.6" fill="#efcc44"/><rect y="567.6" width="12" height="1.8" fill="#f0d245"/><rect y="568.8" width="12" height="2.1" fill="#f3eb5e"/><rect y="570.3" width="12" height="1.7" fill="#f1dc4d"/><rect y="571.4" width="12" height="1.7" fill="#f0d747"/><rect y="572.5" width="12" height="2.8" fill="#efcd44"/><rect y="574.7" width="12" height="2.9" fill="#f0d949"/><rect y="577.1" width="12" height="2.2" fill="#f0da4a"/><rect y="578.6" width="12" height="1.8" fill="#f1da4b"/><rect y="579.8" width="12" height="2.6" fill="#f0d647"/><rect y="581.8" width="12" height="1.9" fill="#f0d647"/><rect y="583.1" width="12" height="1.9" fill="#f1da4b"/><rect y="584.4" width="12" height="2.8" fill="#f1dc4d"/><rect y="586.6" width="12" height="2.8" fill="#f0d849"/><rect y="588.8" width="12" height="2.6" fill="#f2e759"/><rect y="590.7" width="12" height="2.8" fill="#f2ea5d"/><rect y="593" width="12" height="2.5" fill="#f3ed61"/><rect y="594.9" width="12" height="2.3" fill="#f3ed61"/><rect y="596.6" width="12" height="1.7" fill="#f2e95c"/><rect y="597.7" width="12" height="2.6" fill="#f3ee62"/><rect y="599.7" width="12" height="2" fill="#f1df51"/><rect y="601.1" width="12" height="2.2" fill="#f1df50"/><rect y="602.7" width="12" height="1.8" fill="#f0d949"/><rect y="603.9" width="12" height="2.8" fill="#f0d747"/><rect y="606.1" width="12" height="2.8" fill="#f2e355"/><rect y="608.3" width="12" height="1.6" fill="#f1e051"/><rect y="609.3" width="12" height="2" fill="#db6230"/><rect y="610.7" width="12" height="2.1" fill="#da5c2e"/><rect y="612.2" width="12" height="1.7" fill="#dc6430"/><rect y="613.3" width="12" height="2.1" fill="#dc6330"/><rect y="614.8" width="12" height="2.5" fill="#d6502c"/><rect y="616.8" width="12" height="2.7" fill="#d7532d"/><rect y="618.9" width="12" height="2.1" fill="#d8582d"/><rect y="620.4" width="12" height="2" fill="#f0d546"/><rect y="621.8" width="12" height="2.5" fill="#f0d94a"/><rect y="623.7" width="12" height="2.7" fill="#efd045"/><rect y="625.8" width="12" height="2.9" fill="#f0d949"/><rect y="628.1" width="12" height="2.4" fill="#edc042"/><rect y="629.9" width="12" height="2.9" fill="#efcf45"/><rect y="632.2" width="12" height="2" fill="#efd045"/></g>
<g transform="translate(153.7 0)"><rect y="452.2" width="12" height="2.9" fill="#e07534"/><rect y="454.5" width="12" height="2" fill="#e17835"/><rect y="455.9" width="12" height="2.7" fill="#e17835"/><rect y="458.1" width="12" height="2" fill="#e38137"/><rect y="459.5" width="12" height="2" fill="#e89c3c"/><rect y="460.9" width="12" height="1.9" fill="#e9a03d"/><rect y="462.2" width="12" height="2.3" fill="#e9a33d"/><rect y="463.9" width="12" height="2.6" fill="#e9a13d"/><rect y="465.9" width="12" height="2.9" fill="#eaa43e"/><rect y="468.2" width="12" height="2.2" fill="#e99d3d"/><rect y="469.8" width="12" height="2" fill="#e9a23d"/><rect y="471.1" width="12" height="2.6" fill="#dd6a31"/><rect y="473.2" width="12" height="2.5" fill="#e58939"/><rect y="475.1" width="12" height="2.8" fill="#e48438"/><rect y="477.2" width="12" height="2.9" fill="#e07234"/><rect y="479.6" width="12" height="1.9" fill="#e27b36"/><rect y="480.9" width="12" height="2.7" fill="#e17935"/><rect y="483" width="12" height="2.8" fill="#ecb640"/><rect y="485.2" width="12" height="2.5" fill="#ecb540"/><rect y="487.1" width="12" height="2.4" fill="#ebae3f"/><rect y="488.9" width="12" height="1.9" fill="#e89b3c"/><rect y="490.2" width="12" height="2.8" fill="#e17935"/><rect y="492.5" width="12" height="2.3" fill="#e17735"/><rect y="494.2" width="12" height="1.4" fill="#e17735"/><rect y="495" width="12" height="2.6" fill="#dd6631"/><rect y="497" width="12" height="2.3" fill="#e38137"/><rect y="498.6" width="12" height="2.1" fill="#e27d36"/><rect y="500.1" width="12" height="2.7" fill="#e07534"/><rect y="502.2" width="12" height="2.8" fill="#e07434"/><rect y="504.4" width="12" height="2.2" fill="#e17a35"/><rect y="506" width="12" height="2.1" fill="#e27a36"/><rect y="507.5" width="12" height="2.3" fill="#e27b36"/><rect y="509.1" width="12" height="2.9" fill="#e27c36"/><rect y="511.5" width="12" height="1.9" fill="#e8963c"/><rect y="512.8" width="12" height="2.3" fill="#e8983c"/><rect y="514.5" width="12" height="2.9" fill="#e58639"/><rect y="516.8" width="12" height="2.1" fill="#e48338"/><rect y="518.3" width="12" height="2.8" fill="#e68d3a"/><rect y="520.5" width="12" height="2.6" fill="#e68f3a"/><rect y="522.4" width="12" height="1.9" fill="#e58a39"/><rect y="523.8" width="12" height="2.9" fill="#e58739"/><rect y="526.1" width="12" height="1.7" fill="#e48638"/><rect y="527.2" width="12" height="2" fill="#e48538"/><rect y="528.6" width="12" height="2.2" fill="#e58739"/><rect y="530.2" width="12" height="1.8" fill="#e68f3a"/><rect y="531.4" width="12" height="3.7" fill="#e17a35"/><rect y="534.5" width="12" height="2.1" fill="#f3eb5e"/><rect y="536" width="12" height="2.7" fill="#f2e456"/><rect y="538.1" width="12" height="2.5" fill="#f1e052"/><rect y="539.9" width="12" height="1.8" fill="#f0d748"/><rect y="541.1" width="12" height="2.1" fill="#f3ee62"/><rect y="542.6" width="12" height="2.5" fill="#efca44"/><rect y="544.5" width="12" height="2.3" fill="#eec142"/><rect y="546.2" width="12" height="2.2" fill="#eec843"/><rect y="547.8" width="12" height="3" fill="#eec944"/><rect y="550.2" width="12" height="2" fill="#efcf45"/><rect y="551.6" width="12" height="2.3" fill="#f2e558"/><rect y="553.3" width="12" height="1.9" fill="#f3eb5f"/><rect y="554.7" width="12" height="2.5" fill="#f3ed61"/><rect y="556.5" width="12" height="2.5" fill="#f3ea5e"/><rect y="558.4" width="12" height="1.7" fill="#f2ea5d"/><rect y="559.5" width="12" height="2.5" fill="#f2e254"/><rect y="561.4" width="12" height="2.6" fill="#f2e75a"/><rect y="563.3" width="12" height="2.9" fill="#f2e355"/><rect y="565.6" width="12" height="2.6" fill="#f1e254"/><rect y="567.6" width="12" height="1.8" fill="#f1de50"/><rect y="568.8" width="12" height="2.1" fill="#f1de4f"/><rect y="570.3" width="12" height="1.7" fill="#f2e355"/><rect y="571.4" width="12" height="1.7" fill="#f1dd4e"/><rect y="572.5" width="12" height="2.8" fill="#f0d747"/><rect y="574.7" width="12" height="2.9" fill="#f2e457"/><rect y="577.1" width="12" height="2.2" fill="#f2e558"/><rect y="578.6" width="12" height="1.8" fill="#f0d446"/><rect y="579.8" width="12" height="2.6" fill="#efcf45"/><rect y="581.8" width="12" height="1.9" fill="#f2e75a"/><rect y="583.1" width="12" height="1.9" fill="#f2e558"/><rect y="584.4" width="12" height="2.8" fill="#f2e456"/><rect y="586.6" width="12" height="2.8" fill="#f2e95c"/><rect y="588.8" width="12" height="2.6" fill="#f2e75a"/><rect y="590.7" width="12" height="2.8" fill="#f2e95c"/><rect y="593" width="12" height="2.5" fill="#f1df50"/><rect y="594.9" width="12" height="2.3" fill="#f2e355"/><rect y="596.6" width="12" height="1.7" fill="#f1e153"/><rect y="597.7" width="12" height="2.6" fill="#f2e456"/><rect y="599.7" width="12" height="2" fill="#f2e456"/><rect y="601.1" width="12" height="2.2" fill="#f1e254"/><rect y="602.7" width="12" height="1.8" fill="#efd145"/><rect y="603.9" width="12" height="2.8" fill="#f0d647"/><rect y="606.1" width="12" height="2.8" fill="#f0d646"/><rect y="608.3" width="12" height="1.6" fill="#efd145"/><rect y="609.3" width="12" height="2" fill="#db602f"/><rect y="610.7" width="12" height="2.1" fill="#da5d2f"/><rect y="612.2" width="12" height="1.7" fill="#da5e2f"/><rect y="613.3" width="12" height="2.1" fill="#d95c2e"/><rect y="614.8" width="12" height="2.5" fill="#da5e2f"/><rect y="616.8" width="12" height="2.7" fill="#d8592e"/><rect y="618.9" width="12" height="2.1" fill="#da5c2e"/><rect y="620.4" width="12" height="2" fill="#ecb240"/><rect y="621.8" width="12" height="2.5" fill="#efcf45"/><rect y="623.7" width="12" height="2.7" fill="#eec944"/><rect y="625.8" width="12" height="2.9" fill="#efcc44"/><rect y="628.1" width="12" height="2.4" fill="#eec543"/><rect y="629.9" width="12" height="2.9" fill="#efcd44"/><rect y="632.2" width="12" height="2" fill="#eec142"/></g>
<g transform="translate(165.1 0)"><rect y="452.2" width="12" height="2.9" fill="#f1dd4e"/><rect y="454.5" width="12" height="2" fill="#f1dc4d"/><rect y="455.9" width="12" height="2.7" fill="#f1dc4d"/><rect y="458.1" width="12" height="2" fill="#f0d849"/><rect y="459.5" width="12" height="2" fill="#f1df51"/><rect y="460.9" width="12" height="1.9" fill="#f0da4a"/><rect y="462.2" width="12" height="2.3" fill="#f1e153"/><rect y="463.9" width="12" height="2.6" fill="#f0d94a"/><rect y="465.9" width="12" height="2.9" fill="#f0d245"/><rect y="468.2" width="12" height="2.2" fill="#efce45"/><rect y="469.8" width="12" height="2" fill="#f0d747"/><rect y="471.1" width="12" height="2.6" fill="#f0d245"/><rect y="473.2" width="12" height="2.5" fill="#f0d747"/><rect y="475.1" width="12" height="2.8" fill="#f0d546"/><rect y="477.2" width="12" height="2.9" fill="#efca44"/><rect y="479.6" width="12" height="1.9" fill="#efcf45"/><rect y="480.9" width="12" height="2.7" fill="#efce45"/><rect y="483" width="12" height="2.8" fill="#efca44"/><rect y="485.2" width="12" height="2.5" fill="#efce45"/><rect y="487.1" width="12" height="2.4" fill="#f1dc4d"/><rect y="488.9" width="12" height="1.9" fill="#f0d646"/><rect y="490.2" width="12" height="2.8" fill="#f0d647"/><rect y="492.5" width="12" height="2.3" fill="#f0d346"/><rect y="494.2" width="12" height="1.4" fill="#f0d94a"/><rect y="495" width="12" height="2.6" fill="#f0d346"/><rect y="497" width="12" height="2.3" fill="#f1db4c"/><rect y="498.6" width="12" height="2.1" fill="#f1dc4d"/><rect y="500.1" width="12" height="2.7" fill="#f0d848"/><rect y="502.2" width="12" height="2.8" fill="#f0d446"/><rect y="504.4" width="12" height="2.2" fill="#f0da4b"/><rect y="506" width="12" height="2.1" fill="#f0d345"/><rect y="507.5" width="12" height="2.3" fill="#f0d646"/><rect y="509.1" width="12" height="2.9" fill="#f1db4c"/><rect y="511.5" width="12" height="1.9" fill="#f0d94a"/><rect y="512.8" width="12" height="2.3" fill="#f0d747"/><rect y="514.5" width="12" height="2.9" fill="#f0d646"/><rect y="516.8" width="12" height="2.1" fill="#f0d446"/><rect y="518.3" width="12" height="2.8" fill="#f1df50"/><rect y="520.5" width="12" height="2.6" fill="#f1dc4d"/><rect y="522.4" width="12" height="1.9" fill="#f1e052"/><rect y="523.8" width="12" height="2.9" fill="#f1da4b"/><rect y="526.1" width="12" height="1.7" fill="#f1e153"/><rect y="527.2" width="12" height="2" fill="#f1df51"/><rect y="528.6" width="12" height="2.2" fill="#f2e95d"/><rect y="530.2" width="12" height="1.8" fill="#f1e153"/><rect y="531.4" width="12" height="3.7" fill="#f1de4f"/><rect y="534.5" width="12" height="2.1" fill="#d95a2e"/><rect y="536" width="12" height="2.7" fill="#da5f2f"/><rect y="538.1" width="12" height="2.5" fill="#e17835"/><rect y="539.9" width="12" height="1.8" fill="#e27b36"/><rect y="541.1" width="12" height="2.1" fill="#dc6530"/><rect y="542.6" width="12" height="2.5" fill="#db612f"/><rect y="544.5" width="12" height="2.3" fill="#dd6731"/><rect y="546.2" width="12" height="2.2" fill="#df7133"/><rect y="547.8" width="12" height="3" fill="#e07434"/><rect y="550.2" width="12" height="2" fill="#df6e33"/><rect y="551.6" width="12" height="2.3" fill="#df7033"/><rect y="553.3" width="12" height="1.9" fill="#de6d32"/><rect y="554.7" width="12" height="2.5" fill="#df7133"/><rect y="556.5" width="12" height="2.5" fill="#e07234"/><rect y="558.4" width="12" height="1.7" fill="#df7133"/><rect y="559.5" width="12" height="2.5" fill="#de6c32"/><rect y="561.4" width="12" height="2.6" fill="#de6c32"/><rect y="563.3" width="12" height="2.9" fill="#e48638"/><rect y="565.6" width="12" height="2.6" fill="#e38037"/><rect y="567.6" width="12" height="1.8" fill="#db612f"/><rect y="568.8" width="12" height="2.1" fill="#d95b2e"/><rect y="570.3" width="12" height="1.7" fill="#da5d2e"/><rect y="571.4" width="12" height="1.7" fill="#db602f"/><rect y="572.5" width="12" height="2.8" fill="#da5e2f"/><rect y="574.7" width="12" height="2.9" fill="#db6230"/><rect y="577.1" width="12" height="2.2" fill="#da5e2f"/><rect y="578.6" width="12" height="1.8" fill="#dc6530"/><rect y="579.8" width="12" height="2.6" fill="#db612f"/><rect y="581.8" width="12" height="1.9" fill="#da5e2f"/><rect y="583.1" width="12" height="1.9" fill="#db612f"/><rect y="584.4" width="12" height="2.8" fill="#db602f"/><rect y="586.6" width="12" height="2.8" fill="#dc6330"/><rect y="588.8" width="12" height="2.6" fill="#db612f"/><rect y="590.7" width="12" height="2.8" fill="#db602f"/><rect y="593" width="12" height="2.5" fill="#db602f"/><rect y="594.9" width="12" height="2.3" fill="#dc6330"/><rect y="596.6" width="12" height="1.7" fill="#e07334"/><rect y="597.7" width="12" height="2.6" fill="#de6e32"/><rect y="599.7" width="12" height="2" fill="#de6c32"/><rect y="601.1" width="12" height="2.2" fill="#df7233"/><rect y="602.7" width="12" height="1.8" fill="#de6b32"/><rect y="603.9" width="12" height="2.8" fill="#de6a32"/><rect y="606.1" width="12" height="2.8" fill="#df6f33"/><rect y="608.3" width="12" height="1.6" fill="#dd6931"/><rect y="609.3" width="12" height="2" fill="#efca44"/><rect y="610.7" width="12" height="2.1" fill="#f1db4c"/><rect y="612.2" width="12" height="1.7" fill="#eec343"/><rect y="613.3" width="12" height="2.1" fill="#f0d949"/><rect y="614.8" width="12" height="2.5" fill="#efcb44"/><rect y="616.8" width="12" height="2.7" fill="#eec743"/><rect y="618.9" width="12" height="2.1" fill="#f0d446"/><rect y="620.4" width="12" height="2" fill="#df7233"/><rect y="621.8" width="12" height="2.5" fill="#db612f"/><rect y="623.7" width="12" height="2.7" fill="#df7233"/><rect y="625.8" width="12" height="2.9" fill="#de6a32"/><rect y="628.1" width="12" height="2.4" fill="#df6f33"/><rect y="629.9" width="12" height="2.9" fill="#e27b36"/><rect y="632.2" width="12" height="2" fill="#dd6731"/></g>
<g transform="translate(176.5 0)"><rect y="452.2" width="12" height="2.9" fill="#f1db4c"/><rect y="454.5" width="12" height="2" fill="#f2e658"/><rect y="455.9" width="12" height="2.7" fill="#f1dc4d"/><rect y="458.1" width="12" height="2" fill="#f1de50"/><rect y="459.5" width="12" height="2" fill="#f0d849"/><rect y="460.9" width="12" height="1.9" fill="#efcc44"/><rect y="462.2" width="12" height="2.3" fill="#f0d646"/><rect y="463.9" width="12" height="2.6" fill="#f0d848"/><rect y="465.9" width="12" height="2.9" fill="#f0d94a"/><rect y="468.2" width="12" height="2.2" fill="#efce45"/><rect y="469.8" width="12" height="2" fill="#f1dc4c"/><rect y="471.1" width="12" height="2.6" fill="#f1db4c"/><rect y="473.2" width="12" height="2.5" fill="#f0d446"/><rect y="475.1" width="12" height="2.8" fill="#f0d546"/><rect y="477.2" width="12" height="2.9" fill="#efca44"/><rect y="479.6" width="12" height="1.9" fill="#efd045"/><rect y="480.9" width="12" height="2.7" fill="#f0d446"/><rect y="483" width="12" height="2.8" fill="#f0d646"/><rect y="485.2" width="12" height="2.5" fill="#f1db4c"/><rect y="487.1" width="12" height="2.4" fill="#f1df51"/><rect y="488.9" width="12" height="1.9" fill="#f1db4c"/><rect y="490.2" width="12" height="2.8" fill="#f1dd4e"/><rect y="492.5" width="12" height="2.3" fill="#f0d646"/><rect y="494.2" width="12" height="1.4" fill="#f0d446"/><rect y="495" width="12" height="2.6" fill="#f0d848"/><rect y="497" width="12" height="2.3" fill="#f0da4b"/><rect y="498.6" width="12" height="2.1" fill="#f0d747"/><rect y="500.1" width="12" height="2.7" fill="#efd145"/><rect y="502.2" width="12" height="2.8" fill="#efcb44"/><rect y="504.4" width="12" height="2.2" fill="#f0d747"/><rect y="506" width="12" height="2.1" fill="#f2e355"/><rect y="507.5" width="12" height="2.3" fill="#f1dd4f"/><rect y="509.1" width="12" height="2.9" fill="#f0d94a"/><rect y="511.5" width="12" height="1.9" fill="#f1dc4d"/><rect y="512.8" width="12" height="2.3" fill="#f1df50"/><rect y="514.5" width="12" height="2.9" fill="#f1e152"/><rect y="516.8" width="12" height="2.1" fill="#f1db4c"/><rect y="518.3" width="12" height="2.8" fill="#f1dc4d"/><rect y="520.5" width="12" height="2.6" fill="#f1e153"/><rect y="522.4" width="12" height="1.9" fill="#f1de4f"/><rect y="523.8" width="12" height="2.9" fill="#f0d949"/><rect y="526.1" width="12" height="1.7" fill="#f0d747"/><rect y="527.2" width="12" height="2" fill="#f0da4a"/><rect y="528.6" width="12" height="2.2" fill="#f1e052"/><rect y="530.2" width="12" height="1.8" fill="#f1df51"/><rect y="531.4" width="12" height="3.7" fill="#f1df50"/><rect y="534.5" width="12" height="2.1" fill="#de6c32"/><rect y="536" width="12" height="2.7" fill="#dd6931"/><rect y="538.1" width="12" height="2.5" fill="#dc6330"/><rect y="539.9" width="12" height="1.8" fill="#dd6731"/><rect y="541.1" width="12" height="2.1" fill="#dc6530"/><rect y="542.6" width="12" height="2.5" fill="#dd6931"/><rect y="544.5" width="12" height="2.3" fill="#dd6931"/><rect y="546.2" width="12" height="2.2" fill="#dd6831"/><rect y="547.8" width="12" height="3" fill="#dd6831"/><rect y="550.2" width="12" height="2" fill="#df7033"/><rect y="551.6" width="12" height="2.3" fill="#e17935"/><rect y="553.3" width="12" height="1.9" fill="#df7033"/><rect y="554.7" width="12" height="2.5" fill="#df6e33"/><rect y="556.5" width="12" height="2.5" fill="#df6f33"/><rect y="558.4" width="12" height="1.7" fill="#df6f33"/><rect y="559.5" width="12" height="2.5" fill="#e07534"/><rect y="561.4" width="12" height="2.6" fill="#d8572d"/><rect y="563.3" width="12" height="2.9" fill="#d8572d"/><rect y="565.6" width="12" height="2.6" fill="#dd6931"/><rect y="567.6" width="12" height="1.8" fill="#df7033"/><rect y="568.8" width="12" height="2.1" fill="#dd6731"/><rect y="570.3" width="12" height="1.7" fill="#df7133"/><rect y="571.4" width="12" height="1.7" fill="#de6d32"/><rect y="572.5" width="12" height="2.8" fill="#e07434"/><rect y="574.7" width="12" height="2.9" fill="#df6f33"/><rect y="577.1" width="12" height="2.2" fill="#e37e37"/><rect y="578.6" width="12" height="1.8" fill="#e27d36"/><rect y="579.8" width="12" height="2.6" fill="#e27a36"/><rect y="581.8" width="12" height="1.9" fill="#e27b36"/><rect y="583.1" width="12" height="1.9" fill="#db6230"/><rect y="584.4" width="12" height="2.8" fill="#e07634"/><rect y="586.6" width="12" height="2.8" fill="#e07434"/><rect y="588.8" width="12" height="2.6" fill="#e17835"/><rect y="590.7" width="12" height="2.8" fill="#de6b32"/><rect y="593" width="12" height="2.5" fill="#e07234"/><rect y="594.9" width="12" height="2.3" fill="#df6f33"/><rect y="596.6" width="12" height="1.7" fill="#dc6330"/><rect y="597.7" width="12" height="2.6" fill="#de6b32"/><rect y="599.7" width="12" height="2" fill="#dd6831"/><rect y="601.1" width="12" height="2.2" fill="#de6c32"/><rect y="602.7" width="12" height="1.8" fill="#de6c32"/><rect y="603.9" width="12" height="2.8" fill="#de6d32"/><rect y="606.1" width="12" height="2.8" fill="#dc6430"/><rect y="608.3" width="12" height="1.6" fill="#dc6430"/><rect y="609.3" width="12" height="2" fill="#f1df51"/><rect y="610.7" width="12" height="2.1" fill="#f1dd4e"/><rect y="612.2" width="12" height="1.7" fill="#f1df50"/><rect y="613.3" width="12" height="2.1" fill="#f1dc4d"/><rect y="614.8" width="12" height="2.5" fill="#f1de50"/><rect y="616.8" width="12" height="2.7" fill="#f1dc4d"/><rect y="618.9" width="12" height="2.1" fill="#f1da4b"/><rect y="620.4" width="12" height="2" fill="#e38237"/><rect y="621.8" width="12" height="2.5" fill="#e38237"/><rect y="623.7" width="12" height="2.7" fill="#e48238"/><rect y="625.8" width="12" height="2.9" fill="#e48338"/><rect y="628.1" width="12" height="2.4" fill="#e27d36"/><rect y="629.9" width="12" height="2.9" fill="#e27c36"/><rect y="632.2" width="12" height="2" fill="#e07334"/></g>
<g transform="translate(187.9 0)"><rect y="452.2" width="12" height="2.9" fill="#f0d94a"/><rect y="454.5" width="12" height="2" fill="#f1db4c"/><rect y="455.9" width="12" height="2.7" fill="#f0d848"/><rect y="458.1" width="12" height="2" fill="#f1dc4d"/><rect y="459.5" width="12" height="2" fill="#f1db4b"/><rect y="460.9" width="12" height="1.9" fill="#efce45"/><rect y="462.2" width="12" height="2.3" fill="#f0d646"/><rect y="463.9" width="12" height="2.6" fill="#f0d949"/><rect y="465.9" width="12" height="2.9" fill="#f0d747"/><rect y="468.2" width="12" height="2.2" fill="#f0d747"/><rect y="469.8" width="12" height="2" fill="#efd245"/><rect y="471.1" width="12" height="2.6" fill="#eec844"/><rect y="473.2" width="12" height="2.5" fill="#f0d546"/><rect y="475.1" width="12" height="2.8" fill="#f0d848"/><rect y="477.2" width="12" height="2.9" fill="#efd145"/><rect y="479.6" width="12" height="1.9" fill="#f0d747"/><rect y="480.9" width="12" height="2.7" fill="#f0d245"/><rect y="483" width="12" height="2.8" fill="#f0d94a"/><rect y="485.2" width="12" height="2.5" fill="#f0d446"/><rect y="487.1" width="12" height="2.4" fill="#f1da4b"/><rect y="488.9" width="12" height="1.9" fill="#f0d747"/><rect y="490.2" width="12" height="2.8" fill="#eec944"/><rect y="492.5" width="12" height="2.3" fill="#f0d446"/><rect y="494.2" width="12" height="1.4" fill="#f0d747"/><rect y="495" width="12" height="2.6" fill="#f0d245"/><rect y="497" width="12" height="2.3" fill="#f1dd4e"/><rect y="498.6" width="12" height="2.1" fill="#f0d848"/><rect y="500.1" width="12" height="2.7" fill="#f0d94a"/><rect y="502.2" width="12" height="2.8" fill="#efd245"/><rect y="504.4" width="12" height="2.2" fill="#f0d848"/><rect y="506" width="12" height="2.1" fill="#efcf45"/><rect y="507.5" width="12" height="2.3" fill="#f0d848"/><rect y="509.1" width="12" height="2.9" fill="#efcf45"/><rect y="511.5" width="12" height="1.9" fill="#f0d747"/><rect y="512.8" width="12" height="2.3" fill="#f0d747"/><rect y="514.5" width="12" height="2.9" fill="#efce45"/><rect y="516.8" width="12" height="2.1" fill="#f0d546"/><rect y="518.3" width="12" height="2.8" fill="#f0d446"/><rect y="520.5" width="12" height="2.6" fill="#efca44"/><rect y="522.4" width="12" height="1.9" fill="#f0da4a"/><rect y="523.8" width="12" height="2.9" fill="#f1dc4d"/><rect y="526.1" width="12" height="1.7" fill="#f0d747"/><rect y="527.2" width="12" height="2" fill="#f0d245"/><rect y="528.6" width="12" height="2.2" fill="#f0d94a"/><rect y="530.2" width="12" height="1.8" fill="#f0d849"/><rect y="531.4" width="12" height="3.7" fill="#efd145"/><rect y="534.5" width="12" height="2.1" fill="#de6b32"/><rect y="536" width="12" height="2.7" fill="#df7033"/><rect y="538.1" width="12" height="2.5" fill="#de6e32"/><rect y="539.9" width="12" height="1.8" fill="#e27c36"/><rect y="541.1" width="12" height="2.1" fill="#df7233"/><rect y="542.6" width="12" height="2.5" fill="#df7233"/><rect y="544.5" width="12" height="2.3" fill="#e17835"/><rect y="546.2" width="12" height="2.2" fill="#e17935"/><rect y="547.8" width="12" height="3" fill="#e17a35"/><rect y="550.2" width="12" height="2" fill="#e38137"/><rect y="551.6" width="12" height="2.3" fill="#dc6430"/><rect y="553.3" width="12" height="1.9" fill="#e48538"/><rect y="554.7" width="12" height="2.5" fill="#e37f37"/><rect y="556.5" width="12" height="2.5" fill="#e48438"/><rect y="558.4" width="12" height="1.7" fill="#e38137"/><rect y="559.5" width="12" height="2.5" fill="#de6c32"/><rect y="561.4" width="12" height="2.6" fill="#dd6931"/><rect y="563.3" width="12" height="2.9" fill="#de6e32"/><rect y="565.6" width="12" height="2.6" fill="#de6c32"/><rect y="567.6" width="12" height="1.8" fill="#de6d32"/><rect y="568.8" width="12" height="2.1" fill="#e07434"/><rect y="570.3" width="12" height="1.7" fill="#e07534"/><rect y="571.4" width="12" height="1.7" fill="#dd6931"/><rect y="572.5" width="12" height="2.8" fill="#dd6a31"/><rect y="574.7" width="12" height="2.9" fill="#de6c32"/><rect y="577.1" width="12" height="2.2" fill="#de6c32"/><rect y="578.6" width="12" height="1.8" fill="#da5f2f"/><rect y="579.8" width="12" height="2.6" fill="#dc6330"/><rect y="581.8" width="12" height="1.9" fill="#e27b36"/><rect y="583.1" width="12" height="1.9" fill="#e27d36"/><rect y="584.4" width="12" height="2.8" fill="#dd6731"/><rect y="586.6" width="12" height="2.8" fill="#de6a32"/><rect y="588.8" width="12" height="2.6" fill="#de6d32"/><rect y="590.7" width="12" height="2.8" fill="#dc6530"/><rect y="593" width="12" height="2.5" fill="#dc6530"/><rect y="594.9" width="12" height="2.3" fill="#dc6430"/><rect y="596.6" width="12" height="1.7" fill="#de6c32"/><rect y="597.7" width="12" height="2.6" fill="#de6b32"/><rect y="599.7" width="12" height="2" fill="#dd6931"/><rect y="601.1" width="12" height="2.2" fill="#df7133"/><rect y="602.7" width="12" height="1.8" fill="#e17935"/><rect y="603.9" width="12" height="2.8" fill="#dc6530"/><rect y="606.1" width="12" height="2.8" fill="#df7033"/><rect y="608.3" width="12" height="1.6" fill="#de6d32"/><rect y="609.3" width="12" height="2" fill="#efd045"/><rect y="610.7" width="12" height="2.1" fill="#efcf45"/><rect y="612.2" width="12" height="1.7" fill="#f0d849"/><rect y="613.3" width="12" height="2.1" fill="#f0d747"/><rect y="614.8" width="12" height="2.5" fill="#f0d748"/><rect y="616.8" width="12" height="2.7" fill="#efcc44"/><rect y="618.9" width="12" height="2.1" fill="#eec643"/><rect y="620.4" width="12" height="2" fill="#de6d32"/><rect y="621.8" width="12" height="2.5" fill="#e07334"/><rect y="623.7" width="12" height="2.7" fill="#e17635"/><rect y="625.8" width="12" height="2.9" fill="#de6b32"/><rect y="628.1" width="12" height="2.4" fill="#e58839"/><rect y="629.9" width="12" height="2.9" fill="#e27a36"/><rect y="632.2" width="12" height="2" fill="#e27d36"/></g>
<g transform="translate(199.3 0)"><rect y="452.2" width="12" height="2.9" fill="#f0d848"/><rect y="454.5" width="12" height="2" fill="#f0d848"/><rect y="455.9" width="12" height="2.7" fill="#f0d446"/><rect y="458.1" width="12" height="2" fill="#f0d646"/><rect y="459.5" width="12" height="2" fill="#f0d949"/><rect y="460.9" width="12" height="1.9" fill="#f1dc4d"/><rect y="462.2" width="12" height="2.3" fill="#f0d446"/><rect y="463.9" width="12" height="2.6" fill="#f1dc4d"/><rect y="465.9" width="12" height="2.9" fill="#efca44"/><rect y="468.2" width="12" height="2.2" fill="#eec743"/><rect y="469.8" width="12" height="2" fill="#f0da4b"/><rect y="471.1" width="12" height="2.6" fill="#f1df51"/><rect y="473.2" width="12" height="2.5" fill="#f1db4c"/><rect y="475.1" width="12" height="2.8" fill="#f0d949"/><rect y="477.2" width="12" height="2.9" fill="#f0d245"/><rect y="479.6" width="12" height="1.9" fill="#efd245"/><rect y="480.9" width="12" height="2.7" fill="#f1dd4e"/><rect y="483" width="12" height="2.8" fill="#f1df50"/><rect y="485.2" width="12" height="2.5" fill="#f0d949"/><rect y="487.1" width="12" height="2.4" fill="#f0da4a"/><rect y="488.9" width="12" height="1.9" fill="#efd045"/><rect y="490.2" width="12" height="2.8" fill="#f0d848"/><rect y="492.5" width="12" height="2.3" fill="#efce45"/><rect y="494.2" width="12" height="1.4" fill="#f0d848"/><rect y="495" width="12" height="2.6" fill="#efd045"/><rect y="497" width="12" height="2.3" fill="#f0d446"/><rect y="498.6" width="12" height="2.1" fill="#f0d646"/><rect y="500.1" width="12" height="2.7" fill="#efcf45"/><rect y="502.2" width="12" height="2.8" fill="#f1db4c"/><rect y="504.4" width="12" height="2.2" fill="#efd045"/><rect y="506" width="12" height="2.1" fill="#efcf45"/><rect y="507.5" width="12" height="2.3" fill="#efcf45"/><rect y="509.1" width="12" height="2.9" fill="#efd045"/><rect y="511.5" width="12" height="1.9" fill="#f0d546"/><rect y="512.8" width="12" height="2.3" fill="#f0d345"/><rect y="514.5" width="12" height="2.9" fill="#efcb44"/><rect y="516.8" width="12" height="2.1" fill="#efd145"/><rect y="518.3" width="12" height="2.8" fill="#f0d646"/><rect y="520.5" width="12" height="2.6" fill="#f0d747"/><rect y="522.4" width="12" height="1.9" fill="#f0d245"/><rect y="523.8" width="12" height="2.9" fill="#f0d848"/><rect y="526.1" width="12" height="1.7" fill="#efd145"/><rect y="527.2" width="12" height="2" fill="#efce45"/><rect y="528.6" width="12" height="2.2" fill="#f1dc4d"/><rect y="530.2" width="12" height="1.8" fill="#efca44"/><rect y="531.4" width="12" height="3.7" fill="#f0d747"/><rect y="534.5" width="12" height="2.1" fill="#dc6530"/><rect y="536" width="12" height="2.7" fill="#df6f33"/><rect y="538.1" width="12" height="2.5" fill="#e07334"/><rect y="539.9" width="12" height="1.8" fill="#e07534"/><rect y="541.1" width="12" height="2.1" fill="#df6f33"/><rect y="542.6" width="12" height="2.5" fill="#df6f33"/><rect y="544.5" width="12" height="2.3" fill="#dd6a31"/><rect y="546.2" width="12" height="2.2" fill="#de6a32"/><rect y="547.8" width="12" height="3" fill="#de6d32"/><rect y="550.2" width="12" height="2" fill="#e27d36"/><rect y="551.6" width="12" height="2.3" fill="#e27a36"/><rect y="553.3" width="12" height="1.9" fill="#e17a35"/><rect y="554.7" width="12" height="2.5" fill="#e68a3a"/><rect y="556.5" width="12" height="2.5" fill="#e48338"/><rect y="558.4" width="12" height="1.7" fill="#e48338"/><rect y="559.5" width="12" height="2.5" fill="#df7233"/><rect y="561.4" width="12" height="2.6" fill="#de6d32"/><rect y="563.3" width="12" height="2.9" fill="#df6f33"/><rect y="565.6" width="12" height="2.6" fill="#e17735"/><rect y="567.6" width="12" height="1.8" fill="#df7033"/><rect y="568.8" width="12" height="2.1" fill="#df7133"/><rect y="570.3" width="12" height="1.7" fill="#e07634"/><rect y="571.4" width="12" height="1.7" fill="#df6f33"/><rect y="572.5" width="12" height="2.8" fill="#e07534"/><rect y="574.7" width="12" height="2.9" fill="#e07534"/><rect y="577.1" width="12" height="2.2" fill="#dd6931"/><rect y="578.6" width="12" height="1.8" fill="#df6f33"/><rect y="579.8" width="12" height="2.6" fill="#db612f"/><rect y="581.8" width="12" height="1.9" fill="#e07534"/><rect y="583.1" width="12" height="1.9" fill="#df7033"/><rect y="584.4" width="12" height="2.8" fill="#e07334"/><rect y="586.6" width="12" height="2.8" fill="#e38037"/><rect y="588.8" width="12" height="2.6" fill="#e38037"/><rect y="590.7" width="12" height="2.8" fill="#e37f37"/><rect y="593" width="12" height="2.5" fill="#e38037"/><rect y="594.9" width="12" height="2.3" fill="#e58639"/><rect y="596.6" width="12" height="1.7" fill="#dd6a31"/><rect y="597.7" width="12" height="2.6" fill="#dd6731"/><rect y="599.7" width="12" height="2" fill="#e17835"/><rect y="601.1" width="12" height="2.2" fill="#e07534"/><rect y="602.7" width="12" height="1.8" fill="#e38037"/><rect y="603.9" width="12" height="2.8" fill="#e48538"/><rect y="606.1" width="12" height="2.8" fill="#de6e32"/><rect y="608.3" width="12" height="1.6" fill="#df6f33"/><rect y="609.3" width="12" height="2" fill="#f0d646"/><rect y="610.7" width="12" height="2.1" fill="#f1de50"/><rect y="612.2" width="12" height="1.7" fill="#f1e153"/><rect y="613.3" width="12" height="2.1" fill="#f1e153"/><rect y="614.8" width="12" height="2.5" fill="#f1de4f"/><rect y="616.8" width="12" height="2.7" fill="#efd145"/><rect y="618.9" width="12" height="2.1" fill="#f0d849"/><rect y="620.4" width="12" height="2" fill="#dd6831"/><rect y="621.8" width="12" height="2.5" fill="#de6d32"/><rect y="623.7" width="12" height="2.7" fill="#e37e37"/><rect y="625.8" width="12" height="2.9" fill="#df7233"/><rect y="628.1" width="12" height="2.4" fill="#e17835"/><rect y="629.9" width="12" height="2.9" fill="#e27b36"/><rect y="632.2" width="12" height="2" fill="#e17735"/></g>
<g transform="translate(210.7 0)"><rect y="452.2" width="12" height="2.9" fill="#f1e052"/><rect y="454.5" width="12" height="2" fill="#f2e355"/><rect y="455.9" width="12" height="2.7" fill="#f2e356"/><rect y="458.1" width="12" height="2" fill="#f1e254"/><rect y="459.5" width="12" height="2" fill="#f1e153"/><rect y="460.9" width="12" height="1.9" fill="#f1e153"/><rect y="462.2" width="12" height="2.3" fill="#f1db4b"/><rect y="463.9" width="12" height="2.6" fill="#f1df51"/><rect y="465.9" width="12" height="2.9" fill="#f2e355"/><rect y="468.2" width="12" height="2.2" fill="#f0d94a"/><rect y="469.8" width="12" height="2" fill="#f0d646"/><rect y="471.1" width="12" height="2.6" fill="#f1da4b"/><rect y="473.2" width="12" height="2.5" fill="#f0d949"/><rect y="475.1" width="12" height="2.8" fill="#efd045"/><rect y="477.2" width="12" height="2.9" fill="#efcf45"/><rect y="479.6" width="12" height="1.9" fill="#efd145"/><rect y="480.9" width="12" height="2.7" fill="#efcf45"/><rect y="483" width="12" height="2.8" fill="#eec443"/><rect y="485.2" width="12" height="2.5" fill="#efcd44"/><rect y="487.1" width="12" height="2.4" fill="#f1dc4d"/><rect y="488.9" width="12" height="1.9" fill="#f0d949"/><rect y="490.2" width="12" height="2.8" fill="#f1dc4d"/><rect y="492.5" width="12" height="2.3" fill="#f1da4b"/><rect y="494.2" width="12" height="1.4" fill="#f1e152"/><rect y="495" width="12" height="2.6" fill="#efd145"/><rect y="497" width="12" height="2.3" fill="#f0d747"/><rect y="498.6" width="12" height="2.1" fill="#f0d747"/><rect y="500.1" width="12" height="2.7" fill="#f0d446"/><rect y="502.2" width="12" height="2.8" fill="#efcf45"/><rect y="504.4" width="12" height="2.2" fill="#efd245"/><rect y="506" width="12" height="2.1" fill="#f1db4c"/><rect y="507.5" width="12" height="2.3" fill="#f0d646"/><rect y="509.1" width="12" height="2.9" fill="#f0d748"/><rect y="511.5" width="12" height="1.9" fill="#efce45"/><rect y="512.8" width="12" height="2.3" fill="#f1db4b"/><rect y="514.5" width="12" height="2.9" fill="#efd045"/><rect y="516.8" width="12" height="2.1" fill="#eec743"/><rect y="518.3" width="12" height="2.8" fill="#efce45"/><rect y="520.5" width="12" height="2.6" fill="#efd045"/><rect y="522.4" width="12" height="1.9" fill="#efcc44"/><rect y="523.8" width="12" height="2.9" fill="#efcc44"/><rect y="526.1" width="12" height="1.7" fill="#f1de4f"/><rect y="527.2" width="12" height="2" fill="#eec944"/><rect y="528.6" width="12" height="2.2" fill="#f0d848"/><rect y="530.2" width="12" height="1.8" fill="#f0d245"/><rect y="531.4" width="12" height="3.7" fill="#f1e153"/><rect y="534.5" width="12" height="2.1" fill="#e27c36"/><rect y="536" width="12" height="2.7" fill="#e27d36"/><rect y="538.1" width="12" height="2.5" fill="#de6a32"/><rect y="539.9" width="12" height="1.8" fill="#df6e33"/><rect y="541.1" width="12" height="2.1" fill="#dd6931"/><rect y="542.6" width="12" height="2.5" fill="#dd6731"/><rect y="544.5" width="12" height="2.3" fill="#dd6731"/><rect y="546.2" width="12" height="2.2" fill="#de6c32"/><rect y="547.8" width="12" height="3" fill="#e27c36"/><rect y="550.2" width="12" height="2" fill="#df7033"/><rect y="551.6" width="12" height="2.3" fill="#df7033"/><rect y="553.3" width="12" height="1.9" fill="#df7233"/><rect y="554.7" width="12" height="2.5" fill="#e27c36"/><rect y="556.5" width="12" height="2.5" fill="#e17a35"/><rect y="558.4" width="12" height="1.7" fill="#e27b36"/><rect y="559.5" width="12" height="2.5" fill="#e07534"/><rect y="561.4" width="12" height="2.6" fill="#df6f33"/><rect y="563.3" width="12" height="2.9" fill="#df6f33"/><rect y="565.6" width="12" height="2.6" fill="#df7033"/><rect y="567.6" width="12" height="1.8" fill="#de6b32"/><rect y="568.8" width="12" height="2.1" fill="#e07534"/><rect y="570.3" width="12" height="1.7" fill="#e17a35"/><rect y="571.4" width="12" height="1.7" fill="#df7133"/><rect y="572.5" width="12" height="2.8" fill="#de6d32"/><rect y="574.7" width="12" height="2.9" fill="#df6f33"/><rect y="577.1" width="12" height="2.2" fill="#dd6931"/><rect y="578.6" width="12" height="1.8" fill="#de6a32"/><rect y="579.8" width="12" height="2.6" fill="#df7033"/><rect y="581.8" width="12" height="1.9" fill="#de6c32"/><rect y="583.1" width="12" height="1.9" fill="#df7133"/><rect y="584.4" width="12" height="2.8" fill="#e37f37"/><rect y="586.6" width="12" height="2.8" fill="#e48438"/><rect y="588.8" width="12" height="2.6" fill="#df7133"/><rect y="590.7" width="12" height="2.8" fill="#e17835"/><rect y="593" width="12" height="2.5" fill="#e07434"/><rect y="594.9" width="12" height="2.3" fill="#e27b36"/><rect y="596.6" width="12" height="1.7" fill="#e17635"/><rect y="597.7" width="12" height="2.6" fill="#e17735"/><rect y="599.7" width="12" height="2" fill="#e48538"/><rect y="601.1" width="12" height="2.2" fill="#e07334"/><rect y="602.7" width="12" height="1.8" fill="#de6b32"/><rect y="603.9" width="12" height="2.8" fill="#dd6731"/><rect y="606.1" width="12" height="2.8" fill="#de6b32"/><rect y="608.3" width="12" height="1.6" fill="#df7233"/><rect y="609.3" width="12" height="2" fill="#f0d848"/><rect y="610.7" width="12" height="2.1" fill="#eec443"/><rect y="612.2" width="12" height="1.7" fill="#eec844"/><rect y="613.3" width="12" height="2.1" fill="#efcc44"/><rect y="614.8" width="12" height="2.5" fill="#f0d646"/><rect y="616.8" width="12" height="2.7" fill="#f1dd4f"/><rect y="618.9" width="12" height="2.1" fill="#f0d848"/><rect y="620.4" width="12" height="2" fill="#de6d32"/><rect y="621.8" width="12" height="2.5" fill="#e38037"/><rect y="623.7" width="12" height="2.7" fill="#db602f"/><rect y="625.8" width="12" height="2.9" fill="#e07434"/><rect y="628.1" width="12" height="2.4" fill="#e27b36"/><rect y="629.9" width="12" height="2.9" fill="#e37f37"/><rect y="632.2" width="12" height="2" fill="#e27c36"/></g>
<g transform="translate(222.1 0)"><rect y="452.2" width="12" height="2.9" fill="#f1dc4d"/><rect y="454.5" width="12" height="2" fill="#f0d747"/><rect y="455.9" width="12" height="2.7" fill="#f0d646"/><rect y="458.1" width="12" height="2" fill="#efd145"/><rect y="459.5" width="12" height="2" fill="#f0d446"/><rect y="460.9" width="12" height="1.9" fill="#f0da4a"/><rect y="462.2" width="12" height="2.3" fill="#f0d546"/><rect y="463.9" width="12" height="2.6" fill="#efd145"/><rect y="465.9" width="12" height="2.9" fill="#f0d849"/><rect y="468.2" width="12" height="2.2" fill="#f1e052"/><rect y="469.8" width="12" height="2" fill="#f0da4a"/><rect y="471.1" width="12" height="2.6" fill="#efd145"/><rect y="473.2" width="12" height="2.5" fill="#f0d94a"/><rect y="475.1" width="12" height="2.8" fill="#f2e355"/><rect y="477.2" width="12" height="2.9" fill="#f0d848"/><rect y="479.6" width="12" height="1.9" fill="#f0d848"/><rect y="480.9" width="12" height="2.7" fill="#f0d747"/><rect y="483" width="12" height="2.8" fill="#f0d94a"/><rect y="485.2" width="12" height="2.5" fill="#f1db4c"/><rect y="487.1" width="12" height="2.4" fill="#f0d446"/><rect y="488.9" width="12" height="1.9" fill="#f0d346"/><rect y="490.2" width="12" height="2.8" fill="#f0d848"/><rect y="492.5" width="12" height="2.3" fill="#f0d345"/><rect y="494.2" width="12" height="1.4" fill="#f0d849"/><rect y="495" width="12" height="2.6" fill="#f1dd4e"/><rect y="497" width="12" height="2.3" fill="#f1dd4f"/><rect y="498.6" width="12" height="2.1" fill="#f1dd4f"/><rect y="500.1" width="12" height="2.7" fill="#f1df51"/><rect y="502.2" width="12" height="2.8" fill="#f0d949"/><rect y="504.4" width="12" height="2.2" fill="#f1e254"/><rect y="506" width="12" height="2.1" fill="#f2e254"/><rect y="507.5" width="12" height="2.3" fill="#f1de4f"/><rect y="509.1" width="12" height="2.9" fill="#f1e051"/><rect y="511.5" width="12" height="1.9" fill="#f0da4a"/><rect y="512.8" width="12" height="2.3" fill="#f1da4b"/><rect y="514.5" width="12" height="2.9" fill="#f1dd4e"/><rect y="516.8" width="12" height="2.1" fill="#f0d949"/><rect y="518.3" width="12" height="2.8" fill="#f0d748"/><rect y="520.5" width="12" height="2.6" fill="#f1dc4d"/><rect y="522.4" width="12" height="1.9" fill="#f1db4b"/><rect y="523.8" width="12" height="2.9" fill="#f1df51"/><rect y="526.1" width="12" height="1.7" fill="#f1e254"/><rect y="527.2" width="12" height="2" fill="#f0d747"/><rect y="528.6" width="12" height="2.2" fill="#f1de50"/><rect y="530.2" width="12" height="1.8" fill="#f2e254"/><rect y="531.4" width="12" height="3.7" fill="#f2e255"/><rect y="534.5" width="12" height="2.1" fill="#e48638"/><rect y="536" width="12" height="2.7" fill="#e58739"/><rect y="538.1" width="12" height="2.5" fill="#e58739"/><rect y="539.9" width="12" height="1.8" fill="#e48538"/><rect y="541.1" width="12" height="2.1" fill="#e48338"/><rect y="542.6" width="12" height="2.5" fill="#e48638"/><rect y="544.5" width="12" height="2.3" fill="#e58839"/><rect y="546.2" width="12" height="2.2" fill="#e17835"/><rect y="547.8" width="12" height="3" fill="#e07634"/><rect y="550.2" width="12" height="2" fill="#e27a36"/><rect y="551.6" width="12" height="2.3" fill="#df7233"/><rect y="553.3" width="12" height="1.9" fill="#e38037"/><rect y="554.7" width="12" height="2.5" fill="#e37f37"/><rect y="556.5" width="12" height="2.5" fill="#df7233"/><rect y="558.4" width="12" height="1.7" fill="#e68f3a"/><rect y="559.5" width="12" height="2.5" fill="#e7923b"/><rect y="561.4" width="12" height="2.6" fill="#e7923b"/><rect y="563.3" width="12" height="2.9" fill="#e68d3a"/><rect y="565.6" width="12" height="2.6" fill="#e68a3a"/><rect y="567.6" width="12" height="1.8" fill="#e68b3a"/><rect y="568.8" width="12" height="2.1" fill="#e7923b"/><rect y="570.3" width="12" height="1.7" fill="#e58939"/><rect y="571.4" width="12" height="1.7" fill="#e17a35"/><rect y="572.5" width="12" height="2.8" fill="#e48438"/><rect y="574.7" width="12" height="2.9" fill="#e58639"/><rect y="577.1" width="12" height="2.2" fill="#e48438"/><rect y="578.6" width="12" height="1.8" fill="#e68c3a"/><rect y="579.8" width="12" height="2.6" fill="#df7233"/><rect y="581.8" width="12" height="1.9" fill="#e17735"/><rect y="583.1" width="12" height="1.9" fill="#e07234"/><rect y="584.4" width="12" height="2.8" fill="#e17635"/><rect y="586.6" width="12" height="2.8" fill="#e17735"/><rect y="588.8" width="12" height="2.6" fill="#e48438"/><rect y="590.7" width="12" height="2.8" fill="#e48538"/><rect y="593" width="12" height="2.5" fill="#e48438"/><rect y="594.9" width="12" height="2.3" fill="#e38137"/><rect y="596.6" width="12" height="1.7" fill="#e37e37"/><rect y="597.7" width="12" height="2.6" fill="#e38037"/><rect y="599.7" width="12" height="2" fill="#df7133"/><rect y="601.1" width="12" height="2.2" fill="#e07534"/><rect y="602.7" width="12" height="1.8" fill="#df6e33"/><rect y="603.9" width="12" height="2.8" fill="#dd6931"/><rect y="606.1" width="12" height="2.8" fill="#df7133"/><rect y="608.3" width="12" height="1.6" fill="#e17735"/><rect y="609.3" width="12" height="2" fill="#f0d646"/><rect y="610.7" width="12" height="2.1" fill="#efce45"/><rect y="612.2" width="12" height="1.7" fill="#efcb44"/><rect y="613.3" width="12" height="2.1" fill="#f0d346"/><rect y="614.8" width="12" height="2.5" fill="#f0d546"/><rect y="616.8" width="12" height="2.7" fill="#f0d849"/><rect y="618.9" width="12" height="2.1" fill="#f0d345"/><rect y="620.4" width="12" height="2" fill="#e58639"/><rect y="621.8" width="12" height="2.5" fill="#e58939"/><rect y="623.7" width="12" height="2.7" fill="#e58639"/><rect y="625.8" width="12" height="2.9" fill="#e37f37"/><rect y="628.1" width="12" height="2.4" fill="#e48538"/><rect y="629.9" width="12" height="2.9" fill="#e48638"/><rect y="632.2" width="12" height="2" fill="#e48338"/></g>
<g transform="translate(233.5 0)"><rect y="452.2" width="12" height="2.9" fill="#f1dd4e"/><rect y="454.5" width="12" height="2" fill="#f1e254"/><rect y="455.9" width="12" height="2.7" fill="#f1e253"/><rect y="458.1" width="12" height="2" fill="#f1de50"/><rect y="459.5" width="12" height="2" fill="#f1e153"/><rect y="460.9" width="12" height="1.9" fill="#f2e355"/><rect y="462.2" width="12" height="2.3" fill="#f2e558"/><rect y="463.9" width="12" height="2.6" fill="#f2e355"/><rect y="465.9" width="12" height="2.9" fill="#f1dc4d"/><rect y="468.2" width="12" height="2.2" fill="#f1e052"/><rect y="469.8" width="12" height="2" fill="#f1e152"/><rect y="471.1" width="12" height="2.6" fill="#f2e456"/><rect y="473.2" width="12" height="2.5" fill="#f1dc4d"/><rect y="475.1" width="12" height="2.8" fill="#f1df51"/><rect y="477.2" width="12" height="2.9" fill="#f1da4b"/><rect y="479.6" width="12" height="1.9" fill="#f0d647"/><rect y="480.9" width="12" height="2.7" fill="#f0d546"/><rect y="483" width="12" height="2.8" fill="#f0d949"/><rect y="485.2" width="12" height="2.5" fill="#f2e355"/><rect y="487.1" width="12" height="2.4" fill="#f1e153"/><rect y="488.9" width="12" height="1.9" fill="#f2e75a"/><rect y="490.2" width="12" height="2.8" fill="#f0d949"/><rect y="492.5" width="12" height="2.3" fill="#f0d546"/><rect y="494.2" width="12" height="1.4" fill="#f0d949"/><rect y="495" width="12" height="2.6" fill="#f0d848"/><rect y="497" width="12" height="2.3" fill="#f2e254"/><rect y="498.6" width="12" height="2.1" fill="#f1de4f"/><rect y="500.1" width="12" height="2.7" fill="#f2e558"/><rect y="502.2" width="12" height="2.8" fill="#f1e153"/><rect y="504.4" width="12" height="2.2" fill="#f1df50"/><rect y="506" width="12" height="2.1" fill="#f1dc4d"/><rect y="507.5" width="12" height="2.3" fill="#f1df51"/><rect y="509.1" width="12" height="2.9" fill="#f1df51"/><rect y="511.5" width="12" height="1.9" fill="#f1df50"/><rect y="512.8" width="12" height="2.3" fill="#efd045"/><rect y="514.5" width="12" height="2.9" fill="#f0d446"/><rect y="516.8" width="12" height="2.1" fill="#f0d446"/><rect y="518.3" width="12" height="2.8" fill="#f0d848"/><rect y="520.5" width="12" height="2.6" fill="#f0d245"/><rect y="522.4" width="12" height="1.9" fill="#f2e95c"/><rect y="523.8" width="12" height="2.9" fill="#f1df50"/><rect y="526.1" width="12" height="1.7" fill="#f2e254"/><rect y="527.2" width="12" height="2" fill="#f0d646"/><rect y="528.6" width="12" height="2.2" fill="#f0d849"/><rect y="530.2" width="12" height="1.8" fill="#f1da4b"/><rect y="531.4" width="12" height="3.7" fill="#f1df50"/><rect y="534.5" width="12" height="2.1" fill="#e48238"/><rect y="536" width="12" height="2.7" fill="#e27a36"/><rect y="538.1" width="12" height="2.5" fill="#e27d36"/><rect y="539.9" width="12" height="1.8" fill="#e17a35"/><rect y="541.1" width="12" height="2.1" fill="#e27d36"/><rect y="542.6" width="12" height="2.5" fill="#e58639"/><rect y="544.5" width="12" height="2.3" fill="#e58739"/><rect y="546.2" width="12" height="2.2" fill="#e58a39"/><rect y="547.8" width="12" height="3" fill="#e68d3a"/><rect y="550.2" width="12" height="2" fill="#e38137"/><rect y="551.6" width="12" height="2.3" fill="#e17635"/><rect y="553.3" width="12" height="1.9" fill="#e38037"/><rect y="554.7" width="12" height="2.5" fill="#ebad3f"/><rect y="556.5" width="12" height="2.5" fill="#ebb03f"/><rect y="558.4" width="12" height="1.7" fill="#e68d3a"/><rect y="559.5" width="12" height="2.5" fill="#e58939"/><rect y="561.4" width="12" height="2.6" fill="#e27d36"/><rect y="563.3" width="12" height="2.9" fill="#e68d3a"/><rect y="565.6" width="12" height="2.6" fill="#e7923b"/><rect y="567.6" width="12" height="1.8" fill="#e38237"/><rect y="568.8" width="12" height="2.1" fill="#e38137"/><rect y="570.3" width="12" height="1.7" fill="#e48238"/><rect y="571.4" width="12" height="1.7" fill="#e38037"/><rect y="572.5" width="12" height="2.8" fill="#e37f37"/><rect y="574.7" width="12" height="2.9" fill="#e99d3d"/><rect y="577.1" width="12" height="2.2" fill="#df6f33"/><rect y="578.6" width="12" height="1.8" fill="#e27d36"/><rect y="579.8" width="12" height="2.6" fill="#e38137"/><rect y="581.8" width="12" height="1.9" fill="#e48338"/><rect y="583.1" width="12" height="1.9" fill="#e17735"/><rect y="584.4" width="12" height="2.8" fill="#e27c36"/><rect y="586.6" width="12" height="2.8" fill="#e27b36"/><rect y="588.8" width="12" height="2.6" fill="#e17935"/><rect y="590.7" width="12" height="2.8" fill="#e27e36"/><rect y="593" width="12" height="2.5" fill="#e37f37"/><rect y="594.9" width="12" height="2.3" fill="#e38137"/><rect y="596.6" width="12" height="1.7" fill="#e38037"/><rect y="597.7" width="12" height="2.6" fill="#e27b36"/><rect y="599.7" width="12" height="2" fill="#e58939"/><rect y="601.1" width="12" height="2.2" fill="#e68d3a"/><rect y="602.7" width="12" height="1.8" fill="#e68d3a"/><rect y="603.9" width="12" height="2.8" fill="#e48438"/><rect y="606.1" width="12" height="2.8" fill="#e7903b"/><rect y="608.3" width="12" height="1.6" fill="#e38037"/><rect y="609.3" width="12" height="2" fill="#efca44"/><rect y="610.7" width="12" height="2.1" fill="#efd145"/><rect y="612.2" width="12" height="1.7" fill="#f0d546"/><rect y="613.3" width="12" height="2.1" fill="#f0d849"/><rect y="614.8" width="12" height="2.5" fill="#f1db4c"/><rect y="616.8" width="12" height="2.7" fill="#efcf45"/><rect y="618.9" width="12" height="2.1" fill="#f0d747"/><rect y="620.4" width="12" height="2" fill="#e38137"/><rect y="621.8" width="12" height="2.5" fill="#e17735"/><rect y="623.7" width="12" height="2.7" fill="#e07334"/><rect y="625.8" width="12" height="2.9" fill="#e48538"/><rect y="628.1" width="12" height="2.4" fill="#e27c36"/><rect y="629.9" width="12" height="2.9" fill="#e27c36"/><rect y="632.2" width="12" height="2" fill="#e17935"/></g>
<g transform="translate(244.9 0)"><rect y="452.2" width="12" height="2.9" fill="#f1dc4d"/><rect y="454.5" width="12" height="2" fill="#f0d94a"/><rect y="455.9" width="12" height="2.7" fill="#f1dd4e"/><rect y="458.1" width="12" height="2" fill="#f1db4c"/><rect y="459.5" width="12" height="2" fill="#f1e052"/><rect y="460.9" width="12" height="1.9" fill="#f1e153"/><rect y="462.2" width="12" height="2.3" fill="#f1e254"/><rect y="463.9" width="12" height="2.6" fill="#f1dc4d"/><rect y="465.9" width="12" height="2.9" fill="#f1e254"/><rect y="468.2" width="12" height="2.2" fill="#f1dc4c"/><rect y="469.8" width="12" height="2" fill="#f1e152"/><rect y="471.1" width="12" height="2.6" fill="#f0da4b"/><rect y="473.2" width="12" height="2.5" fill="#f0d748"/><rect y="475.1" width="12" height="2.8" fill="#f0d747"/><rect y="477.2" width="12" height="2.9" fill="#f0d949"/><rect y="479.6" width="12" height="1.9" fill="#f1dc4d"/><rect y="480.9" width="12" height="2.7" fill="#f1df50"/><rect y="483" width="12" height="2.8" fill="#f1df50"/><rect y="485.2" width="12" height="2.5" fill="#f1da4b"/><rect y="487.1" width="12" height="2.4" fill="#f1dc4d"/><rect y="488.9" width="12" height="1.9" fill="#f2e355"/><rect y="490.2" width="12" height="2.8" fill="#f0d848"/><rect y="492.5" width="12" height="2.3" fill="#f1db4c"/><rect y="494.2" width="12" height="1.4" fill="#f0d848"/><rect y="495" width="12" height="2.6" fill="#f0da4a"/><rect y="497" width="12" height="2.3" fill="#f0d546"/><rect y="498.6" width="12" height="2.1" fill="#f1dd4e"/><rect y="500.1" width="12" height="2.7" fill="#f0d345"/><rect y="502.2" width="12" height="2.8" fill="#f0d446"/><rect y="504.4" width="12" height="2.2" fill="#efce45"/><rect y="506" width="12" height="2.1" fill="#efcc44"/><rect y="507.5" width="12" height="2.3" fill="#f0d446"/><rect y="509.1" width="12" height="2.9" fill="#efd145"/><rect y="511.5" width="12" height="1.9" fill="#efce45"/><rect y="512.8" width="12" height="2.3" fill="#eec944"/><rect y="514.5" width="12" height="2.9" fill="#efce45"/><rect y="516.8" width="12" height="2.1" fill="#f1da4b"/><rect y="518.3" width="12" height="2.8" fill="#f2e85b"/><rect y="520.5" width="12" height="2.6" fill="#f2e558"/><rect y="522.4" width="12" height="1.9" fill="#f3ea5e"/><rect y="523.8" width="12" height="2.9" fill="#f1e153"/><rect y="526.1" width="12" height="1.7" fill="#f0d94a"/><rect y="527.2" width="12" height="2" fill="#f1de4f"/><rect y="528.6" width="12" height="2.2" fill="#f1e052"/><rect y="530.2" width="12" height="1.8" fill="#f1da4b"/><rect y="531.4" width="12" height="3.7" fill="#f0da4a"/><rect y="534.5" width="12" height="2.1" fill="#df7133"/><rect y="536" width="12" height="2.7" fill="#e17a35"/><rect y="538.1" width="12" height="2.5" fill="#e07334"/><rect y="539.9" width="12" height="1.8" fill="#e17835"/><rect y="541.1" width="12" height="2.1" fill="#e17a35"/><rect y="542.6" width="12" height="2.5" fill="#e27b36"/><rect y="544.5" width="12" height="2.3" fill="#e17a35"/><rect y="546.2" width="12" height="2.2" fill="#e58939"/><rect y="547.8" width="12" height="3" fill="#e58839"/><rect y="550.2" width="12" height="2" fill="#e7953b"/><rect y="551.6" width="12" height="2.3" fill="#e7913b"/><rect y="553.3" width="12" height="1.9" fill="#e7963b"/><rect y="554.7" width="12" height="2.5" fill="#eaa93e"/><rect y="556.5" width="12" height="2.5" fill="#e99e3d"/><rect y="558.4" width="12" height="1.7" fill="#e89c3c"/><rect y="559.5" width="12" height="2.5" fill="#e58839"/><rect y="561.4" width="12" height="2.6" fill="#e48338"/><rect y="563.3" width="12" height="2.9" fill="#e37f37"/><rect y="565.6" width="12" height="2.6" fill="#e38137"/><rect y="567.6" width="12" height="1.8" fill="#e27d36"/><rect y="568.8" width="12" height="2.1" fill="#e48438"/><rect y="570.3" width="12" height="1.7" fill="#e68a3a"/><rect y="571.4" width="12" height="1.7" fill="#e48438"/><rect y="572.5" width="12" height="2.8" fill="#e27c36"/><rect y="574.7" width="12" height="2.9" fill="#e27d36"/><rect y="577.1" width="12" height="2.2" fill="#e48238"/><rect y="578.6" width="12" height="1.8" fill="#e38137"/><rect y="579.8" width="12" height="2.6" fill="#e27d36"/><rect y="581.8" width="12" height="1.9" fill="#e17935"/><rect y="583.1" width="12" height="1.9" fill="#e58a39"/><rect y="584.4" width="12" height="2.8" fill="#e68c3a"/><rect y="586.6" width="12" height="2.8" fill="#e17935"/><rect y="588.8" width="12" height="2.6" fill="#e7933b"/><rect y="590.7" width="12" height="2.8" fill="#e48338"/><rect y="593" width="12" height="2.5" fill="#e48238"/><rect y="594.9" width="12" height="2.3" fill="#e17935"/><rect y="596.6" width="12" height="1.7" fill="#e17835"/><rect y="597.7" width="12" height="2.6" fill="#e17a35"/><rect y="599.7" width="12" height="2" fill="#e48338"/><rect y="601.1" width="12" height="2.2" fill="#e68f3a"/><rect y="602.7" width="12" height="1.8" fill="#e68c3a"/><rect y="603.9" width="12" height="2.8" fill="#e68b3a"/><rect y="606.1" width="12" height="2.8" fill="#e58839"/><rect y="608.3" width="12" height="1.6" fill="#e58639"/><rect y="609.3" width="12" height="2" fill="#f0d848"/><rect y="610.7" width="12" height="2.1" fill="#f0d345"/><rect y="612.2" width="12" height="1.7" fill="#efd045"/><rect y="613.3" width="12" height="2.1" fill="#efcc44"/><rect y="614.8" width="12" height="2.5" fill="#f0d346"/><rect y="616.8" width="12" height="2.7" fill="#f0d849"/><rect y="618.9" width="12" height="2.1" fill="#efcb44"/><rect y="620.4" width="12" height="2" fill="#e48338"/><rect y="621.8" width="12" height="2.5" fill="#e17735"/><rect y="623.7" width="12" height="2.7" fill="#e17735"/><rect y="625.8" width="12" height="2.9" fill="#e17735"/><rect y="628.1" width="12" height="2.4" fill="#e38037"/><rect y="629.9" width="12" height="2.9" fill="#e27c36"/><rect y="632.2" width="12" height="2" fill="#e17935"/></g></g>
<path d="M77.92 102V85.6H89.34V102 M83.63 85.6V84.8H100.78V102 M92.2 84.8V81.2H112.2V102 M123.64 102V83.5H135.06V102 M129.35 83.5V82.5H146.5V102 M137.92 82.5V77.8H157.93V102 M102.2 81.2V72.3H147.92V77.8 M180.78 102V96H192.22V102 M169.36 102V94.6H186.5V96 M215.07 102V97.3H226.5V102 M237.94 102V95.4H249.37V102 M220.79 97.3V94.8H243.65V95.4 M203.64 102V94.4H232.22V94.8 M177.93 94.6V89.6H217.93V94.4 M125.06 72.3V54.2H197.93V89.6" fill="none" stroke="#8f8f8f" stroke-width="0.75"/>
<path d="M91 451.9V444.6H102.4V451.9 M79.6 451.9V437.3H96.7V444.6 M136.6 451.9V435.4H148V451.9 M142.3 435.4V434H159.4V451.9 M125.2 451.9V431.2H150.85V434 M113.8 451.9V426.2H138.03V431.2 M88.15 437.3V423.5H125.91V426.2 M170.8 451.9V444.6H182.2V451.9 M193.6 451.9V445.4H205V451.9 M176.5 444.6V442.1H199.3V445.4 M216.4 451.9V442.1H227.8V451.9 M239.2 451.9V444.6H250.6V451.9 M222.1 442.1V439.6H244.9V444.6 M187.9 442.1V436.3H233.5V439.6 M107.03 423.5V404.2H210.7V436.3" fill="none" stroke="#8f8f8f" stroke-width="0.75"/>
<defs><linearGradient id="gA" x1="0" x2="1" y1="0" y2="0"><stop offset="0" stop-color="#000" stop-opacity="0"/><stop offset="0.55" stop-color="#000" stop-opacity="0.35"/><stop offset="1" stop-color="#000" stop-opacity="0.9"/></linearGradient><linearGradient id="gC" x1="0" x2="1" y1="0" y2="0"><stop offset="0" stop-color="#777" stop-opacity="0"/><stop offset="1" stop-color="#707070" stop-opacity="0.75"/></linearGradient></defs>
<rect x="54" y="104.3" width="13.5" height="178.2" fill="url(#gA)"/>
<path d="M69.8 103.2H66.8V103.6H69.8M69.8 102.8H65V103.4H66.8M69.8 102.5H63.5V103.1H65M69.8 104.7H68.4V105H69.8M69.8 104.3H67.3V104.9H68.4M69.8 103.9H65.6V104.6H67.3M63.5 102.8H62.8V104.3H65.6M69.8 105.8H66.9V106.1H69.8M69.8 105.4H65.1V105.9H66.9M69.8 106.5H66.3V106.9H69.8M65.1 105.7H64.5V106.7H66.3M69.8 107.9H67.9V108.3H69.8M69.8 107.6H66.5V108.1H67.9M69.8 107.2H65.7V107.9H66.5M69.8 109H69V109.4H69.8M69 109.2H68.9V109.8H69.8M68.9 109.5H68.3V110.1H69.8M69.8 108.7H67.4V109.8H68.3M69.8 110.9H67.5V111.2H69.8M69.8 110.5H67.1V111H67.5M67.4 109.2H66.3V110.8H67.1M65.7 107.5H65V110H66.3M64.5 106.2H63.9V108.8H65M69.8 112.3H67.6V112.7H69.8M69.8 112H66.5V112.5H67.6M66.5 112.2H64.9V113H69.8M69.8 111.6H63.5V112.6H64.9M63.9 107.5H62V112.1H63.5M69.8 114.1H66.7V114.5H69.8M69.8 113.8H65.7V114.3H66.7M69.8 113.4H64.4V114.1H65.7M69.8 115.2H67.8V115.6H69.8M69.8 114.9H66.3V115.4H67.8M64.4 113.7H64V115.1H66.3M62 109.8H61V114.4H64M62.8 103.5H60.1V112.1H61M69.8 116.7H66.5V117.1H69.8M69.8 116.3H66.1V116.9H66.5M69.8 116H64.2V116.6H66.1M69.8 117.8H65.3V118.2H69.8M69.8 117.4H63V118H65.3M64.2 116.3H60.2V117.7H63M69.8 118.9H65.4V119.2H69.8M69.8 118.5H62.2V119.1H65.4M69.8 119.6H63.3V120H69.8M62.2 118.8H61.5V119.8H63.3M60.2 117H59.3V119.3H61.5M60.1 107.8H58.2V118.1H59.3M69.8 121.1H65.8V121.4H69.8M69.8 120.7H64.5V121.2H65.8M69.8 120.3H63.2V121H64.5M69.8 122.2H65.6V122.5H69.8M69.8 121.8H64.7V122.3H65.6M69.8 122.9H64.4V123.3H69.8M64.7 122.1H63.4V123.1H64.4M63.2 120.7H62V122.6H63.4M69.8 123.6H65.7V124H69.8M69.8 124.3H67.7V124.7H69.8M69.8 125.4H68.7V125.8H69.8M69.8 125.1H67.9V125.6H68.7M67.7 124.5H67.2V125.3H67.9M69.8 126.5H67.8V126.9H69.8M69.8 126.2H66.2V126.7H67.8M67.2 124.9H65.5V126.4H66.2M65.7 123.8H65.1V125.7H65.5M69.8 128H67.7V128.4H69.8M69.8 127.6H66.9V128.2H67.7M69.8 127.3H65.1V127.9H66.9M65.1 124.7H63.5V127.6H65.1M62 121.6H60.2V126.2H63.5M69.8 128.7H63.9V129.1H69.8M69.8 129.8H66.1V130.2H69.8M69.8 129.4H63.5V130H66.1M63.9 128.9H60.9V129.7H63.5M69.8 130.9H67.2V131.3H69.8M67.2 131.1H66.9V131.6H69.8M69.8 130.5H66V131.4H66.9M69.8 132.4H67.2V132.7H69.8M69.8 132H66.5V132.5H67.2M66 131H65.1V132.3H66.5M69.8 133.5H67.3V133.8H69.8M69.8 133.1H65.9V133.6H67.3M65.1 131.6H64.3V133.4H65.9M60.9 129.3H59.8V132.5H64.3M60.2 123.9H57.9V130.9H59.8M58.2 113H55.8V127.4H57.9M69.8 134.9H66.8V135.3H69.8M69.8 134.5H66.4V135.1H66.8M69.8 134.2H65V134.8H66.4M69.8 136.4H66.8V136.7H69.8M69.8 136H65.7V136.6H66.8M69.8 135.6H65.3V136.3H65.7M69.8 137.1H66.4V137.5H69.8M65.3 136H64.5V137.3H66.4M65 134.5H62.6V136.6H64.5M69.8 138.2H67V138.6H69.8M69.8 137.8H64.9V138.4H67M69.8 138.9H66.3V139.3H69.8M69.8 139.7H67.2V140H69.8M66.3 139.1H65.2V139.8H67.2M64.9 138.1H63.1V139.5H65.2M69.8 140.4H68.2V140.7H69.8M68.2 140.6H66.9V141.1H69.8M69.8 141.5H66.8V141.8H69.8M66.9 140.8H65.2V141.7H66.8M69.8 142.2H65.2V142.6H69.8M65.2 141.2H63.2V142.4H65.2M63.1 138.8H59.9V141.8H63.2M62.6 135.6H59V140.3H59.9M69.8 143.3H68.6V143.7H69.8M69.8 144H68.3V144.4H69.8M68.6 143.5H67.9V144.2H68.3M69.8 144.8H68.5V145.1H69.8M67.9 143.8H67.4V144.9H68.5M69.8 142.9H67.2V144.4H67.4M69.8 145.5H68.4V145.8H69.8M69.8 146.2H68.4V146.6H69.8M68.4 145.7H67.4V146.4H68.4M67.2 143.7H66.8V146H67.4M69.8 147.3H68.2V147.7H69.8M69.8 148.4H68.3V148.8H69.8M69.8 148H67.8V148.6H68.3M68.2 147.5H67.6V148.3H67.8M69.8 146.9H66.5V147.9H67.6M66.8 144.8H64.6V147.4H66.5M69.8 150.2H68.3V150.6H69.8M69.8 149.9H67.3V150.4H68.3M69.8 149.5H66.7V150.1H67.3M69.8 149.1H66V149.8H66.7M69.8 150.9H67.6V151.3H69.8M69.8 151.7H67.8V152H69.8M67.6 151.1H66.8V151.9H67.8M66 149.5H64.7V151.5H66.8M69.8 152.8H68.8V153.1H69.8M69.8 153.5H68.9V153.9H69.8M69.8 154.2H68.8V154.6H69.8M68.9 153.7H68.6V154.4H68.8M68.8 153H68.3V154H68.6M69.8 152.4H67.6V153.5H68.3M69.8 155.3H68.5V155.7H69.8M69.8 155H67.4V155.5H68.5M67.6 153H67.1V155.2H67.4M69.8 156.4H68.1V156.8H69.8M69.8 156H67.7V156.6H68.1M69.8 157.5H68.8V158.2H69.8M69.8 157.1H68.4V157.9H68.8M67.7 156.3H67.2V157.5H68.4M67.1 154.1H65.5V156.9H67.2M64.7 150.5H63.1V155.5H65.5M64.6 146.1H61.2V153H63.1M59 137.9H58.1V149.6H61.2M69.8 159H65.6V159.3H69.8M69.8 160.1H67.5V160.4H69.8M69.8 159.7H65.9V160.2H67.5M69.8 160.8H65.9V161.2H69.8M65.9 160H64.9V161H65.9M65.6 159.1H63.2V160.5H64.9M69.8 161.5H65.9V161.9H69.8M69.8 162.2H67.7V162.6H69.8M69.8 163H68.2V163.3H69.8M67.7 162.4H67.2V163.2H68.2M69.8 164.1H68.7V164.4H69.8M69.8 165.5H69V165.9H69.8M69.8 165.2H68.5V165.7H69M69.8 164.8H68.3V165.4H68.5M68.7 164.2H67.8V165.1H68.3M69.8 163.7H67.4V164.7H67.8M67.2 162.8H66.2V164.2H67.4M65.9 161.7H63.6V163.5H66.2M63.2 159.8H59.7V162.6H63.6M58.1 143.7H56.8V161.2H59.7M55.8 120.2H48V152.5H56.8M69.8 166.6H67.7V167H69.8M69.8 166.3H67.1V166.8H67.7M69.8 168.4H68.8V168.8H69.8M69.8 168.1H68.7V168.6H68.8M69.8 167.7H68.2V168.3H68.7M69.8 167.3H67.7V168H68.2M67.1 166.5H66.2V167.7H67.7M69.8 169.5H66.9V169.9H69.8M69.8 169.2H65.4V169.7H66.9M66.2 167.1H63.9V169.4H65.4M69.8 170.3H67.8V170.6H69.8M69.8 171H68.4V171.4H69.8M69.8 171.7H68.2V172.1H69.8M68.4 171.2H67.3V171.9H68.2M67.8 170.4H66.3V171.5H67.3M69.8 172.4H67.9V172.8H69.8M67.9 172.6H67.5V173.2H69.8M69.8 173.5H68.3V173.9H69.8M68.3 173.7H67.6V174.3H69.8M67.5 172.9H66.8V174H67.6M69.8 175H68.8V175.4H69.8M69.8 174.6H68V175.2H68.8M69.8 175.7H68.4V176.1H69.8M68.4 175.9H68.2V176.5H69.8M68 174.9H67.1V176.2H68.2M66.8 173.4H66.4V175.5H67.1M66.3 171H64V174.5H66.4M63.9 168.3H59.4V172.7H64M69.8 177.2H68V177.5H69.8M69.8 177.9H68.4V178.3H69.8M68.4 178.1H67.9V178.6H69.8M68 177.4H67.2V178.4H67.9M69.8 176.8H66.9V177.9H67.2M69.8 179H68.5V179.4H69.8M69.8 180.1H68.9V180.5H69.8M69.8 179.7H68.7V180.3H68.9M68.5 179.2H68.3V180H68.7M69.8 180.8H67.7V181.2H69.8M68.3 179.6H67.1V181H67.7M66.9 177.3H66.6V180.3H67.1M69.8 181.9H68.7V182.3H69.8M68.7 182.1H68V182.7H69.8M69.8 181.6H67.6V182.4H68M69.8 183.4H68.6V183.7H69.8M69.8 183H68.1V183.6H68.6M67.6 182H66.8V183.3H68.1M69.8 185.2H69.1V185.6H69.8M69.1 185.4H69V185.9H69.8M69.8 184.8H68.6V185.7H69M69.8 184.5H68.1V185.2H68.6M69.8 184.1H67.2V184.9H68.1M66.8 182.6H65.6V184.5H67.2M66.6 178.8H64.6V183.6H65.6M69.8 187H68.7V187.4H69.8M69.8 186.7H68.5V187.2H68.7M69.8 186.3H67.9V186.9H68.5M69.8 187.8H68.8V188.1H69.8M69.8 188.5H68.4V188.8H69.8M68.8 187.9H68.1V188.7H68.4M67.9 186.6H67.3V188.3H68.1M69.8 189.2H68V189.6H69.8M69.8 189.9H67.7V190.3H69.8M68 189.4H67V190.1H67.7M67.3 187.5H66.1V189.8H67M64.6 181.2H63.5V188.6H66.1M69.8 190.7H68.3V191H69.8M68.3 190.8H67.5V191.4H69.8M69.8 192.5H68.5V192.9H69.8M69.8 192.1H68.1V192.7H68.5M69.8 191.8H67.8V192.4H68.1M67.5 191.1H67V192.1H67.8M69.8 193.2H67.9V193.6H69.8M69.8 193.9H68V194.3H69.8M67.9 193.4H67V194.1H68M69.8 195H68.3V195.4H69.8M69.8 194.7H68V195.2H68.3M69.8 195.8H68.1V196.1H69.8M69.8 196.5H68.6V196.9H69.8M68.1 196H68V196.7H68.6M68 194.9H66.9V196.3H68M67 193.8H65.9V195.6H66.9M67 191.6H65V194.7H65.9M69.8 197.6H68.3V198H69.8M69.8 197.2H67.3V197.8H68.3M69.8 198.3H67.5V198.7H69.8M69.8 199H67.6V199.4H69.8M67.5 198.5H67.2V199.2H67.6M67.3 197.5H65.6V198.9H67.2M65 193.1H64.4V198.2H65.6M69.8 200.1H67.8V200.5H69.8M69.8 199.8H66.9V200.3H67.8M69.8 200.9H67.6V201.2H69.8M69.8 202H67.6V202.3H69.8M69.8 201.6H67.2V202.1H67.6M67.6 201.1H66.6V201.9H67.2M66.9 200.1H65.8V201.5H66.6M69.8 202.7H67.8V203.1H69.8M69.8 203.4H68V203.8H69.8M67.8 202.9H67.4V203.6H68M69.8 204.1H67.6V204.5H69.8M69.8 204.9H69.1V205.2H69.8M69.1 205.1H68.6V205.6H69.8M68.6 205.3H68.3V206H69.8M67.6 204.3H67.1V205.7H68.3M67.4 203.2H66.2V205H67.1M69.8 206.3H68.3V206.7H69.8M69.8 207.8H69V208.2H69.8M69.8 207.4H68.9V208H69M69.8 207.1H68.2V207.7H68.9M68.3 206.5H67.6V207.4H68.2M69.8 209.3H68.8V209.6H69.8M69.8 208.9H68.6V209.4H68.8M69.8 208.5H68.4V209.2H68.6M69.8 210H68.4V210.3H69.8M68.4 208.8H68V210.2H68.4M69.8 210.7H68.4V211.1H69.8M69.8 211.4H68V211.8H69.8M68.4 210.9H67.8V211.6H68M68 209.5H67.3V211.3H67.8M67.6 207H65.9V210.4H67.3M66.2 204.1H65.4V208.7H65.9M65.8 200.8H62.9V206.4H65.4M64.4 195.7H61.1V203.6H62.9M63.5 184.9H58.5V199.6H61.1M59.4 170.5H53.8V192.3H58.5M69.8 212.2H67.1V212.5H69.8M69.8 213.3H67.9V213.6H69.8M69.8 212.9H66.9V213.4H67.9M67.1 212.3H65.3V213.2H66.9M69.8 214.4H68.4V214.7H69.8M69.8 214H67.7V214.5H68.4M69.8 215.4H68.4V215.8H69.8M69.8 215.1H67.7V215.6H68.4M67.7 214.3H66.2V215.4H67.7M69.8 216.2H67.6V216.5H69.8M69.8 216.9H68.3V217.3H69.8M67.6 216.4H67.3V217.1H68.3M69.8 218H67.4V218.4H69.8M69.8 217.6H67.1V218.2H67.4M67.3 216.7H66.2V217.9H67.1M69.8 218.7H68.4V219.1H69.8M69.8 219.5H68.4V219.8H69.8M69.8 220.2H68V220.5H69.8M68.4 219.6H67.8V220.4H68M68.4 218.9H67.6V220H67.8M69.8 220.9H67.6V221.3H69.8M67.6 219.5H67.4V221.1H67.6M66.2 217.3H65.4V220.3H67.4M66.2 214.8H65V218.8H65.4M65.3 212.8H64.6V216.8H65M69.8 221.6H67.7V222H69.8M69.8 222.4H67.7V222.7H69.8M69.8 223.1H68.2V223.5H69.8M69.8 223.8H69V224.2H69.8M69.8 224.6H69V224.9H69.8M69 224H68.5V224.7H69M68.2 223.3H67.7V224.4H68.5M67.7 222.6H67.3V223.8H67.7M67.7 221.8H66.1V223.2H67.3M64.6 214.8H63.9V222.5H66.1M69.8 225.6H68.8V226H69.8M69.8 225.3H68.1V225.8H68.8M69.8 226.4H68.1V226.7H69.8M68.1 225.6H66.9V226.6H68.1M69.8 227.5H69V227.8H69.8M69.8 227.1H68.4V227.7H69M69.8 228.2H67.8V228.6H69.8M68.4 227.4H67.5V228.4H67.8M66.9 226.1H66.1V227.9H67.5M69.8 229.3H67.1V229.7H69.8M69.8 228.9H65.1V229.5H67.1M69.8 230.4H68.8V230.8H69.8M68.8 230.6H68.1V231.1H69.8M69.8 231.5H68V231.8H69.8M68.1 230.8H67.4V231.7H68M69.8 230H66.6V231.3H67.4M65.1 229.2H64.7V230.6H66.6M66.1 227H63.6V229.9H64.7M69.8 232.2H68.3V232.6H69.8M68.3 232.4H67.6V232.9H69.8M69.8 234H69.2V234.4H69.8M69.8 233.7H68.8V234.2H69.2M69.8 233.3H68.4V233.9H68.8M69.8 235.1H68.9V235.5H69.8M69.8 234.8H68.6V235.3H68.9M68.4 233.6H68.2V235H68.6M69.8 236.2H68.9V236.6H69.8M68.9 236.4H68.6V236.9H69.8M69.8 235.9H68.4V236.7H68.6M68.2 234.3H67.4V236.3H68.4M67.6 232.7H66.3V235.3H67.4M69.8 237.7H68.2V238H69.8M69.8 237.3H68.1V237.9H68.2M69.8 238.8H69.1V239.1H69.8M69.1 238.9H68.9V239.5H69.8M69.8 238.4H68.2V239.2H68.9M68.1 237.6H67.2V238.8H68.2M66.3 234H65.8V238.2H67.2M63.6 228.4H62.7V236.1H65.8M63.9 218.6H59.7V232.3H62.7M69.8 240.2H69.1V240.6H69.8M69.8 239.9H68.8V240.4H69.1M68.8 240.1H68.5V241H69.8M69.8 241.3H68.5V241.7H69.8M68.5 240.5H67.9V241.5H68.5M69.8 242.4H69.2V242.8H69.8M69.8 242H68.8V242.6H69.2M69.8 243.5H68.8V243.9H69.8M69.8 243.1H68.2V243.7H68.8M68.8 242.3H68V243.4H68.2M67.9 241H66.7V242.9H68M69.8 244.6H68.2V245H69.8M69.8 245.3H68V245.7H69.8M68.2 244.8H67.5V245.5H68M69.8 244.2H65.9V245.1H67.5M66.7 241.9H65.2V244.7H65.9M69.8 246.8H68.3V247.1H69.8M69.8 246.4H67.9V247H68.3M69.8 246.1H66.7V246.7H67.9M69.8 247.5H66.1V247.9H69.8M66.7 246.4H64.6V247.7H66.1M65.2 243.3H63.2V247H64.6M69.8 248.2H67.6V248.6H69.8M69.8 249H67.3V249.3H69.8M69.8 249.7H67.8V250.1H69.8M67.3 249.2H66.4V249.9H67.8M67.6 248.4H65.8V249.5H66.4M69.8 250.4H67.5V250.8H69.8M69.8 251.2H68.3V251.5H69.8M69.8 251.9H68.5V252.3H69.8M68.3 251.3H68V252.1H68.5M67.5 250.6H67V251.7H68M65.8 249H65.1V251.2H67M69.8 253H67.3V253.3H69.8M69.8 252.6H65.6V253.2H67.3M69.8 254.1H68.3V254.4H69.8M68.3 254.3H67.7V254.8H69.8M69.8 253.7H66.8V254.5H67.7M65.6 252.9H64.6V254.1H66.8M65.1 250.1H63.5V253.5H64.6M69.8 255.5H66.1V255.9H69.8M69.8 255.2H65.8V255.7H66.1M69.8 256.3H66.2V256.6H69.8M65.8 255.4H65.2V256.4H66.2M69.8 257.7H67.7V258.1H69.8M69.8 257.4H66.8V257.9H67.7M69.8 257H65.7V257.6H66.8M65.2 255.9H64.5V257.3H65.7M63.5 251.8H62V256.6H64.5M63.2 245.2H59.4V254.2H62M59.7 225.5H52.8V249.7H59.4M53.8 181.4H45V237.6H52.8M48 134H37.3V201H45M69.8 258.4H67.4V258.8H69.8M69.8 259.2H67.3V259.5H69.8M67.4 258.6H66.8V259.4H67.3M69.8 260.6H68.8V261H69.8M69.8 260.3H68.3V260.8H68.8M69.8 259.9H67.4V260.5H68.3M69.8 261.4H67.7V261.7H69.8M67.4 260.2H66.9V261.5H67.7M66.8 259H66.2V260.9H66.9M69.8 262.5H68.7V262.8H69.8M69.8 262.1H67.9V262.6H68.7M69.8 263.2H68.7V264.3H69.8M69.8 265.7H68.6V266.1H69.8M69.8 265.4H68.4V265.9H68.6M68.7 263.7H68.2V265.6H68.4M67.9 262.4H67V264.7H68.2M66.2 259.9H64.7V263.5H67M69.8 266.5H67.8V266.8H69.8M67.8 266.6H66.7V267.2H69.8M69.8 267.6H67.3V267.9H69.8M69.8 269.4H68.8V269.7H69.8M69.8 269H68.6V269.6H68.8M69.8 268.6H67.7V269.3H68.6M69.8 268.3H67.4V269H67.7M67.3 267.7H66.6V268.6H67.4M66.7 266.9H65.4V268.2H66.6M69.8 270.1H66.7V270.5H69.8M69.8 270.8H66.8V271.2H69.8M66.7 270.3H65.6V271H66.8M65.4 267.5H64.2V270.7H65.6M64.7 261.7H61.8V269.1H64.2M69.8 271.9H67V272.3H69.8M69.8 271.6H66.3V272.1H67M69.8 272.7H68V273H69.8M69.8 274.1H68.8V274.5H69.8M69.8 273.8H68.4V274.3H68.8M69.8 273.4H68.2V274H68.4M68 272.8H67.5V273.7H68.2M66.3 271.8H65.9V273.3H67.5M69.8 274.8H67.1V275.2H69.8M69.8 275.6H67.4V275.9H69.8M67.1 275H66.4V275.8H67.4M65.9 272.6H64V275.4H66.4M69.8 277.4H68.1V277.8H69.8M69.8 277H66.8V277.6H68.1M69.8 276.7H66V277.3H66.8M69.8 276.3H65.5V277H66M69.8 278.1H68.1V278.5H69.8M69.8 278.9H67.9V279.2H69.8M68.1 278.3H67.6V279H67.9M69.8 279.9H67.5V280.3H69.8M69.8 279.6H67.3V280.1H67.5M67.6 278.7H66.9V279.9H67.3M65.5 276.6H64.7V279.3H66.9M69.8 281.8H68.9V282.1H69.8M69.8 281.4H68.5V281.9H68.9M69.8 281H68.2V281.7H68.5M69.8 280.7H68V281.4H68.2M69.8 282.9H68.6V283.2H69.8M69.8 282.5H68.2V283H68.6M68 281H67.3V282.8H68.2M69.8 283.6H67.5V284H69.8M67.5 283.8H66.4V284.3H69.8M67.3 281.9H65.7V284H66.4M64.7 278H63.2V283H65.7M64 274H59.8V280.5H63.2M61.8 265.4H31V277.2H59.8M37.3 167.4H24.2V269.2H31" fill="none" stroke="#1a1a1a" stroke-width="0.42"/>
<rect x="67.2" y="102.8" width="2.6" height="181.2" fill="#000"/>
<rect x="54" y="454.2" width="12.8" height="178" fill="url(#gC)"/>
<path d="M66.8 452.6H65.7V454.4H66.8M66.8 456.3H65.9V456.8H66.8M66.8 455.9H65.7V456.5H65.9M66.8 457.2H65.8V457.8H66.8M65.7 456.2H65.6V457.5H65.8M65.7 453.5H65.3V456.9H65.6M66.8 458.5H66.1V458.9H66.8M66.1 458.7H65.6V459.3H66.8M66.8 461.5H65.9V462.6H66.8M66.8 460.2H65.6V462.1H65.9M65.6 459H65V461.1H65.6M65.3 455.2H64.1V460.1H65M66.8 463.2H64.1V463.7H66.8M66.8 464.6H65.6V465H66.8M66.8 464.1H65.1V464.8H65.6M66.8 465.4H65.7V465.8H66.8M66.8 466.3H65.4V466.7H66.8M65.7 465.6H65V466.5H65.4M65.1 464.4H63.7V466.1H65M64.1 463.5H63.3V465.3H63.7M64.1 457.6H62.2V464.4H63.3M66.8 467.6H64.3V468H66.8M66.8 467.1H63.8V467.8H64.3M66.8 468.9H64.3V469.3H66.8M66.8 468.4H63.2V469.1H64.3M63.8 467.5H61.6V468.8H63.2M66.8 470.2H65.1V470.6H66.8M66.8 469.8H64.3V470.4H65.1M66.8 471.1H64.2V471.5H66.8M64.3 470.1H63.1V471.3H64.2M61.6 468.1H61.1V470.7H63.1M66.8 471.9H64.1V472.4H66.8M64.1 472.1H63.1V472.8H66.8M61.1 469.4H60.6V472.5H63.1M62.2 461H58.5V470.9H60.6M66.8 474.1H63.8V474.5H66.8M66.8 473.6H63.5V474.3H63.8M66.8 473.2H63.2V474H63.5M66.8 475.4H62.8V475.8H66.8M66.8 474.9H61.7V475.6H62.8M63.2 473.6H61V475.3H61.7M66.8 476.2H64.6V476.7H66.8M66.8 477.6H65.8V478H66.8M66.8 477.1H65.2V477.8H65.8M64.6 476.5H64V477.4H65.2M66.8 478.4H65.2V478.9H66.8M66.8 479.7H65.8V480.1H66.8M66.8 479.3H65.3V479.9H65.8M65.2 478.6H64.1V479.6H65.3M64 477H62.2V479.1H64.1M61 474.4H60.2V478H62.2M66.8 480.6H65.6V481H66.8M66.8 481.4H66V481.9H66.8M65.6 480.8H65.4V481.7H66M66.8 482.3H65.4V482.8H66.8M65.4 481.2H65V482.5H65.4M66.8 483.6H64.5V484.1H66.8M66.8 483.2H63.8V483.8H64.5M65 481.9H63.6V483.5H63.8M66.8 484.5H65.8V484.9H66.8M66.8 485.4H65.9V485.8H66.8M65.8 484.7H65.6V485.6H65.9M66.8 486.2H65.1V486.6H66.8M65.6 485.1H64.6V486.4H65.1M66.8 487.1H65.4V487.5H66.8M66.8 487.9H65V488.4H66.8M65.4 487.3H64.7V488.2H65M64.6 485.8H64.1V487.7H64.7M63.6 482.7H63.3V486.8H64.1M66.8 488.8H65.5V489.2H66.8M66.8 489.7H65.4V490.1H66.8M65.5 489H64.7V489.9H65.4M66.8 490.6H65.8V491.2H66.8M66.8 492.1H65.8V492.7H66.8M65.8 490.9H65.3V492.4H65.8M66.8 493.4H66V494.2H66.8M66.8 494.9H65.9V495.5H66.8M66 493.8H65.4V495.2H65.9M65.3 491.6H64.8V494.5H65.4M64.7 489.5H63.7V493.1H64.8M63.3 484.7H61.7V491.3H63.7M60.2 476.2H59.6V488H61.7M58.5 466H54.8V482.1H59.6M66.8 496.2H64.5V496.6H66.8M66.8 497.9H65.5V498.4H66.8M66.8 497.5H65.1V498.1H65.5M66.8 497.1H64.4V497.8H65.1M64.5 496.4H63.1V497.4H64.4M66.8 498.8H63.1V499.2H66.8M66.8 499.6H65V500.1H66.8M66.8 500.5H65.3V500.9H66.8M65 499.9H64.2V500.7H65.3M66.8 501.4H64.8V501.8H66.8M64.2 500.3H63.6V501.6H64.8M63.1 499H62.1V501H63.6M63.1 496.9H61.4V500H62.1M66.8 502.2H65.5V502.7H66.8M66.8 503.1H65.9V503.6H66.8M66.8 504H65.9V504.4H66.8M65.9 503.3H65.4V504.2H65.9M66.8 504.9H65.7V505.3H66.8M65.4 503.8H65V505.1H65.7M65.5 502.5H64.7V504.4H65M66.8 506.1H64.9V506.6H66.8M66.8 505.7H64.5V506.4H64.9M64.7 503.4H63V506H64.5M66.8 507.4H64.6V507.9H66.8M66.8 507H64.2V507.7H64.6M66.8 509H65.8V509.6H66.8M66.8 508.3H65.5V509.3H65.8M66.8 510.1H65.8V510.5H66.8M65.5 508.8H65.2V510.3H65.8M66.8 510.9H65.2V511.4H66.8M65.2 511.1H65V511.8H66.8M65.2 509.5H63.9V511.5H65M64.2 507.3H63.2V510.5H63.9M63 504.7H60.3V508.9H63.2M61.4 498.4H58.4V506.8H60.3M66.8 512.2H65.1V512.6H66.8M65.1 512.4H63.8V513.1H66.8M66.8 513.5H63.3V514H66.8M63.8 512.8H62.9V513.7H63.3M66.8 515.2H64.2V515.7H66.8M66.8 514.8H63.8V515.5H64.2M66.8 514.4H63.4V515.1H63.8M66.8 517H64.9V517.4H66.8M66.8 516.5H63.5V517.2H64.9M66.8 516.1H62.9V516.9H63.5M63.4 514.8H62.6V516.5H62.9M62.9 513.2H61.4V515.6H62.6M58.4 502.6H57.6V514.4H61.4M66.8 517.9H60.5V518.3H66.8M66.8 518.7H62.5V519.1H66.8M62.5 518.9H60.7V519.6H66.8M60.5 518.1H59.6V519.3H60.7M66.8 520H65.1V520.5H66.8M65.1 520.2H64.3V520.9H66.8M66.8 522.2H65.6V522.6H66.8M66.8 521.8H64.9V522.4H65.6M66.8 521.3H63.7V522.1H64.9M64.3 520.6H62.9V521.7H63.7M66.8 523.5H61.8V523.9H66.8M66.8 523H61.2V523.7H61.8M66.8 524.8H64.4V525.2H66.8M66.8 524.4H62.6V525H64.4M61.2 523.4H60.7V524.7H62.6M62.9 521.1H60.1V524H60.7M59.6 518.7H57.9V522.6H60.1M57.6 508.5H56.7V520.6H57.9M66.8 525.6H62V526.1H66.8M66.8 527H65.6V527.4H66.8M66.8 526.5H65V527.2H65.6M66.8 527.8H63.9V528.2H66.8M65 526.8H63.6V528H63.9M66.8 529.1H64.6V529.5H66.8M66.8 528.7H63.3V529.3H64.6M63.6 527.4H62.1V529H63.3M62 525.9H60.5V528.2H62.1M66.8 530.4H61.8V530.9H66.8M66.8 530H60.5V530.6H61.8M66.8 531.7H63.2V532.1H66.8M63.2 531.9H62.8V532.6H66.8M66.8 531.3H62.5V532.3H62.8M60.5 530.3H59.9V531.8H62.5M60.5 527H59.2V531H59.9M66.8 533H63.9V533.5H66.8M66.8 533.9H64.1V534.3H66.8M63.9 533.2H62.6V534.1H64.1M66.8 535.2H65.2V535.6H66.8M66.8 534.8H64.4V535.4H65.2M66.8 536.1H65.1V536.5H66.8M66.8 536.9H65.2V537.4H66.8M65.1 536.3H64.6V537.1H65.2M64.4 535.1H63.8V536.7H64.6M66.8 537.8H65.2V538.2H66.8M66.8 538.6H65.8V539.1H66.8M65.8 538.9H65.5V539.5H66.8M65.2 538H64.7V539.2H65.5M63.8 535.9H63.4V538.6H64.7M62.6 533.7H61.4V537.2H63.4M59.2 529H57.5V535.5H61.4M56.7 514.6H55.8V532.2H57.5M54.8 474H50V523.4H55.8M66.8 541.2H64.2V541.7H66.8M66.8 540.8H63.9V541.5H64.2M66.8 540.4H63.5V541.1H63.9M66.8 540H62.8V540.8H63.5M66.8 542.6H64V543H66.8M66.8 542.1H61.9V542.8H64M62.8 540.4H61V542.4H61.9M66.8 543.4H63.8V543.9H66.8M66.8 544.3H64.2V544.7H66.8M63.8 543.6H63.4V544.5H64.2M66.8 546.5H65.9V546.9H66.8M66.8 546H65.4V546.7H65.9M66.8 545.6H64.5V546.3H65.4M66.8 545.1H63V546H64.5M63.4 544.1H60.7V545.6H63M61 541.4H58.7V544.8H60.7M66.8 548.6H64.4V549.1H66.8M66.8 548.2H63.7V548.8H64.4M66.8 547.8H62.8V548.5H63.7M66.8 547.3H61.9V548.1H62.8M66.8 550.4H65.7V550.8H66.8M66.8 549.9H65V550.6H65.7M66.8 549.5H64.2V550.2H65M66.8 551.6H64.2V552.1H66.8M66.8 551.2H63.4V551.9H64.2M64.2 549.9H63.1V551.5H63.4M66.8 553.4H64.6V553.8H66.8M66.8 553H63.2V553.6H64.6M66.8 552.5H62.6V553.3H63.2M63.1 550.7H60.6V552.9H62.6M61.9 547.7H59.2V551.8H60.6M66.8 554.7H60.7V555.1H66.8M66.8 554.2H58.9V554.9H60.7M66.8 555.6H64.6V556H66.8M66.8 556.9H64.9V557.3H66.8M66.8 557.7H64.6V558.1H66.8M64.9 557.1H64.3V557.9H64.6M66.8 556.4H63.9V557.5H64.3M64.6 555.8H63.6V557H63.9M66.8 559.5H65.4V559.9H66.8M66.8 560.3H64.8V560.8H66.8M65.4 559.7H64.4V560.5H64.8M66.8 559H64.1V560.1H64.4M66.8 558.6H62.9V559.6H64.1M63.6 556.4H61.5V559.1H62.9M58.9 554.6H57.9V557.7H61.5M59.2 549.8H56V556.1H57.9M66.8 561.2H58.3V561.6H66.8M66.8 562.9H64.2V563.4H66.8M66.8 562.5H63.6V563.1H64.2M66.8 562.1H63.1V562.8H63.6M66.8 563.8H62.9V564.2H66.8M62.9 564H62.2V564.6H66.8M63.1 562.4H60.8V564.3H62.2M58.3 561.4H57.3V563.4H60.8M56 553H53.9V562.4H57.3M58.7 543.1H52.1V557.7H53.9M66.8 565.5H60.2V566H66.8M66.8 565.1H58.8V565.7H60.2M66.8 566.4H60.1V566.8H66.8M58.8 565.4H55.1V566.6H60.1M66.8 567.7H59.6V568.1H66.8M66.8 567.2H56.8V567.9H59.6M66.8 569H63.3V569.4H66.8M66.8 568.6H60.7V569.2H63.3M66.8 569.9H62.4V570.3H66.8M66.8 570.7H62.6V571.1H66.8M66.8 571.6H63V572H66.8M62.6 570.9H61.1V571.8H63M62.4 570.1H60.6V571.4H61.1M60.7 568.9H59.1V570.7H60.6M56.8 567.6H56V569.8H59.1M55.1 566H51.7V568.7H56M52.1 550.4H48.8V567.3H51.7M66.8 572.5H60.8V572.9H66.8M66.8 573.3H62.1V573.8H66.8M60.8 572.7H58.5V573.5H62.1M66.8 575.1H64.8V575.5H66.8M66.8 574.6H63.3V575.3H64.8M66.8 574.2H60.6V574.9H63.3M58.5 573.1H56.8V574.6H60.6M66.8 575.9H61.2V576.4H66.8M66.8 576.8H61.5V577.2H66.8M61.2 576.1H59V577H61.5M66.8 578.5H64.7V579H66.8M66.8 578.1H63.8V578.7H64.7M66.8 577.6H62.4V578.4H63.8M66.8 579.4H61.9V579.8H66.8M62.4 578H58.9V579.6H61.9M59 576.6H54V578.8H58.9M56.8 573.8H52.3V577.7H54M66.8 581.1H64.2V581.5H66.8M66.8 580.7H62.7V581.3H64.2M66.8 580.2H60.6V581H62.7M66.8 582.4H62.4V582.9H66.8M66.8 582H62V582.6H62.4M66.8 583.7H64.5V584.2H66.8M66.8 583.3H62.7V583.9H64.5M66.8 584.6H64V585H66.8M62.7 583.6H62.3V584.8H64M62 582.3H59.1V584.2H62.3M60.6 580.6H58.3V583.3H59.1M66.8 585.5H62.6V585.9H66.8M62.6 585.7H62V586.3H66.8M66.8 587.6H65.1V588H66.8M66.8 587.2H64.8V587.8H65.1M66.8 586.8H63.7V587.5H64.8M66.8 588.5H65.5V588.9H66.8M65.5 588.7H64.6V589.4H66.8M63.7 587.1H62.9V589H64.6M66.8 589.8H63.2V590.2H66.8M66.8 590.7H62.9V591.1H66.8M63.2 590H62.1V590.9H62.9M62.9 588.1H59.7V590.4H62.1M62 586H58.4V589.3H59.7M66.8 592H65.5V592.4H66.8M66.8 591.5H64.7V592.2H65.5M64.7 591.8H63.3V592.8H66.8M66.8 593.7H65.6V594.3H66.8M66.8 595.4H66.1V595.9H66.8M66.8 595H65.5V595.6H66.1M65.6 594H64.7V595.3H65.5M66.8 593.2H63.9V594.7H64.7M66.8 596.3H65.2V596.7H66.8M66.8 597.6H66V598H66.8M66.8 597.2H65.8V597.8H66M66.8 598.5H66V598.9H66.8M66 598.7H65.4V599.3H66.8M65.8 597.5H65.1V599H65.4M65.2 596.5H64.9V598.2H65.1M63.9 594H63.3V597.4H64.9M63.3 592.3H60.7V595.7H63.3M58.4 587.6H57.7V594H60.7M58.3 581.9H53.9V590.8H57.7M66.8 600.2H63.5V600.6H66.8M66.8 601.5H64.1V601.9H66.8M66.8 601.1H62.3V601.7H64.1M63.5 600.4H61.5V601.4H62.3M66.8 599.8H59V600.9H61.5M66.8 602.4H62.1V602.8H66.8M62.1 602.6H58.7V603.2H66.8M59 600.3H58V602.9H58.7M66.8 604.1H58.3V604.5H66.8M66.8 603.7H57.2V604.3H58.3M58 601.6H53.7V604H57.2M53.9 586.4H52V602.8H53.7M52.3 575.8H50.8V594.6H52M48.8 558.9H41V585.2H50.8M50 519H33.6V564H41M66.8 605H58.8V605.4H66.8M66.8 606.2H62.8V606.7H66.8M66.8 605.8H61.8V606.5H62.8M66.8 607.1H62.4V607.6H66.8M61.8 606.1H60.7V607.3H62.4M58.8 605.2H56.7V606.7H60.7M66.8 608H63.1V608.4H66.8M66.8 608.9H62.4V609.3H66.8M62.4 609.1H61.5V609.7H66.8M63.1 608.2H60.3V609.4H61.5M66.8 610.2H60.6V610.6H66.8M66.8 611.5H65.1V611.9H66.8M66.8 612.3H64.8V612.8H66.8M65.1 611.7H63.9V612.5H64.8M66.8 611H63.5V612.1H63.9M66.8 613.2H65.8V613.6H66.8M65.8 613.4H65.1V614H66.8M66.8 614.5H64.7V614.9H66.8M65.1 613.7H64.2V614.7H64.7M63.5 611.6H62.7V614.2H64.2M60.6 610.4H60.1V612.9H62.7M60.3 608.8H58.7V611.6H60.1M66.8 615.4H63V615.8H66.8M66.8 616.2H63.5V616.7H66.8M63 615.6H62.5V616.4H63.5M66.8 617.5H61.8V618H66.8M66.8 617.1H61.3V617.7H61.8M62.5 616H60.5V617.4H61.3M66.8 618.4H62.5V618.8H66.8M62.5 618.6H62V619.2H66.8M60.5 616.7H58.8V618.9H62M58.7 610.2H55.8V617.8H58.8M56.7 606H54.8V614H55.8M66.8 620.1H61.8V620.6H66.8M66.8 619.7H59.9V620.3H61.8M66.8 621H62.6V621.4H66.8M66.8 621.9H62.9V622.3H66.8M62.6 621.2H62.2V622.1H62.9M66.8 623.6H64.3V624H66.8M66.8 623.2H63.3V623.8H64.3M66.8 622.7H62.3V623.5H63.3M66.8 624.5H61.7V624.9H66.8M62.3 623.1H61V624.7H61.7M62.2 621.6H59.6V623.9H61M59.9 620H57.2V622.8H59.6M66.8 625.8H62.6V626.2H66.8M62.6 626H61.5V626.6H66.8M66.8 625.3H60V626.3H61.5M66.8 627.1H63.8V627.5H66.8M66.8 627.9H64.3V628.4H66.8M63.8 627.3H62.4V628.1H64.3M66.8 629.7H65.9V630.1H66.8M66.8 629.2H65.5V629.9H65.9M66.8 628.8H64.5V629.5H65.5M66.8 631H64.8V631.4H66.8M66.8 630.5H64.6V631.2H64.8M64.5 629.2H63.5V630.8H64.6M66.8 631.8H65.2V632.2H66.8M66.8 632.7H65V633.1H66.8M65.2 632H64.5V632.9H65M66.8 633.6H64.1V634H66.8M64.5 632.5H63.8V633.8H64.1M63.5 630H63.1V633.1H63.8M62.4 627.7H61.2V631.6H63.1M60 625.8H57.6V629.6H61.2M57.2 621.4H52.8V627.7H57.6M54.8 610H43.7V624.5H52.8M33.6 541.5H25.5V618H43.7" fill="none" stroke="#7a7a7a" stroke-width="0.45"/>
<rect x="66.7" y="452.7" width="5.6" height="181" fill="#6d6d72"/>
<text x="78.92" y="288" font-size="8.6" text-anchor="end" fill="#1a1a1a" transform="rotate(-90 78.92 288)" textLength="15.6" lengthAdjust="spacingAndGlyphs">2238</text>
<text x="90.34" y="288" font-size="8.6" text-anchor="end" fill="#1a1a1a" transform="rotate(-90 90.34 288)" textLength="15.6" lengthAdjust="spacingAndGlyphs">3314</text>
<text x="101.78" y="288" font-size="8.6" text-anchor="end" fill="#1a1a1a" transform="rotate(-90 101.78 288)" textLength="15.6" lengthAdjust="spacingAndGlyphs">6947</text>
<text x="113.2" y="288" font-size="8.6" text-anchor="end" fill="#1a1a1a" transform="rotate(-90 113.2 288)" textLength="15.6" lengthAdjust="spacingAndGlyphs">2668</text>
<text x="124.64" y="288" font-size="8.6" text-anchor="end" fill="#1a1a1a" transform="rotate(-90 124.64 288)" textLength="15.6" lengthAdjust="spacingAndGlyphs">3491</text>
<text x="136.06" y="288" font-size="8.6" text-anchor="end" fill="#1a1a1a" transform="rotate(-90 136.06 288)" textLength="15.6" lengthAdjust="spacingAndGlyphs">3483</text>
<text x="147.5" y="288" font-size="8.6" text-anchor="end" fill="#1a1a1a" transform="rotate(-90 147.5 288)" textLength="15.6" lengthAdjust="spacingAndGlyphs">7076</text>
<text x="158.93" y="288" font-size="8.6" text-anchor="end" fill="#1a1a1a" transform="rotate(-90 158.93 288)" textLength="15.6" lengthAdjust="spacingAndGlyphs">2686</text>
<text x="172.46" y="288" font-size="8.6" text-anchor="end" fill="#1a1a1a" transform="rotate(-90 172.46 288)" textLength="32.3" lengthAdjust="spacingAndGlyphs">CD34+ #1</text>
<text x="183.88" y="288" font-size="8.6" text-anchor="end" fill="#1a1a1a" transform="rotate(-90 183.88 288)" textLength="32.3" lengthAdjust="spacingAndGlyphs">CD34+ #4</text>
<text x="195.31" y="288" font-size="8.6" text-anchor="end" fill="#1a1a1a" transform="rotate(-90 195.31 288)" textLength="32.3" lengthAdjust="spacingAndGlyphs">CD34+ #2</text>
<text x="206.74" y="288" font-size="8.6" text-anchor="end" fill="#1a1a1a" transform="rotate(-90 206.74 288)" textLength="32.3" lengthAdjust="spacingAndGlyphs">CD34+ #6</text>
<text x="218.17" y="288" font-size="8.6" text-anchor="end" fill="#1a1a1a" transform="rotate(-90 218.17 288)" textLength="32.3" lengthAdjust="spacingAndGlyphs">CD34+ #7</text>
<text x="229.6" y="288" font-size="8.6" text-anchor="end" fill="#1a1a1a" transform="rotate(-90 229.6 288)" textLength="32.3" lengthAdjust="spacingAndGlyphs">CD34+ #8</text>
<text x="241.03" y="288" font-size="8.6" text-anchor="end" fill="#1a1a1a" transform="rotate(-90 241.03 288)" textLength="32.3" lengthAdjust="spacingAndGlyphs">CD34+ #5</text>
<text x="252.47" y="288" font-size="8.6" text-anchor="end" fill="#1a1a1a" transform="rotate(-90 252.47 288)" textLength="32.3" lengthAdjust="spacingAndGlyphs">CD34+ #3</text>
<text x="81.6" y="637" font-size="8.6" text-anchor="end" fill="#1a1a1a" transform="rotate(-90 81.6 637)" textLength="15.2" lengthAdjust="spacingAndGlyphs">2242</text>
<text x="93" y="637" font-size="8.6" text-anchor="end" fill="#1a1a1a" transform="rotate(-90 93 637)" textLength="15.2" lengthAdjust="spacingAndGlyphs">3327</text>
<text x="104.4" y="637" font-size="8.6" text-anchor="end" fill="#1a1a1a" transform="rotate(-90 104.4 637)" textLength="15.2" lengthAdjust="spacingAndGlyphs">2192</text>
<text x="115.8" y="637" font-size="8.6" text-anchor="end" fill="#1a1a1a" transform="rotate(-90 115.8 637)" textLength="15.2" lengthAdjust="spacingAndGlyphs">2218</text>
<text x="127.2" y="637" font-size="8.6" text-anchor="end" fill="#1a1a1a" transform="rotate(-90 127.2 637)" textLength="15.2" lengthAdjust="spacingAndGlyphs">2545</text>
<text x="138.6" y="637" font-size="8.6" text-anchor="end" fill="#1a1a1a" transform="rotate(-90 138.6 637)" textLength="15.2" lengthAdjust="spacingAndGlyphs">2273</text>
<text x="150" y="637" font-size="8.6" text-anchor="end" fill="#1a1a1a" transform="rotate(-90 150 637)" textLength="15.2" lengthAdjust="spacingAndGlyphs">1316</text>
<text x="161.4" y="637" font-size="8.6" text-anchor="end" fill="#1a1a1a" transform="rotate(-90 161.4 637)" textLength="15.2" lengthAdjust="spacingAndGlyphs">2753</text>
<text x="174" y="637" font-size="8.6" text-anchor="end" fill="#1a1a1a" transform="rotate(-90 174 637)" textLength="32.4" lengthAdjust="spacingAndGlyphs">CD34+ #6</text>
<text x="185.4" y="637" font-size="8.6" text-anchor="end" fill="#1a1a1a" transform="rotate(-90 185.4 637)" textLength="32.4" lengthAdjust="spacingAndGlyphs">CD34+ #5</text>
<text x="196.8" y="637" font-size="8.6" text-anchor="end" fill="#1a1a1a" transform="rotate(-90 196.8 637)" textLength="32.4" lengthAdjust="spacingAndGlyphs">CD34+ #7</text>
<text x="208.2" y="637" font-size="8.6" text-anchor="end" fill="#1a1a1a" transform="rotate(-90 208.2 637)" textLength="32.4" lengthAdjust="spacingAndGlyphs">CD34+ #8</text>
<text x="219.6" y="637" font-size="8.6" text-anchor="end" fill="#1a1a1a" transform="rotate(-90 219.6 637)" textLength="32.4" lengthAdjust="spacingAndGlyphs">CD34+ #3</text>
<text x="231" y="637" font-size="8.6" text-anchor="end" fill="#1a1a1a" transform="rotate(-90 231 637)" textLength="32.4" lengthAdjust="spacingAndGlyphs">CD34+ #1</text>
<text x="242.4" y="637" font-size="8.6" text-anchor="end" fill="#1a1a1a" transform="rotate(-90 242.4 637)" textLength="32.4" lengthAdjust="spacingAndGlyphs">CD34+ #4</text>
<text x="253.8" y="637" font-size="8.6" text-anchor="end" fill="#1a1a1a" transform="rotate(-90 253.8 637)" textLength="32.4" lengthAdjust="spacingAndGlyphs">CD34+ #2</text>
<path d="M70.5 322.6 Q70.5 329.6 77.5 329.6 H154.2 Q161.2 329.6 161.2 322.6" fill="none" stroke="#111" stroke-width="1.45"/>
<path d="M164.6 322.6 Q164.6 329.6 171.6 329.6 H247.2 Q254.2 329.6 254.2 322.6" fill="none" stroke="#111" stroke-width="1.45"/>
<path d="M73 674 Q73 681.2 80 681.2 H156.5 Q163.5 681.2 163.5 674" fill="none" stroke="#111" stroke-width="1.45"/>
<path d="M167.6 673.6 Q167.6 680.8 174.6 680.8 H249.3 Q256.3 680.8 256.3 673.6" fill="none" stroke="#111" stroke-width="1.45"/>
<text x="98" y="343.8" font-size="9.4" font-style="italic" fill="#222" textLength="38.8" lengthAdjust="spacingAndGlyphs">CEBPA<tspan font-size="6.2" dy="-3.2">sil</tspan></text>
<text x="160.9" y="343.1" font-size="9.3" fill="#222" textLength="98.4" lengthAdjust="spacingAndGlyphs">Normal CD34+ BM cells</text>
<text x="99" y="694" font-size="9.4" font-style="italic" fill="#222" textLength="41.8" lengthAdjust="spacingAndGlyphs">CEBPA<tspan font-size="6.2" dy="-3.2">mut</tspan></text>
<text x="163.9" y="693.8" font-size="9.3" fill="#222" textLength="96.2" lengthAdjust="spacingAndGlyphs">Normal CD34+ BM cells</text>
<path d="M375 173h1v1h-1zM374 174h1v1h-1zM378 174h1v1h-1zM378 176h1v1h-1zM376 177h1v1h-1zM375 178h1v1h-1zM374 179h1v1h-1zM375 180h1v1h-1zM375 182h2v1h-2zM379 182h1v1h-1zM378 183h1v1h-1zM379 184h1v1h-1zM379 186h1v1h-1zM374 187h1v1h-1zM381 187h1v1h-1zM375 188h2v1h-2zM378 188h1v1h-1zM381 189h2v1h-2zM374 190h1v1h-1zM379 190h2v1h-2zM374 191h1v1h-1zM379 191h1v1h-1zM378 192h1v1h-1zM383 192h1v1h-1zM374 193h1v1h-1zM378 193h1v1h-1zM380 193h2v1h-2zM384 194h1v1h-1zM375 195h1v1h-1zM381 195h1v1h-1zM384 195h1v1h-1zM378 196h1v1h-1zM375 197h1v1h-1zM380 197h1v1h-1zM382 197h1v1h-1zM376 199h1v1h-1zM378 199h1v1h-1zM381 199h1v1h-1zM383 199h1v1h-1zM451 199h1v1h-1zM375 200h1v1h-1zM378 200h1v1h-1zM380 200h3v1h-3zM384 200h1v1h-1zM453 200h1v1h-1zM375 201h2v1h-2zM379 201h1v1h-1zM382 201h1v1h-1zM451 201h1v1h-1zM383 202h2v1h-2zM386 202h1v1h-1zM461 202h1v1h-1zM376 203h1v1h-1zM378 203h1v1h-1zM381 203h1v1h-1zM383 203h1v1h-1zM374 204h1v1h-1zM376 204h2v1h-2zM382 204h3v1h-3zM460 204h1v1h-1zM376 205h1v1h-1zM380 205h1v1h-1zM385 205h2v1h-2zM388 205h1v1h-1zM376 206h1v1h-1zM382 206h2v1h-2zM388 206h1v1h-1zM459 206h1v1h-1zM376 207h2v1h-2zM380 207h1v1h-1zM383 207h3v1h-3zM387 207h1v1h-1zM450 207h1v1h-1zM453 207h1v1h-1zM384 208h1v1h-1zM387 208h2v1h-2zM376 209h1v1h-1zM383 209h3v1h-3zM388 209h1v1h-1zM381 210h2v1h-2zM384 210h1v1h-1zM390 210h1v1h-1zM378 211h1v1h-1zM380 211h2v1h-2zM385 211h1v1h-1zM374 212h1v1h-1zM378 212h1v1h-1zM380 212h8v1h-8zM377 213h1v1h-1zM380 213h2v1h-2zM387 213h1v1h-1zM390 213h1v1h-1zM458 213h1v1h-1zM379 214h4v1h-4zM384 214h8v1h-8zM455 214h1v1h-1zM374 215h1v1h-1zM381 215h1v1h-1zM383 215h2v1h-2zM386 215h1v1h-1zM388 215h1v1h-1zM390 215h1v1h-1zM446 215h1v1h-1zM449 215h1v1h-1zM455 215h1v1h-1zM375 216h2v1h-2zM380 216h1v1h-1zM384 216h1v1h-1zM386 216h1v1h-1zM389 216h1v1h-1zM391 216h1v1h-1zM454 216h1v1h-1zM456 216h1v1h-1zM377 217h1v1h-1zM381 217h3v1h-3zM385 217h2v1h-2zM390 217h2v1h-2zM378 218h2v1h-2zM381 218h1v1h-1zM385 218h5v1h-5zM375 219h2v1h-2zM378 219h1v1h-1zM386 219h1v1h-1zM391 219h1v1h-1zM393 219h1v1h-1zM374 220h1v1h-1zM380 220h1v1h-1zM384 220h2v1h-2zM387 220h4v1h-4zM457 220h1v1h-1zM375 221h1v1h-1zM378 221h1v1h-1zM380 221h5v1h-5zM386 221h1v1h-1zM388 221h7v1h-7zM448 221h1v1h-1zM374 222h1v1h-1zM377 222h2v1h-2zM381 222h2v1h-2zM384 222h3v1h-3zM388 222h1v1h-1zM392 222h1v1h-1zM374 223h1v1h-1zM377 223h12v1h-12zM390 223h3v1h-3zM394 223h1v1h-1zM451 223h1v1h-1zM380 224h1v1h-1zM383 224h3v1h-3zM387 224h1v1h-1zM390 224h3v1h-3zM394 224h1v1h-1zM444 224h1v1h-1zM376 225h1v1h-1zM378 225h2v1h-2zM381 225h1v1h-1zM383 225h2v1h-2zM387 225h7v1h-7zM395 225h1v1h-1zM374 226h1v1h-1zM384 226h4v1h-4zM389 226h7v1h-7zM442 226h1v1h-1zM374 227h1v1h-1zM377 227h3v1h-3zM381 227h1v1h-1zM384 227h1v1h-1zM388 227h2v1h-2zM392 227h1v1h-1zM450 227h1v1h-1zM460 227h1v1h-1zM376 228h1v1h-1zM378 228h2v1h-2zM382 228h3v1h-3zM386 228h6v1h-6zM393 228h2v1h-2zM446 228h1v1h-1zM457 228h1v1h-1zM374 229h4v1h-4zM379 229h1v1h-1zM383 229h2v1h-2zM387 229h1v1h-1zM389 229h1v1h-1zM393 229h1v1h-1zM444 229h1v1h-1zM452 229h1v1h-1zM459 229h2v1h-2zM375 230h3v1h-3zM380 230h1v1h-1zM382 230h4v1h-4zM387 230h2v1h-2zM391 230h4v1h-4zM442 230h1v1h-1zM456 230h3v1h-3zM377 231h2v1h-2zM380 231h1v1h-1zM383 231h2v1h-2zM387 231h1v1h-1zM390 231h1v1h-1zM393 231h1v1h-1zM395 231h3v1h-3zM451 231h1v1h-1zM376 232h3v1h-3zM381 232h1v1h-1zM384 232h2v1h-2zM387 232h1v1h-1zM389 232h3v1h-3zM394 232h1v1h-1zM396 232h2v1h-2zM442 232h1v1h-1zM444 232h1v1h-1zM451 232h2v1h-2zM455 232h1v1h-1zM462 232h1v1h-1zM374 233h1v1h-1zM379 233h2v1h-2zM385 233h5v1h-5zM391 233h4v1h-4zM397 233h1v1h-1zM441 233h1v1h-1zM446 233h1v1h-1zM458 233h1v1h-1zM374 234h1v1h-1zM377 234h1v1h-1zM379 234h1v1h-1zM381 234h3v1h-3zM385 234h1v1h-1zM387 234h3v1h-3zM393 234h1v1h-1zM395 234h3v1h-3zM441 234h1v1h-1zM444 234h1v1h-1zM448 234h1v1h-1zM457 234h1v1h-1zM374 235h1v1h-1zM376 235h5v1h-5zM383 235h1v1h-1zM385 235h3v1h-3zM389 235h4v1h-4zM394 235h1v1h-1zM396 235h2v1h-2zM441 235h1v1h-1zM444 235h1v1h-1zM448 235h1v1h-1zM462 235h1v1h-1zM377 236h3v1h-3zM381 236h2v1h-2zM384 236h2v1h-2zM387 236h4v1h-4zM392 236h3v1h-3zM396 236h1v1h-1zM442 236h1v1h-1zM448 236h1v1h-1zM455 236h1v1h-1zM374 237h2v1h-2zM377 237h3v1h-3zM381 237h1v1h-1zM384 237h1v1h-1zM387 237h4v1h-4zM393 237h1v1h-1zM395 237h1v1h-1zM398 237h1v1h-1zM440 237h1v1h-1zM444 237h1v1h-1zM451 237h1v1h-1zM458 237h1v1h-1zM374 238h1v1h-1zM376 238h4v1h-4zM381 238h3v1h-3zM385 238h2v1h-2zM388 238h1v1h-1zM392 238h6v1h-6zM442 238h1v1h-1zM447 238h1v1h-1zM449 238h1v1h-1zM451 238h1v1h-1zM458 238h1v1h-1zM460 238h2v1h-2zM379 239h2v1h-2zM384 239h2v1h-2zM387 239h1v1h-1zM389 239h2v1h-2zM392 239h4v1h-4zM397 239h3v1h-3zM439 239h1v1h-1zM441 239h1v1h-1zM445 239h1v1h-1zM449 239h2v1h-2zM452 239h1v1h-1zM458 239h1v1h-1zM375 240h1v1h-1zM378 240h1v1h-1zM381 240h1v1h-1zM383 240h7v1h-7zM392 240h1v1h-1zM395 240h2v1h-2zM398 240h3v1h-3zM438 240h1v1h-1zM449 240h1v1h-1zM460 240h1v1h-1zM381 241h1v1h-1zM385 241h1v1h-1zM387 241h6v1h-6zM394 241h1v1h-1zM396 241h2v1h-2zM399 241h1v1h-1zM449 241h1v1h-1zM453 241h1v1h-1zM458 241h1v1h-1zM375 242h4v1h-4zM381 242h2v1h-2zM384 242h3v1h-3zM388 242h13v1h-13zM439 242h2v1h-2zM443 242h1v1h-1zM445 242h1v1h-1zM449 242h2v1h-2zM453 242h2v1h-2zM376 243h1v1h-1zM378 243h1v1h-1zM380 243h2v1h-2zM383 243h13v1h-13zM397 243h4v1h-4zM437 243h1v1h-1zM440 243h1v1h-1zM442 243h1v1h-1zM449 243h1v1h-1zM453 243h1v1h-1zM455 243h1v1h-1zM374 244h1v1h-1zM378 244h1v1h-1zM380 244h4v1h-4zM385 244h5v1h-5zM392 244h3v1h-3zM397 244h5v1h-5zM438 244h2v1h-2zM445 244h1v1h-1zM450 244h1v1h-1zM458 244h1v1h-1zM374 245h1v1h-1zM376 245h1v1h-1zM379 245h1v1h-1zM382 245h2v1h-2zM385 245h2v1h-2zM389 245h10v1h-10zM400 245h2v1h-2zM440 245h2v1h-2zM443 245h1v1h-1zM445 245h1v1h-1zM452 245h1v1h-1zM455 245h1v1h-1zM460 245h1v1h-1zM374 246h1v1h-1zM378 246h1v1h-1zM380 246h23v1h-23zM436 246h1v1h-1zM441 246h3v1h-3zM456 246h1v1h-1zM460 246h1v1h-1zM378 247h1v1h-1zM380 247h1v1h-1zM382 247h1v1h-1zM384 247h2v1h-2zM387 247h15v1h-15zM435 247h1v1h-1zM438 247h1v1h-1zM442 247h1v1h-1zM444 247h1v1h-1zM455 247h1v1h-1zM373 248h1v1h-1zM377 248h1v1h-1zM381 248h2v1h-2zM384 248h8v1h-8zM393 248h10v1h-10zM435 248h3v1h-3zM440 248h3v1h-3zM445 248h1v1h-1zM447 248h1v1h-1zM455 248h2v1h-2zM460 248h1v1h-1zM469 248h1v1h-1zM363 249h1v1h-1zM370 249h1v1h-1zM374 249h1v1h-1zM382 249h1v1h-1zM385 249h1v1h-1zM387 249h4v1h-4zM392 249h4v1h-4zM397 249h6v1h-6zM437 249h1v1h-1zM442 249h2v1h-2zM448 249h1v1h-1zM455 249h1v1h-1zM458 249h3v1h-3zM369 250h1v1h-1zM371 250h1v1h-1zM376 250h1v1h-1zM379 250h5v1h-5zM385 250h5v1h-5zM391 250h5v1h-5zM397 250h7v1h-7zM437 250h1v1h-1zM440 250h1v1h-1zM445 250h1v1h-1zM454 250h1v1h-1zM464 250h1v1h-1zM474 250h1v1h-1zM483 250h1v1h-1zM501 250h1v1h-1zM373 251h1v1h-1zM375 251h1v1h-1zM377 251h1v1h-1zM381 251h1v1h-1zM383 251h2v1h-2zM386 251h4v1h-4zM392 251h12v1h-12zM433 251h1v1h-1zM435 251h3v1h-3zM443 251h1v1h-1zM446 251h2v1h-2zM451 251h1v1h-1zM461 251h1v1h-1zM463 251h1v1h-1zM475 251h1v1h-1zM373 252h1v1h-1zM384 252h1v1h-1zM387 252h18v1h-18zM435 252h1v1h-1zM439 252h1v1h-1zM441 252h1v1h-1zM445 252h1v1h-1zM449 252h1v1h-1zM452 252h1v1h-1zM469 252h1v1h-1zM374 253h1v1h-1zM376 253h1v1h-1zM378 253h3v1h-3zM386 253h3v1h-3zM390 253h15v1h-15zM436 253h1v1h-1zM438 253h1v1h-1zM441 253h1v1h-1zM444 253h2v1h-2zM448 253h2v1h-2zM453 253h1v1h-1zM487 253h1v1h-1zM370 254h1v1h-1zM372 254h1v1h-1zM378 254h1v1h-1zM382 254h2v1h-2zM385 254h1v1h-1zM387 254h1v1h-1zM389 254h16v1h-16zM437 254h1v1h-1zM440 254h2v1h-2zM446 254h1v1h-1zM449 254h3v1h-3zM459 254h1v1h-1zM492 254h1v1h-1zM381 255h1v1h-1zM384 255h1v1h-1zM386 255h2v1h-2zM389 255h16v1h-16zM432 255h2v1h-2zM438 255h2v1h-2zM441 255h1v1h-1zM447 255h1v1h-1zM451 255h1v1h-1zM458 255h1v1h-1zM373 256h1v1h-1zM379 256h2v1h-2zM384 256h1v1h-1zM386 256h20v1h-20zM432 256h2v1h-2zM436 256h1v1h-1zM438 256h3v1h-3zM445 256h1v1h-1zM447 256h2v1h-2zM468 256h1v1h-1zM367 257h1v1h-1zM376 257h1v1h-1zM379 257h2v1h-2zM382 257h1v1h-1zM385 257h1v1h-1zM387 257h19v1h-19zM431 257h1v1h-1zM435 257h2v1h-2zM441 257h2v1h-2zM369 258h1v1h-1zM382 258h1v1h-1zM386 258h1v1h-1zM388 258h8v1h-8zM398 258h8v1h-8zM431 258h1v1h-1zM434 258h1v1h-1zM436 258h1v1h-1zM438 258h1v1h-1zM442 258h2v1h-2zM445 258h3v1h-3zM451 258h2v1h-2zM454 258h1v1h-1zM465 258h1v1h-1zM381 259h2v1h-2zM384 259h1v1h-1zM387 259h2v1h-2zM390 259h4v1h-4zM395 259h12v1h-12zM431 259h2v1h-2zM436 259h1v1h-1zM439 259h2v1h-2zM442 259h1v1h-1zM444 259h4v1h-4zM449 259h2v1h-2zM376 260h1v1h-1zM379 260h1v1h-1zM384 260h1v1h-1zM386 260h3v1h-3zM391 260h2v1h-2zM394 260h13v1h-13zM430 260h3v1h-3zM434 260h4v1h-4zM440 260h2v1h-2zM446 260h1v1h-1zM451 260h1v1h-1zM453 260h1v1h-1zM376 261h1v1h-1zM380 261h1v1h-1zM384 261h1v1h-1zM386 261h22v1h-22zM430 261h2v1h-2zM434 261h1v1h-1zM436 261h5v1h-5zM442 261h1v1h-1zM444 261h1v1h-1zM447 261h3v1h-3zM373 262h2v1h-2zM377 262h1v1h-1zM379 262h1v1h-1zM381 262h1v1h-1zM385 262h1v1h-1zM387 262h1v1h-1zM389 262h19v1h-19zM431 262h1v1h-1zM433 262h4v1h-4zM439 262h2v1h-2zM444 262h1v1h-1zM446 262h1v1h-1zM385 263h5v1h-5zM392 263h16v1h-16zM431 263h1v1h-1zM433 263h3v1h-3zM438 263h2v1h-2zM443 263h2v1h-2zM448 263h1v1h-1zM453 263h1v1h-1zM375 264h2v1h-2zM380 264h1v1h-1zM386 264h2v1h-2zM389 264h4v1h-4zM394 264h6v1h-6zM401 264h5v1h-5zM407 264h1v1h-1zM429 264h4v1h-4zM434 264h1v1h-1zM436 264h1v1h-1zM439 264h1v1h-1zM441 264h4v1h-4zM448 264h3v1h-3zM453 264h1v1h-1zM457 264h1v1h-1zM375 265h1v1h-1zM388 265h2v1h-2zM392 265h17v1h-17zM429 265h3v1h-3zM433 265h5v1h-5zM439 265h5v1h-5zM449 265h1v1h-1zM454 265h1v1h-1zM383 266h1v1h-1zM385 266h1v1h-1zM387 266h3v1h-3zM391 266h18v1h-18zM430 266h7v1h-7zM440 266h1v1h-1zM442 266h2v1h-2zM445 266h1v1h-1zM374 267h1v1h-1zM380 267h1v1h-1zM387 267h7v1h-7zM395 267h14v1h-14zM428 267h7v1h-7zM436 267h6v1h-6zM444 267h1v1h-1zM448 267h1v1h-1zM383 268h1v1h-1zM386 268h1v1h-1zM388 268h1v1h-1zM390 268h20v1h-20zM429 268h2v1h-2zM432 268h1v1h-1zM434 268h6v1h-6zM441 268h1v1h-1zM443 268h2v1h-2zM461 268h1v1h-1zM387 269h1v1h-1zM389 269h2v1h-2zM392 269h18v1h-18zM428 269h6v1h-6zM435 269h2v1h-2zM438 269h4v1h-4zM444 269h1v1h-1zM448 269h1v1h-1zM451 269h1v1h-1zM385 270h1v1h-1zM390 270h3v1h-3zM394 270h1v1h-1zM396 270h14v1h-14zM427 270h5v1h-5zM433 270h6v1h-6zM442 270h3v1h-3zM457 270h1v1h-1zM378 271h1v1h-1zM387 271h3v1h-3zM393 271h18v1h-18zM427 271h7v1h-7zM435 271h1v1h-1zM439 271h1v1h-1zM442 271h1v1h-1zM444 271h2v1h-2zM448 271h1v1h-1zM374 272h1v1h-1zM384 272h1v1h-1zM386 272h1v1h-1zM389 272h1v1h-1zM391 272h1v1h-1zM393 272h18v1h-18zM428 272h7v1h-7zM436 272h4v1h-4zM442 272h1v1h-1zM389 273h1v1h-1zM392 273h2v1h-2zM395 273h16v1h-16zM426 273h8v1h-8zM435 273h2v1h-2zM439 273h3v1h-3zM385 274h1v1h-1zM391 274h5v1h-5zM397 274h15v1h-15zM426 274h9v1h-9zM436 274h1v1h-1zM439 274h1v1h-1zM441 274h4v1h-4zM446 274h1v1h-1zM450 274h1v1h-1zM389 275h1v1h-1zM391 275h1v1h-1zM393 275h7v1h-7zM401 275h11v1h-11zM425 275h9v1h-9zM435 275h2v1h-2zM439 275h1v1h-1zM441 275h1v1h-1zM443 275h1v1h-1zM387 276h1v1h-1zM389 276h1v1h-1zM392 276h1v1h-1zM394 276h1v1h-1zM398 276h15v1h-15zM425 276h2v1h-2zM428 276h5v1h-5zM434 276h3v1h-3zM441 276h1v1h-1zM386 277h1v1h-1zM388 277h1v1h-1zM390 277h1v1h-1zM394 277h2v1h-2zM397 277h1v1h-1zM399 277h14v1h-14zM424 277h12v1h-12zM437 277h1v1h-1zM439 277h1v1h-1zM390 278h1v1h-1zM393 278h3v1h-3zM397 278h1v1h-1zM399 278h14v1h-14zM424 278h10v1h-10zM435 278h1v1h-1zM437 278h1v1h-1zM440 278h1v1h-1zM393 279h1v1h-1zM395 279h1v1h-1zM398 279h15v1h-15zM424 279h6v1h-6zM431 279h5v1h-5zM437 279h3v1h-3zM390 280h1v1h-1zM394 280h1v1h-1zM400 280h14v1h-14zM423 280h10v1h-10zM434 280h3v1h-3zM438 280h2v1h-2zM390 281h1v1h-1zM393 281h1v1h-1zM395 281h4v1h-4zM400 281h14v1h-14zM423 281h11v1h-11zM436 281h1v1h-1zM396 282h2v1h-2zM399 282h15v1h-15zM423 282h8v1h-8zM432 282h2v1h-2zM435 282h2v1h-2zM440 282h1v1h-1zM395 283h1v1h-1zM397 283h3v1h-3zM401 283h1v1h-1zM403 283h12v1h-12zM422 283h9v1h-9zM432 283h2v1h-2zM395 284h1v1h-1zM399 284h2v1h-2zM403 284h12v1h-12zM422 284h5v1h-5zM428 284h4v1h-4zM434 284h1v1h-1zM438 284h1v1h-1zM398 285h1v1h-1zM400 285h2v1h-2zM403 285h12v1h-12zM422 285h13v1h-13zM401 286h15v1h-15zM421 286h12v1h-12zM434 286h1v1h-1zM398 287h3v1h-3zM404 287h12v1h-12zM421 287h7v1h-7zM429 287h4v1h-4zM400 288h16v1h-16zM421 288h9v1h-9zM431 288h1v1h-1zM437 288h1v1h-1zM400 289h1v1h-1zM403 289h14v1h-14zM421 289h9v1h-9zM431 289h1v1h-1zM400 290h1v1h-1zM403 290h14v1h-14zM420 290h8v1h-8zM429 290h1v1h-1zM431 290h1v1h-1zM400 291h1v1h-1zM405 291h2v1h-2zM408 291h9v1h-9zM420 291h9v1h-9zM430 291h1v1h-1zM405 292h13v1h-13zM420 292h8v1h-8zM429 292h1v1h-1zM403 293h1v1h-1zM406 293h12v1h-12zM419 293h6v1h-6zM426 293h2v1h-2zM432 293h1v1h-1zM409 294h9v1h-9zM419 294h7v1h-7zM427 294h1v1h-1zM408 295h1v1h-1zM410 295h18v1h-18zM410 296h1v1h-1zM412 296h12v1h-12z" fill="#111"/>
<path d="M335 106h1v1h-1zM347 124h1v1h-1zM340 127h1v1h-1zM360 130h1v1h-1zM345 132h1v1h-1zM331 137h1v1h-1zM367 137h1v1h-1zM327 147h1v1h-1zM331 147h1v1h-1zM335 150h1v1h-1zM339 150h1v1h-1zM338 151h1v1h-1zM341 151h1v1h-1zM338 152h1v1h-1zM346 152h1v1h-1zM330 153h1v1h-1zM334 153h1v1h-1zM338 153h1v1h-1zM335 154h1v1h-1zM342 154h1v1h-1zM344 154h1v1h-1zM330 155h1v1h-1zM345 155h1v1h-1zM347 155h1v1h-1zM350 155h1v1h-1zM336 156h1v1h-1zM349 156h3v1h-3zM330 157h1v1h-1zM346 157h3v1h-3zM351 157h1v1h-1zM342 158h1v1h-1zM344 159h1v1h-1zM351 159h1v1h-1zM336 160h1v1h-1zM338 160h1v1h-1zM340 160h1v1h-1zM353 160h3v1h-3zM347 161h1v1h-1zM350 161h1v1h-1zM353 161h1v1h-1zM358 161h1v1h-1zM329 162h1v1h-1zM333 162h1v1h-1zM349 162h1v1h-1zM355 162h1v1h-1zM344 163h1v1h-1zM348 163h1v1h-1zM351 163h1v1h-1zM360 163h1v1h-1zM341 164h1v1h-1zM351 164h1v1h-1zM358 164h1v1h-1zM339 165h1v1h-1zM341 165h1v1h-1zM344 165h2v1h-2zM349 165h1v1h-1zM355 165h1v1h-1zM357 165h1v1h-1zM341 166h1v1h-1zM344 166h2v1h-2zM347 166h1v1h-1zM357 166h1v1h-1zM345 167h1v1h-1zM351 167h1v1h-1zM354 167h1v1h-1zM358 167h1v1h-1zM495 167h1v1h-1zM359 168h2v1h-2zM364 168h1v1h-1zM366 168h1v1h-1zM334 169h1v1h-1zM336 169h1v1h-1zM341 169h1v1h-1zM360 169h2v1h-2zM363 169h1v1h-1zM365 169h1v1h-1zM331 170h1v1h-1zM334 170h1v1h-1zM353 170h1v1h-1zM357 170h2v1h-2zM360 170h1v1h-1zM332 171h1v1h-1zM344 171h1v1h-1zM350 171h1v1h-1zM353 171h1v1h-1zM358 171h1v1h-1zM365 171h1v1h-1zM347 172h1v1h-1zM352 172h1v1h-1zM354 172h1v1h-1zM356 172h1v1h-1zM358 172h4v1h-4zM368 172h1v1h-1zM370 172h1v1h-1zM339 173h2v1h-2zM352 173h1v1h-1zM354 173h1v1h-1zM359 173h1v1h-1zM363 173h1v1h-1zM366 173h2v1h-2zM338 174h1v1h-1zM354 174h1v1h-1zM358 174h1v1h-1zM362 174h1v1h-1zM364 174h3v1h-3zM370 174h1v1h-1zM373 174h1v1h-1zM338 175h1v1h-1zM345 175h1v1h-1zM347 175h2v1h-2zM354 175h1v1h-1zM359 175h2v1h-2zM363 175h1v1h-1zM367 175h1v1h-1zM371 175h1v1h-1zM373 175h1v1h-1zM335 176h2v1h-2zM339 176h2v1h-2zM353 176h1v1h-1zM355 176h2v1h-2zM359 176h1v1h-1zM362 176h2v1h-2zM367 176h1v1h-1zM369 176h3v1h-3zM337 177h3v1h-3zM347 177h1v1h-1zM367 177h1v1h-1zM340 178h1v1h-1zM352 178h1v1h-1zM354 178h1v1h-1zM356 178h1v1h-1zM359 178h1v1h-1zM363 178h2v1h-2zM367 178h1v1h-1zM373 178h1v1h-1zM495 178h1v1h-1zM352 179h1v1h-1zM355 179h1v1h-1zM359 179h1v1h-1zM361 179h1v1h-1zM367 179h2v1h-2zM334 180h1v1h-1zM336 180h1v1h-1zM361 180h1v1h-1zM364 180h1v1h-1zM336 181h1v1h-1zM350 181h1v1h-1zM353 181h1v1h-1zM359 181h1v1h-1zM362 181h1v1h-1zM367 181h2v1h-2zM337 182h1v1h-1zM346 182h1v1h-1zM352 182h1v1h-1zM359 182h2v1h-2zM364 182h1v1h-1zM366 182h1v1h-1zM371 182h1v1h-1zM373 182h1v1h-1zM336 183h1v1h-1zM338 183h1v1h-1zM363 183h1v1h-1zM368 183h3v1h-3zM372 183h1v1h-1zM494 183h1v1h-1zM334 184h1v1h-1zM344 184h1v1h-1zM347 184h2v1h-2zM355 184h1v1h-1zM372 184h1v1h-1zM484 184h1v1h-1zM343 185h1v1h-1zM346 185h1v1h-1zM358 185h2v1h-2zM366 185h2v1h-2zM369 185h1v1h-1zM373 185h1v1h-1zM336 186h1v1h-1zM348 186h2v1h-2zM351 186h2v1h-2zM355 186h1v1h-1zM357 186h1v1h-1zM361 186h2v1h-2zM335 187h1v1h-1zM346 187h1v1h-1zM360 187h1v1h-1zM366 187h1v1h-1zM368 187h1v1h-1zM372 187h2v1h-2zM483 187h1v1h-1zM336 188h1v1h-1zM338 188h1v1h-1zM341 188h1v1h-1zM344 188h1v1h-1zM353 188h1v1h-1zM357 188h1v1h-1zM359 188h1v1h-1zM366 188h1v1h-1zM347 189h1v1h-1zM355 189h1v1h-1zM358 189h1v1h-1zM361 189h3v1h-3zM372 189h1v1h-1zM342 190h1v1h-1zM344 190h1v1h-1zM346 190h1v1h-1zM353 190h1v1h-1zM355 190h1v1h-1zM358 190h1v1h-1zM361 190h1v1h-1zM365 190h1v1h-1zM367 190h1v1h-1zM369 190h2v1h-2zM373 190h1v1h-1zM337 191h1v1h-1zM343 191h1v1h-1zM352 191h1v1h-1zM355 191h1v1h-1zM365 191h1v1h-1zM368 191h1v1h-1zM370 191h1v1h-1zM372 191h2v1h-2zM338 192h1v1h-1zM340 192h1v1h-1zM343 192h2v1h-2zM346 192h1v1h-1zM349 192h1v1h-1zM351 192h1v1h-1zM355 192h2v1h-2zM360 192h1v1h-1zM362 192h3v1h-3zM366 192h1v1h-1zM368 192h3v1h-3zM355 193h1v1h-1zM361 193h2v1h-2zM365 193h1v1h-1zM372 193h2v1h-2zM340 194h1v1h-1zM345 194h1v1h-1zM350 194h2v1h-2zM353 194h1v1h-1zM355 194h1v1h-1zM362 194h2v1h-2zM368 194h1v1h-1zM370 194h1v1h-1zM347 195h1v1h-1zM351 195h1v1h-1zM353 195h1v1h-1zM356 195h2v1h-2zM362 195h2v1h-2zM366 195h1v1h-1zM368 195h3v1h-3zM373 195h1v1h-1zM342 196h1v1h-1zM348 196h5v1h-5zM362 196h2v1h-2zM365 196h2v1h-2zM368 196h1v1h-1zM372 196h2v1h-2zM342 197h1v1h-1zM349 197h1v1h-1zM354 197h1v1h-1zM359 197h1v1h-1zM473 197h1v1h-1zM481 197h1v1h-1zM341 198h1v1h-1zM347 198h1v1h-1zM351 198h1v1h-1zM357 198h1v1h-1zM360 198h1v1h-1zM363 198h1v1h-1zM365 198h1v1h-1zM368 198h1v1h-1zM373 198h1v1h-1zM474 198h1v1h-1zM487 198h1v1h-1zM342 199h1v1h-1zM351 199h1v1h-1zM353 199h1v1h-1zM366 199h2v1h-2zM370 199h1v1h-1zM473 199h1v1h-1zM491 199h1v1h-1zM504 199h1v1h-1zM353 200h2v1h-2zM357 200h1v1h-1zM360 200h1v1h-1zM362 200h1v1h-1zM365 200h1v1h-1zM367 200h1v1h-1zM369 200h2v1h-2zM345 201h2v1h-2zM356 201h1v1h-1zM358 201h1v1h-1zM366 201h1v1h-1zM371 201h1v1h-1zM373 201h1v1h-1zM487 201h1v1h-1zM348 202h1v1h-1zM370 202h1v1h-1zM372 202h2v1h-2zM495 202h1v1h-1zM347 203h1v1h-1zM353 203h1v1h-1zM365 203h1v1h-1zM345 204h1v1h-1zM348 204h1v1h-1zM352 205h1v1h-1zM355 205h3v1h-3zM359 205h2v1h-2zM366 205h1v1h-1zM372 205h1v1h-1zM348 206h1v1h-1zM352 206h1v1h-1zM362 206h1v1h-1zM365 206h1v1h-1zM368 206h2v1h-2zM371 206h1v1h-1zM347 207h1v1h-1zM350 207h3v1h-3zM357 207h1v1h-1zM360 207h1v1h-1zM364 207h1v1h-1zM368 207h2v1h-2zM371 207h1v1h-1zM373 207h1v1h-1zM355 208h1v1h-1zM358 208h1v1h-1zM362 208h1v1h-1zM365 208h2v1h-2zM368 208h2v1h-2zM373 208h1v1h-1zM354 209h1v1h-1zM361 209h1v1h-1zM363 209h1v1h-1zM366 209h1v1h-1zM368 209h1v1h-1zM370 209h1v1h-1zM496 209h1v1h-1zM351 210h2v1h-2zM355 210h2v1h-2zM360 210h1v1h-1zM364 210h2v1h-2zM369 210h1v1h-1zM372 210h1v1h-1zM374 210h1v1h-1zM349 211h1v1h-1zM356 211h1v1h-1zM362 211h1v1h-1zM368 211h1v1h-1zM352 212h1v1h-1zM357 212h1v1h-1zM365 212h1v1h-1zM370 212h1v1h-1zM373 212h1v1h-1zM358 213h1v1h-1zM371 213h1v1h-1zM494 213h1v1h-1zM351 214h2v1h-2zM356 214h1v1h-1zM359 214h1v1h-1zM366 214h3v1h-3zM372 214h1v1h-1zM467 214h1v1h-1zM354 215h1v1h-1zM357 215h1v1h-1zM363 215h1v1h-1zM367 215h1v1h-1zM369 215h1v1h-1zM373 215h1v1h-1zM355 216h1v1h-1zM360 216h1v1h-1zM362 216h1v1h-1zM365 216h1v1h-1zM367 216h1v1h-1zM371 216h1v1h-1zM373 216h1v1h-1zM469 216h1v1h-1zM353 217h1v1h-1zM358 217h1v1h-1zM366 217h1v1h-1zM368 217h1v1h-1zM371 217h1v1h-1zM353 218h1v1h-1zM355 218h2v1h-2zM369 218h1v1h-1zM372 218h1v1h-1zM363 219h1v1h-1zM369 219h1v1h-1zM355 220h1v1h-1zM359 220h1v1h-1zM363 220h3v1h-3zM369 220h2v1h-2zM500 220h1v1h-1zM354 221h1v1h-1zM359 221h1v1h-1zM363 221h3v1h-3zM361 222h1v1h-1zM363 222h1v1h-1zM365 222h1v1h-1zM367 222h2v1h-2zM372 222h1v1h-1zM479 222h1v1h-1zM356 223h1v1h-1zM361 223h1v1h-1zM364 223h1v1h-1zM368 223h2v1h-2zM358 224h2v1h-2zM366 224h1v1h-1zM368 224h1v1h-1zM373 224h1v1h-1zM356 225h2v1h-2zM361 225h1v1h-1zM366 225h1v1h-1zM368 225h1v1h-1zM370 225h2v1h-2zM373 225h1v1h-1zM359 226h1v1h-1zM361 226h1v1h-1zM364 226h1v1h-1zM371 226h2v1h-2zM359 227h2v1h-2zM362 227h1v1h-1zM364 227h1v1h-1zM366 227h1v1h-1zM358 228h1v1h-1zM360 228h1v1h-1zM362 228h1v1h-1zM371 228h1v1h-1zM500 228h1v1h-1zM363 229h2v1h-2zM369 229h1v1h-1zM373 229h1v1h-1zM367 230h1v1h-1zM370 230h1v1h-1zM360 231h1v1h-1zM363 231h4v1h-4zM370 231h1v1h-1zM364 232h1v1h-1zM366 232h1v1h-1zM368 232h1v1h-1zM371 232h1v1h-1zM373 232h1v1h-1zM465 232h1v1h-1zM484 232h1v1h-1zM360 233h2v1h-2zM367 233h1v1h-1zM372 233h1v1h-1zM361 234h1v1h-1zM363 234h1v1h-1zM366 234h1v1h-1zM371 234h2v1h-2zM362 235h1v1h-1zM369 235h2v1h-2zM464 235h1v1h-1zM483 235h1v1h-1zM365 236h1v1h-1zM464 236h1v1h-1zM362 237h4v1h-4zM370 237h2v1h-2zM373 237h1v1h-1zM467 237h1v1h-1zM366 238h2v1h-2zM370 238h2v1h-2zM365 239h1v1h-1zM369 239h1v1h-1zM373 239h1v1h-1zM364 240h3v1h-3zM370 240h3v1h-3zM474 240h1v1h-1zM372 241h1v1h-1zM469 241h1v1h-1zM505 241h1v1h-1zM366 242h1v1h-1zM370 242h3v1h-3zM474 242h1v1h-1zM493 242h1v1h-1zM505 242h1v1h-1zM367 243h2v1h-2zM371 243h1v1h-1zM463 243h1v1h-1zM371 244h2v1h-2zM366 245h1v1h-1zM368 245h1v1h-1zM372 245h1v1h-1zM505 245h1v1h-1zM367 246h1v1h-1zM497 246h1v1h-1z" fill="#d04a4a"/>
<line x1="322.7" y1="246.79" x2="514.5" y2="246.79" stroke="#d23a3a" stroke-width="1.1" stroke-dasharray="3.6 1.9"/>
<rect x="322.7" y="102" width="191.8" height="201.7" fill="none" stroke="#c4c4c4" stroke-width="1.2"/>
<line x1="329.78" y1="303.7" x2="329.78" y2="305.5" stroke="#b8b8b8" stroke-width="0.8"/>
<text x="330.18" y="316.6" font-size="9.0" text-anchor="middle" fill="#1a1a1a">- 4</text>
<line x1="374.14" y1="303.7" x2="374.14" y2="305.5" stroke="#b8b8b8" stroke-width="0.8"/>
<text x="374.54" y="316.6" font-size="9.0" text-anchor="middle" fill="#1a1a1a">- 2</text>
<line x1="418.5" y1="303.7" x2="418.5" y2="305.5" stroke="#b8b8b8" stroke-width="0.8"/>
<text x="418.5" y="316.6" font-size="9.0" text-anchor="middle" fill="#1a1a1a">0</text>
<line x1="462.86" y1="303.7" x2="462.86" y2="305.5" stroke="#b8b8b8" stroke-width="0.8"/>
<text x="462.86" y="316.6" font-size="9.0" text-anchor="middle" fill="#1a1a1a">2</text>
<line x1="507.22" y1="303.7" x2="507.22" y2="305.5" stroke="#b8b8b8" stroke-width="0.8"/>
<text x="507.22" y="316.6" font-size="9.0" text-anchor="middle" fill="#1a1a1a">4</text>
<line x1="322.1" y1="296.5" x2="323.9" y2="296.5" stroke="#b8b8b8" stroke-width="0.8"/>
<text x="318" y="300.65" font-size="9.0" text-anchor="end" fill="#1a1a1a">0</text>
<line x1="322.1" y1="263.36" x2="323.9" y2="263.36" stroke="#b8b8b8" stroke-width="0.8"/>
<text x="318" y="267.51" font-size="9.0" text-anchor="end" fill="#1a1a1a">2</text>
<line x1="322.1" y1="230.22" x2="323.9" y2="230.22" stroke="#b8b8b8" stroke-width="0.8"/>
<text x="318" y="234.37" font-size="9.0" text-anchor="end" fill="#1a1a1a">4</text>
<line x1="322.1" y1="197.08" x2="323.9" y2="197.08" stroke="#b8b8b8" stroke-width="0.8"/>
<text x="318" y="201.23" font-size="9.0" text-anchor="end" fill="#1a1a1a">6</text>
<line x1="322.1" y1="163.94" x2="323.9" y2="163.94" stroke="#b8b8b8" stroke-width="0.8"/>
<text x="318" y="168.09" font-size="9.0" text-anchor="end" fill="#1a1a1a">8</text>
<line x1="322.1" y1="130.8" x2="323.9" y2="130.8" stroke="#b8b8b8" stroke-width="0.8"/>
<text x="318" y="134.95" font-size="9.0" text-anchor="end" fill="#1a1a1a">10</text>
<text x="329.8" y="327.2" font-size="9.4" fill="#1a1a1a" textLength="166.7" lengthAdjust="spacingAndGlyphs">Methylation Δ (<tspan font-style="italic">CEBPA</tspan><tspan font-style="italic" font-size="6" dy="-3.2">sil</tspan><tspan font-style="italic" dy="3.2"> - Normal CD34)</tspan></text>
<text x="294.9" y="203.4" font-size="9.4" fill="#1a1a1a" text-anchor="middle" transform="rotate(-90 294.9 203.4)" textLength="90.7" lengthAdjust="spacingAndGlyphs">Statistical significance</text>
<text x="307.8" y="203.9" font-size="9.4" fill="#1a1a1a" text-anchor="middle" transform="rotate(-90 307.8 203.9)" textLength="59.7" lengthAdjust="spacingAndGlyphs">-log<tspan font-size="6.2" dy="2.2">10</tspan><tspan dy="-2.2">(p value)</tspan></text>
<rect x="440.7" y="108.7" width="66.7" height="29.7" fill="#fff" stroke="#8c8c8c" stroke-width="0.9"/>
<text x="442.5" y="118.8" font-size="9.2" fill="#1a1a1a" textLength="33.9" lengthAdjust="spacingAndGlyphs"><tspan font-style="italic">P</tspan> &lt; .001</text>
<text x="442.5" y="135.1" font-size="9.2" fill="#1a1a1a" textLength="57.5" lengthAdjust="spacingAndGlyphs">Absolute Δ &gt;2</text>
<path d="M351 497h1v1h-1zM360 500h1v1h-1zM344 501h1v1h-1zM478 503h1v1h-1zM475 504h1v1h-1zM481 504h1v1h-1zM356 505h1v1h-1zM472 505h1v1h-1zM370 508h1v1h-1zM366 509h1v1h-1zM479 509h1v1h-1zM490 511h1v1h-1zM494 512h1v1h-1zM363 513h1v1h-1zM479 514h1v1h-1zM476 515h1v1h-1zM486 515h1v1h-1zM363 516h1v1h-1zM470 516h1v1h-1zM476 516h1v1h-1zM478 516h1v1h-1zM486 516h1v1h-1zM371 517h1v1h-1zM471 517h1v1h-1zM473 518h1v1h-1zM489 518h1v1h-1zM470 519h1v1h-1zM496 519h1v1h-1zM356 520h1v1h-1zM472 520h1v1h-1zM358 521h1v1h-1zM472 521h1v1h-1zM488 521h1v1h-1zM490 521h1v1h-1zM367 522h1v1h-1zM372 522h1v1h-1zM366 523h1v1h-1zM370 523h1v1h-1zM468 523h1v1h-1zM371 524h1v1h-1zM469 524h1v1h-1zM464 527h1v1h-1zM468 527h1v1h-1zM372 528h1v1h-1zM377 528h1v1h-1zM464 528h1v1h-1zM466 528h1v1h-1zM366 529h1v1h-1zM377 529h1v1h-1zM469 529h1v1h-1zM472 529h1v1h-1zM463 530h1v1h-1zM465 530h1v1h-1zM468 530h1v1h-1zM376 531h1v1h-1zM462 531h1v1h-1zM464 531h1v1h-1zM470 531h1v1h-1zM475 531h1v1h-1zM376 532h1v1h-1zM378 532h1v1h-1zM463 532h1v1h-1zM373 533h1v1h-1zM378 533h3v1h-3zM382 533h1v1h-1zM465 533h1v1h-1zM471 533h1v1h-1zM475 533h1v1h-1zM373 534h1v1h-1zM379 534h1v1h-1zM461 535h1v1h-1zM463 535h1v1h-1zM383 536h1v1h-1zM460 536h1v1h-1zM364 537h1v1h-1zM467 537h1v1h-1zM372 538h1v1h-1zM377 538h1v1h-1zM379 538h1v1h-1zM462 538h1v1h-1zM473 538h1v1h-1zM379 539h2v1h-2zM383 539h1v1h-1zM459 539h1v1h-1zM462 539h2v1h-2zM378 540h3v1h-3zM464 540h1v1h-1zM377 541h1v1h-1zM380 541h1v1h-1zM460 541h1v1h-1zM463 541h2v1h-2zM467 541h1v1h-1zM473 541h1v1h-1zM378 542h1v1h-1zM383 542h2v1h-2zM458 542h1v1h-1zM467 542h1v1h-1zM374 543h1v1h-1zM457 543h1v1h-1zM465 543h1v1h-1zM467 543h1v1h-1zM378 544h2v1h-2zM381 544h1v1h-1zM457 544h1v1h-1zM459 544h1v1h-1zM469 544h1v1h-1zM378 545h1v1h-1zM381 545h1v1h-1zM386 545h1v1h-1zM459 545h1v1h-1zM461 545h2v1h-2zM379 546h3v1h-3zM383 546h1v1h-1zM386 546h1v1h-1zM456 546h1v1h-1zM460 546h2v1h-2zM356 547h1v1h-1zM378 547h1v1h-1zM387 547h1v1h-1zM463 547h1v1h-1zM480 547h1v1h-1zM380 548h1v1h-1zM456 548h3v1h-3zM462 548h1v1h-1zM379 549h2v1h-2zM383 549h4v1h-4zM460 549h1v1h-1zM462 549h1v1h-1zM464 549h1v1h-1zM371 550h1v1h-1zM377 550h2v1h-2zM381 550h1v1h-1zM383 550h1v1h-1zM377 551h3v1h-3zM382 551h1v1h-1zM455 551h1v1h-1zM459 551h1v1h-1zM464 551h1v1h-1zM359 552h1v1h-1zM377 552h1v1h-1zM379 552h1v1h-1zM384 552h5v1h-5zM455 552h2v1h-2zM365 553h1v1h-1zM383 553h1v1h-1zM387 553h2v1h-2zM457 553h3v1h-3zM463 553h1v1h-1zM366 554h1v1h-1zM377 554h1v1h-1zM384 554h1v1h-1zM454 554h6v1h-6zM461 554h1v1h-1zM379 555h1v1h-1zM384 555h1v1h-1zM389 555h1v1h-1zM456 555h2v1h-2zM463 555h1v1h-1zM472 555h1v1h-1zM386 556h3v1h-3zM455 556h2v1h-2zM465 556h1v1h-1zM377 557h1v1h-1zM387 557h3v1h-3zM454 557h1v1h-1zM458 557h3v1h-3zM378 558h1v1h-1zM380 558h1v1h-1zM453 558h1v1h-1zM457 558h1v1h-1zM459 558h1v1h-1zM463 558h1v1h-1zM468 558h1v1h-1zM375 559h1v1h-1zM381 559h1v1h-1zM383 559h2v1h-2zM387 559h2v1h-2zM390 559h1v1h-1zM452 559h2v1h-2zM455 559h2v1h-2zM464 559h1v1h-1zM384 560h1v1h-1zM386 560h2v1h-2zM391 560h1v1h-1zM455 560h1v1h-1zM457 560h2v1h-2zM460 560h1v1h-1zM377 561h1v1h-1zM381 561h2v1h-2zM385 561h2v1h-2zM388 561h1v1h-1zM452 561h5v1h-5zM463 561h1v1h-1zM467 561h1v1h-1zM380 562h2v1h-2zM386 562h2v1h-2zM389 562h3v1h-3zM455 562h2v1h-2zM367 563h1v1h-1zM380 563h1v1h-1zM387 563h5v1h-5zM451 563h2v1h-2zM458 563h1v1h-1zM379 564h1v1h-1zM383 564h1v1h-1zM385 564h1v1h-1zM388 564h1v1h-1zM390 564h1v1h-1zM452 564h1v1h-1zM457 564h1v1h-1zM461 564h1v1h-1zM374 565h1v1h-1zM383 565h1v1h-1zM387 565h3v1h-3zM391 565h2v1h-2zM450 565h2v1h-2zM454 565h1v1h-1zM463 565h1v1h-1zM385 566h3v1h-3zM389 566h3v1h-3zM393 566h1v1h-1zM450 566h3v1h-3zM456 566h4v1h-4zM461 566h1v1h-1zM464 566h1v1h-1zM473 566h1v1h-1zM376 567h1v1h-1zM379 567h1v1h-1zM381 567h3v1h-3zM385 567h3v1h-3zM389 567h2v1h-2zM450 567h1v1h-1zM453 567h1v1h-1zM462 567h1v1h-1zM368 568h1v1h-1zM387 568h1v1h-1zM392 568h1v1h-1zM451 568h2v1h-2zM454 568h5v1h-5zM462 568h2v1h-2zM467 568h1v1h-1zM380 569h1v1h-1zM383 569h1v1h-1zM389 569h5v1h-5zM449 569h1v1h-1zM453 569h2v1h-2zM460 569h1v1h-1zM462 569h2v1h-2zM465 569h1v1h-1zM387 570h1v1h-1zM389 570h1v1h-1zM449 570h2v1h-2zM453 570h1v1h-1zM456 570h1v1h-1zM380 571h1v1h-1zM382 571h1v1h-1zM387 571h1v1h-1zM389 571h4v1h-4zM448 571h1v1h-1zM455 571h1v1h-1zM457 571h3v1h-3zM464 571h1v1h-1zM377 572h1v1h-1zM379 572h1v1h-1zM382 572h1v1h-1zM389 572h1v1h-1zM391 572h1v1h-1zM450 572h2v1h-2zM453 572h1v1h-1zM455 572h4v1h-4zM379 573h1v1h-1zM386 573h1v1h-1zM388 573h1v1h-1zM392 573h1v1h-1zM452 573h2v1h-2zM463 573h2v1h-2zM377 574h3v1h-3zM381 574h1v1h-1zM389 574h3v1h-3zM393 574h3v1h-3zM446 574h3v1h-3zM451 574h1v1h-1zM453 574h1v1h-1zM461 574h1v1h-1zM379 575h1v1h-1zM383 575h1v1h-1zM386 575h1v1h-1zM388 575h1v1h-1zM391 575h1v1h-1zM447 575h12v1h-12zM465 575h1v1h-1zM376 576h1v1h-1zM383 576h1v1h-1zM385 576h1v1h-1zM391 576h3v1h-3zM395 576h2v1h-2zM446 576h9v1h-9zM460 576h1v1h-1zM381 577h2v1h-2zM387 577h2v1h-2zM390 577h2v1h-2zM393 577h1v1h-1zM397 577h1v1h-1zM446 577h3v1h-3zM450 577h4v1h-4zM455 577h2v1h-2zM458 577h2v1h-2zM464 577h1v1h-1zM384 578h1v1h-1zM387 578h3v1h-3zM392 578h6v1h-6zM446 578h1v1h-1zM450 578h2v1h-2zM454 578h2v1h-2zM457 578h2v1h-2zM464 578h1v1h-1zM369 579h1v1h-1zM381 579h1v1h-1zM385 579h6v1h-6zM393 579h2v1h-2zM396 579h1v1h-1zM446 579h1v1h-1zM450 579h1v1h-1zM452 579h1v1h-1zM454 579h1v1h-1zM456 579h1v1h-1zM458 579h1v1h-1zM463 579h2v1h-2zM363 580h1v1h-1zM378 580h1v1h-1zM382 580h1v1h-1zM392 580h3v1h-3zM396 580h3v1h-3zM444 580h3v1h-3zM449 580h2v1h-2zM453 580h5v1h-5zM467 580h1v1h-1zM378 581h1v1h-1zM381 581h2v1h-2zM384 581h1v1h-1zM390 581h2v1h-2zM395 581h1v1h-1zM445 581h11v1h-11zM459 581h1v1h-1zM377 582h1v1h-1zM382 582h3v1h-3zM389 582h2v1h-2zM393 582h1v1h-1zM396 582h2v1h-2zM445 582h2v1h-2zM448 582h1v1h-1zM451 582h1v1h-1zM454 582h1v1h-1zM457 582h3v1h-3zM461 582h1v1h-1zM374 583h1v1h-1zM384 583h1v1h-1zM387 583h1v1h-1zM391 583h2v1h-2zM397 583h2v1h-2zM446 583h1v1h-1zM449 583h4v1h-4zM456 583h1v1h-1zM459 583h1v1h-1zM385 584h1v1h-1zM387 584h2v1h-2zM390 584h1v1h-1zM394 584h1v1h-1zM396 584h1v1h-1zM399 584h1v1h-1zM443 584h3v1h-3zM448 584h3v1h-3zM452 584h6v1h-6zM460 584h1v1h-1zM464 584h1v1h-1zM466 584h1v1h-1zM380 585h1v1h-1zM382 585h1v1h-1zM387 585h5v1h-5zM395 585h2v1h-2zM398 585h2v1h-2zM443 585h1v1h-1zM445 585h1v1h-1zM447 585h3v1h-3zM451 585h1v1h-1zM455 585h1v1h-1zM457 585h1v1h-1zM380 586h1v1h-1zM382 586h1v1h-1zM384 586h1v1h-1zM387 586h1v1h-1zM391 586h5v1h-5zM397 586h4v1h-4zM442 586h5v1h-5zM448 586h4v1h-4zM453 586h2v1h-2zM456 586h1v1h-1zM460 586h3v1h-3zM381 587h1v1h-1zM384 587h2v1h-2zM387 587h5v1h-5zM393 587h1v1h-1zM396 587h2v1h-2zM399 587h1v1h-1zM443 587h9v1h-9zM454 587h2v1h-2zM461 587h1v1h-1zM381 588h1v1h-1zM386 588h2v1h-2zM389 588h2v1h-2zM392 588h9v1h-9zM442 588h6v1h-6zM450 588h3v1h-3zM455 588h2v1h-2zM459 588h1v1h-1zM464 588h1v1h-1zM384 589h1v1h-1zM387 589h2v1h-2zM390 589h2v1h-2zM393 589h1v1h-1zM396 589h1v1h-1zM398 589h3v1h-3zM441 589h5v1h-5zM448 589h3v1h-3zM452 589h1v1h-1zM454 589h2v1h-2zM457 589h1v1h-1zM461 589h1v1h-1zM463 589h1v1h-1zM384 590h1v1h-1zM386 590h5v1h-5zM392 590h6v1h-6zM399 590h3v1h-3zM441 590h1v1h-1zM443 590h2v1h-2zM446 590h3v1h-3zM451 590h3v1h-3zM458 590h1v1h-1zM464 590h1v1h-1zM466 590h1v1h-1zM377 591h1v1h-1zM379 591h1v1h-1zM384 591h1v1h-1zM386 591h1v1h-1zM389 591h13v1h-13zM441 591h14v1h-14zM456 591h1v1h-1zM458 591h1v1h-1zM376 592h2v1h-2zM382 592h1v1h-1zM386 592h2v1h-2zM390 592h2v1h-2zM393 592h5v1h-5zM400 592h3v1h-3zM440 592h6v1h-6zM448 592h3v1h-3zM456 592h3v1h-3zM460 592h1v1h-1zM383 593h1v1h-1zM385 593h2v1h-2zM388 593h2v1h-2zM391 593h10v1h-10zM402 593h1v1h-1zM440 593h3v1h-3zM445 593h2v1h-2zM449 593h2v1h-2zM453 593h2v1h-2zM456 593h2v1h-2zM460 593h2v1h-2zM467 593h1v1h-1zM380 594h1v1h-1zM385 594h2v1h-2zM389 594h1v1h-1zM391 594h2v1h-2zM398 594h5v1h-5zM440 594h6v1h-6zM447 594h2v1h-2zM454 594h1v1h-1zM456 594h4v1h-4zM461 594h1v1h-1zM382 595h1v1h-1zM388 595h1v1h-1zM390 595h1v1h-1zM392 595h1v1h-1zM397 595h6v1h-6zM440 595h7v1h-7zM448 595h8v1h-8zM458 595h1v1h-1zM460 595h1v1h-1zM466 595h1v1h-1zM382 596h2v1h-2zM386 596h1v1h-1zM392 596h3v1h-3zM397 596h7v1h-7zM439 596h4v1h-4zM445 596h7v1h-7zM453 596h4v1h-4zM463 596h1v1h-1zM382 597h1v1h-1zM385 597h1v1h-1zM389 597h4v1h-4zM394 597h3v1h-3zM398 597h6v1h-6zM439 597h3v1h-3zM443 597h1v1h-1zM445 597h6v1h-6zM458 597h1v1h-1zM463 597h1v1h-1zM382 598h1v1h-1zM388 598h2v1h-2zM391 598h2v1h-2zM394 598h11v1h-11zM439 598h5v1h-5zM446 598h2v1h-2zM449 598h5v1h-5zM459 598h1v1h-1zM463 598h1v1h-1zM468 598h1v1h-1zM384 599h3v1h-3zM388 599h16v1h-16zM438 599h6v1h-6zM445 599h2v1h-2zM448 599h2v1h-2zM451 599h3v1h-3zM456 599h3v1h-3zM382 600h1v1h-1zM385 600h2v1h-2zM388 600h2v1h-2zM391 600h1v1h-1zM395 600h1v1h-1zM397 600h4v1h-4zM402 600h3v1h-3zM438 600h3v1h-3zM443 600h4v1h-4zM448 600h1v1h-1zM451 600h1v1h-1zM455 600h2v1h-2zM460 600h1v1h-1zM377 601h1v1h-1zM387 601h1v1h-1zM389 601h1v1h-1zM391 601h2v1h-2zM394 601h9v1h-9zM404 601h2v1h-2zM437 601h7v1h-7zM445 601h1v1h-1zM447 601h1v1h-1zM449 601h1v1h-1zM451 601h1v1h-1zM454 601h1v1h-1zM380 602h1v1h-1zM384 602h4v1h-4zM390 602h12v1h-12zM403 602h3v1h-3zM437 602h2v1h-2zM440 602h1v1h-1zM442 602h10v1h-10zM453 602h3v1h-3zM463 602h1v1h-1zM370 603h1v1h-1zM383 603h2v1h-2zM389 603h4v1h-4zM395 603h2v1h-2zM398 603h8v1h-8zM437 603h1v1h-1zM439 603h1v1h-1zM441 603h2v1h-2zM444 603h5v1h-5zM450 603h2v1h-2zM456 603h1v1h-1zM458 603h1v1h-1zM382 604h1v1h-1zM390 604h1v1h-1zM392 604h1v1h-1zM394 604h1v1h-1zM396 604h3v1h-3zM400 604h3v1h-3zM404 604h3v1h-3zM436 604h1v1h-1zM438 604h2v1h-2zM441 604h2v1h-2zM444 604h4v1h-4zM449 604h2v1h-2zM452 604h1v1h-1zM454 604h1v1h-1zM456 604h1v1h-1zM459 604h2v1h-2zM386 605h1v1h-1zM390 605h10v1h-10zM401 605h6v1h-6zM436 605h13v1h-13zM450 605h1v1h-1zM392 606h1v1h-1zM394 606h2v1h-2zM397 606h5v1h-5zM403 606h4v1h-4zM435 606h16v1h-16zM453 606h1v1h-1zM455 606h1v1h-1zM458 606h1v1h-1zM383 607h1v1h-1zM386 607h1v1h-1zM392 607h1v1h-1zM395 607h13v1h-13zM435 607h15v1h-15zM452 607h2v1h-2zM455 607h1v1h-1zM460 607h1v1h-1zM379 608h1v1h-1zM385 608h3v1h-3zM390 608h2v1h-2zM393 608h15v1h-15zM435 608h4v1h-4zM440 608h6v1h-6zM447 608h3v1h-3zM451 608h1v1h-1zM453 608h1v1h-1zM455 608h2v1h-2zM382 609h1v1h-1zM385 609h1v1h-1zM387 609h1v1h-1zM391 609h1v1h-1zM394 609h11v1h-11zM406 609h2v1h-2zM434 609h12v1h-12zM447 609h3v1h-3zM474 609h1v1h-1zM390 610h1v1h-1zM393 610h3v1h-3zM397 610h11v1h-11zM434 610h12v1h-12zM447 610h3v1h-3zM392 611h2v1h-2zM396 611h13v1h-13zM434 611h10v1h-10zM445 611h3v1h-3zM450 611h3v1h-3zM455 611h1v1h-1zM458 611h1v1h-1zM383 612h1v1h-1zM385 612h1v1h-1zM388 612h1v1h-1zM390 612h1v1h-1zM393 612h1v1h-1zM395 612h14v1h-14zM433 612h10v1h-10zM444 612h5v1h-5zM452 612h1v1h-1zM458 612h1v1h-1zM387 613h3v1h-3zM398 613h6v1h-6zM405 613h3v1h-3zM409 613h1v1h-1zM433 613h11v1h-11zM445 613h1v1h-1zM448 613h1v1h-1zM450 613h1v1h-1zM452 613h1v1h-1zM458 613h1v1h-1zM389 614h1v1h-1zM391 614h8v1h-8zM400 614h9v1h-9zM432 614h12v1h-12zM445 614h2v1h-2zM448 614h1v1h-1zM453 614h1v1h-1zM392 615h1v1h-1zM395 615h2v1h-2zM399 615h11v1h-11zM432 615h12v1h-12zM445 615h4v1h-4zM454 615h1v1h-1zM386 616h1v1h-1zM393 616h1v1h-1zM396 616h15v1h-15zM432 616h14v1h-14zM447 616h3v1h-3zM451 616h1v1h-1zM457 616h1v1h-1zM389 617h3v1h-3zM393 617h1v1h-1zM395 617h3v1h-3zM399 617h12v1h-12zM431 617h11v1h-11zM443 617h6v1h-6zM450 617h1v1h-1zM456 617h1v1h-1zM391 618h1v1h-1zM395 618h2v1h-2zM398 618h3v1h-3zM402 618h9v1h-9zM431 618h9v1h-9zM441 618h3v1h-3zM446 618h2v1h-2zM392 619h1v1h-1zM395 619h5v1h-5zM401 619h11v1h-11zM431 619h12v1h-12zM445 619h1v1h-1zM388 620h1v1h-1zM392 620h4v1h-4zM397 620h15v1h-15zM430 620h12v1h-12zM443 620h1v1h-1zM446 620h1v1h-1zM448 620h1v1h-1zM395 621h1v1h-1zM398 621h1v1h-1zM400 621h12v1h-12zM431 621h12v1h-12zM444 621h3v1h-3zM449 621h2v1h-2zM452 621h1v1h-1zM392 622h1v1h-1zM397 622h5v1h-5zM403 622h10v1h-10zM430 622h12v1h-12zM443 622h3v1h-3zM391 623h1v1h-1zM394 623h1v1h-1zM398 623h2v1h-2zM401 623h1v1h-1zM403 623h10v1h-10zM429 623h17v1h-17zM393 624h1v1h-1zM397 624h1v1h-1zM399 624h15v1h-15zM429 624h18v1h-18zM396 625h2v1h-2zM399 625h4v1h-4zM404 625h10v1h-10zM428 625h14v1h-14zM444 625h1v1h-1zM397 626h1v1h-1zM399 626h15v1h-15zM428 626h12v1h-12zM442 626h1v1h-1zM444 626h1v1h-1zM446 626h1v1h-1zM456 626h1v1h-1zM398 627h3v1h-3zM402 627h12v1h-12zM428 627h14v1h-14zM443 627h1v1h-1zM397 628h1v1h-1zM399 628h16v1h-16zM427 628h14v1h-14zM442 628h2v1h-2zM446 628h1v1h-1zM397 629h2v1h-2zM400 629h2v1h-2zM403 629h12v1h-12zM427 629h13v1h-13zM441 629h3v1h-3zM445 629h2v1h-2zM448 629h1v1h-1zM400 630h16v1h-16zM427 630h10v1h-10zM438 630h1v1h-1zM441 630h1v1h-1zM444 630h1v1h-1zM395 631h1v1h-1zM400 631h16v1h-16zM427 631h11v1h-11zM439 631h4v1h-4zM397 632h1v1h-1zM402 632h14v1h-14zM426 632h15v1h-15zM402 633h1v1h-1zM404 633h13v1h-13zM426 633h17v1h-17zM395 634h1v1h-1zM402 634h2v1h-2zM405 634h12v1h-12zM425 634h14v1h-14zM440 634h1v1h-1zM398 635h1v1h-1zM400 635h17v1h-17zM425 635h12v1h-12zM438 635h2v1h-2zM441 635h1v1h-1zM399 636h1v1h-1zM402 636h1v1h-1zM404 636h14v1h-14zM425 636h11v1h-11zM437 636h2v1h-2zM440 636h1v1h-1zM443 636h1v1h-1zM402 637h1v1h-1zM404 637h14v1h-14zM424 637h13v1h-13zM438 637h2v1h-2zM443 637h1v1h-1zM397 638h1v1h-1zM403 638h1v1h-1zM405 638h13v1h-13zM424 638h14v1h-14zM439 638h1v1h-1zM405 639h1v1h-1zM407 639h12v1h-12zM424 639h14v1h-14zM439 639h1v1h-1zM400 640h1v1h-1zM405 640h14v1h-14zM423 640h11v1h-11zM436 640h2v1h-2zM444 640h1v1h-1zM405 641h1v1h-1zM407 641h12v1h-12zM423 641h15v1h-15zM403 642h2v1h-2zM407 642h13v1h-13zM422 642h15v1h-15zM403 643h1v1h-1zM405 643h1v1h-1zM407 643h13v1h-13zM422 643h15v1h-15zM406 644h2v1h-2zM409 644h11v1h-11zM422 644h10v1h-10zM433 644h2v1h-2zM406 645h1v1h-1zM408 645h12v1h-12zM421 645h11v1h-11zM433 645h4v1h-4zM405 646h2v1h-2zM408 646h25v1h-25zM406 647h1v1h-1zM409 647h26v1h-26zM410 648h5v1h-5zM416 648h14v1h-14zM431 648h1v1h-1z" fill="#111"/>
<path d="M335 474h1v1h-1zM499 478h1v1h-1zM349 480h1v1h-1zM350 485h1v1h-1zM488 492h1v1h-1zM477 496h1v1h-1zM481 496h1v1h-1zM358 497h1v1h-1zM360 497h1v1h-1zM477 497h1v1h-1zM481 497h2v1h-2zM349 498h1v1h-1zM360 498h1v1h-1zM478 498h1v1h-1zM490 498h1v1h-1zM478 499h1v1h-1zM477 500h1v1h-1zM492 500h1v1h-1zM365 501h1v1h-1zM349 502h1v1h-1zM363 502h1v1h-1zM366 502h1v1h-1zM368 502h1v1h-1zM477 502h1v1h-1zM345 503h1v1h-1zM348 503h1v1h-1zM356 503h1v1h-1zM486 503h1v1h-1zM350 504h1v1h-1zM355 504h1v1h-1zM367 504h1v1h-1zM482 504h1v1h-1zM363 505h1v1h-1zM367 505h1v1h-1zM496 505h1v1h-1zM368 506h1v1h-1zM471 506h1v1h-1zM364 507h1v1h-1zM478 507h1v1h-1zM359 508h1v1h-1zM367 508h1v1h-1zM369 508h1v1h-1zM472 508h1v1h-1zM359 509h2v1h-2zM363 509h1v1h-1zM371 509h1v1h-1zM475 509h1v1h-1zM368 510h1v1h-1zM370 510h1v1h-1zM487 510h1v1h-1zM361 511h1v1h-1zM363 511h1v1h-1zM372 511h1v1h-1zM472 511h1v1h-1zM501 511h1v1h-1zM359 512h1v1h-1zM367 512h1v1h-1zM369 512h1v1h-1zM475 512h2v1h-2zM478 512h1v1h-1zM372 513h1v1h-1zM350 514h1v1h-1zM368 514h1v1h-1zM371 514h1v1h-1zM468 514h1v1h-1zM481 514h1v1h-1zM502 514h1v1h-1zM370 515h1v1h-1zM376 515h1v1h-1zM468 515h1v1h-1zM490 515h1v1h-1zM367 516h1v1h-1zM474 516h1v1h-1zM480 516h1v1h-1zM488 516h1v1h-1zM347 517h1v1h-1zM363 517h1v1h-1zM479 517h2v1h-2zM466 518h1v1h-1zM470 518h1v1h-1zM374 519h1v1h-1zM367 520h1v1h-1zM473 520h1v1h-1zM495 520h1v1h-1zM343 521h1v1h-1zM364 521h1v1h-1zM374 521h1v1h-1zM468 521h1v1h-1zM479 521h1v1h-1zM374 522h1v1h-1zM467 522h2v1h-2zM471 522h1v1h-1zM473 522h1v1h-1zM483 522h1v1h-1zM361 523h1v1h-1zM368 523h1v1h-1zM477 523h1v1h-1zM485 523h1v1h-1zM369 524h2v1h-2zM375 524h1v1h-1zM466 524h1v1h-1zM471 524h1v1h-1zM359 525h1v1h-1zM474 525h1v1h-1zM366 526h1v1h-1zM368 526h1v1h-1zM468 526h1v1h-1zM469 527h1v1h-1zM474 527h1v1h-1zM476 527h2v1h-2zM366 528h1v1h-1zM373 528h2v1h-2zM468 528h1v1h-1zM374 529h1v1h-1zM466 529h1v1h-1zM468 529h1v1h-1zM471 529h1v1h-1zM467 530h1v1h-1zM469 530h1v1h-1zM473 530h1v1h-1zM481 530h1v1h-1zM486 530h1v1h-1zM368 531h2v1h-2zM474 531h1v1h-1zM354 532h1v1h-1zM372 532h1v1h-1zM479 533h1v1h-1zM375 534h1v1h-1zM470 534h1v1h-1zM361 535h1v1h-1zM471 535h1v1h-1zM476 535h1v1h-1zM371 536h1v1h-1zM375 536h1v1h-1zM467 536h1v1h-1zM471 536h1v1h-1zM359 537h1v1h-1zM470 537h1v1h-1zM480 537h1v1h-1zM374 538h2v1h-2zM466 538h2v1h-2zM469 538h1v1h-1zM359 539h1v1h-1zM479 539h1v1h-1zM482 539h1v1h-1zM356 540h1v1h-1zM465 540h2v1h-2zM471 540h1v1h-1zM364 541h1v1h-1zM369 541h1v1h-1zM376 541h1v1h-1zM466 541h1v1h-1zM468 541h1v1h-1zM476 541h1v1h-1zM485 541h1v1h-1zM483 542h1v1h-1zM362 543h1v1h-1zM468 544h1v1h-1zM489 544h1v1h-1zM364 545h1v1h-1zM372 545h1v1h-1zM471 545h1v1h-1zM360 546h1v1h-1zM364 546h1v1h-1zM366 546h1v1h-1zM373 546h1v1h-1zM470 547h1v1h-1zM477 547h1v1h-1zM362 548h1v1h-1zM373 548h1v1h-1zM375 548h1v1h-1zM467 548h1v1h-1zM472 549h1v1h-1zM375 550h1v1h-1zM467 550h2v1h-2zM365 551h1v1h-1zM467 551h1v1h-1zM375 552h1v1h-1zM466 552h1v1h-1zM376 553h1v1h-1zM470 553h1v1h-1zM369 554h1v1h-1zM473 555h1v1h-1zM375 556h1v1h-1zM470 556h1v1h-1zM475 556h1v1h-1zM473 557h1v1h-1zM467 558h1v1h-1zM470 558h1v1h-1zM368 559h1v1h-1zM370 559h1v1h-1zM376 559h1v1h-1zM369 560h1v1h-1zM468 561h1v1h-1zM474 562h1v1h-1zM468 563h1v1h-1zM473 563h1v1h-1zM465 564h1v1h-1zM373 565h1v1h-1zM466 565h1v1h-1zM474 565h1v1h-1zM360 566h1v1h-1zM466 566h1v1h-1zM471 567h1v1h-1zM369 568h1v1h-1zM374 568h1v1h-1zM374 570h1v1h-1zM374 571h1v1h-1zM473 572h1v1h-1zM375 574h1v1h-1zM373 577h1v1h-1zM472 577h1v1h-1zM476 579h1v1h-1zM471 581h1v1h-1zM366 582h1v1h-1zM370 582h1v1h-1zM472 582h1v1h-1zM371 583h1v1h-1zM375 585h1v1h-1zM370 587h1v1h-1zM470 587h1v1h-1zM376 588h1v1h-1zM373 589h1v1h-1zM466 591h1v1h-1zM476 591h1v1h-1z" fill="#d04a4a"/>
<line x1="324.3" y1="593.5" x2="517.7" y2="593.5" stroke="#d23a3a" stroke-width="1.1" stroke-dasharray="3.6 1.9"/>
<rect x="324.3" y="451.8" width="193.4" height="203.8" fill="none" stroke="#c4c4c4" stroke-width="1.2"/>
<line x1="331.4" y1="655.6" x2="331.4" y2="657.4" stroke="#b8b8b8" stroke-width="0.8"/>
<text x="331.8" y="668.6" font-size="9.0" text-anchor="middle" fill="#1a1a1a">- 4</text>
<line x1="376.2" y1="655.6" x2="376.2" y2="657.4" stroke="#b8b8b8" stroke-width="0.8"/>
<text x="376.6" y="668.6" font-size="9.0" text-anchor="middle" fill="#1a1a1a">- 2</text>
<line x1="421" y1="655.6" x2="421" y2="657.4" stroke="#b8b8b8" stroke-width="0.8"/>
<text x="421" y="668.6" font-size="9.0" text-anchor="middle" fill="#1a1a1a">0</text>
<line x1="465.8" y1="655.6" x2="465.8" y2="657.4" stroke="#b8b8b8" stroke-width="0.8"/>
<text x="465.8" y="668.6" font-size="9.0" text-anchor="middle" fill="#1a1a1a">2</text>
<line x1="510.6" y1="655.6" x2="510.6" y2="657.4" stroke="#b8b8b8" stroke-width="0.8"/>
<text x="510.6" y="668.6" font-size="9.0" text-anchor="middle" fill="#1a1a1a">4</text>
<line x1="323.7" y1="648.4" x2="325.5" y2="648.4" stroke="#b8b8b8" stroke-width="0.8"/>
<text x="318" y="652.55" font-size="9.0" text-anchor="end" fill="#1a1a1a">0</text>
<line x1="323.7" y1="611.8" x2="325.5" y2="611.8" stroke="#b8b8b8" stroke-width="0.8"/>
<text x="318" y="615.95" font-size="9.0" text-anchor="end" fill="#1a1a1a">2</text>
<line x1="323.7" y1="575.2" x2="325.5" y2="575.2" stroke="#b8b8b8" stroke-width="0.8"/>
<text x="318" y="579.35" font-size="9.0" text-anchor="end" fill="#1a1a1a">4</text>
<line x1="323.7" y1="538.6" x2="325.5" y2="538.6" stroke="#b8b8b8" stroke-width="0.8"/>
<text x="318" y="542.75" font-size="9.0" text-anchor="end" fill="#1a1a1a">6</text>
<line x1="323.7" y1="502" x2="325.5" y2="502" stroke="#b8b8b8" stroke-width="0.8"/>
<text x="318" y="506.15" font-size="9.0" text-anchor="end" fill="#1a1a1a">8</text>
<line x1="323.7" y1="465.4" x2="325.5" y2="465.4" stroke="#b8b8b8" stroke-width="0.8"/>
<text x="318" y="469.55" font-size="9.0" text-anchor="end" fill="#1a1a1a">10</text>
<text x="337.3" y="682.4" font-size="9.4" fill="#1a1a1a" textLength="171.9" lengthAdjust="spacingAndGlyphs">Methylation Δ (<tspan font-style="italic">CEBPA</tspan><tspan font-style="italic" font-size="6" dy="-3.2">mut</tspan><tspan font-style="italic" dy="3.2"> - Normal CD34)</tspan></text>
<text x="295.4" y="554.9" font-size="9.4" fill="#1a1a1a" text-anchor="middle" transform="rotate(-90 295.4 554.9)" textLength="90.9" lengthAdjust="spacingAndGlyphs">Statistical significance</text>
<text x="308.6" y="556" font-size="9.4" fill="#1a1a1a" text-anchor="middle" transform="rotate(-90 308.6 556)" textLength="62" lengthAdjust="spacingAndGlyphs">-log<tspan font-size="6.2" dy="2.2">10</tspan><tspan dy="-2.2">(p value)</tspan></text>
<rect x="436.2" y="456.6" width="71" height="29.7" fill="#fff" stroke="#8c8c8c" stroke-width="0.9"/>
<text x="438" y="465.7" font-size="9.2" fill="#1a1a1a" textLength="34.1" lengthAdjust="spacingAndGlyphs"><tspan font-style="italic">P</tspan> &lt; .001</text>
<text x="438" y="483" font-size="9.2" fill="#1a1a1a" textLength="60.6" lengthAdjust="spacingAndGlyphs">Absolute Δ &#160;&gt;2</text>
</svg></body></html>
